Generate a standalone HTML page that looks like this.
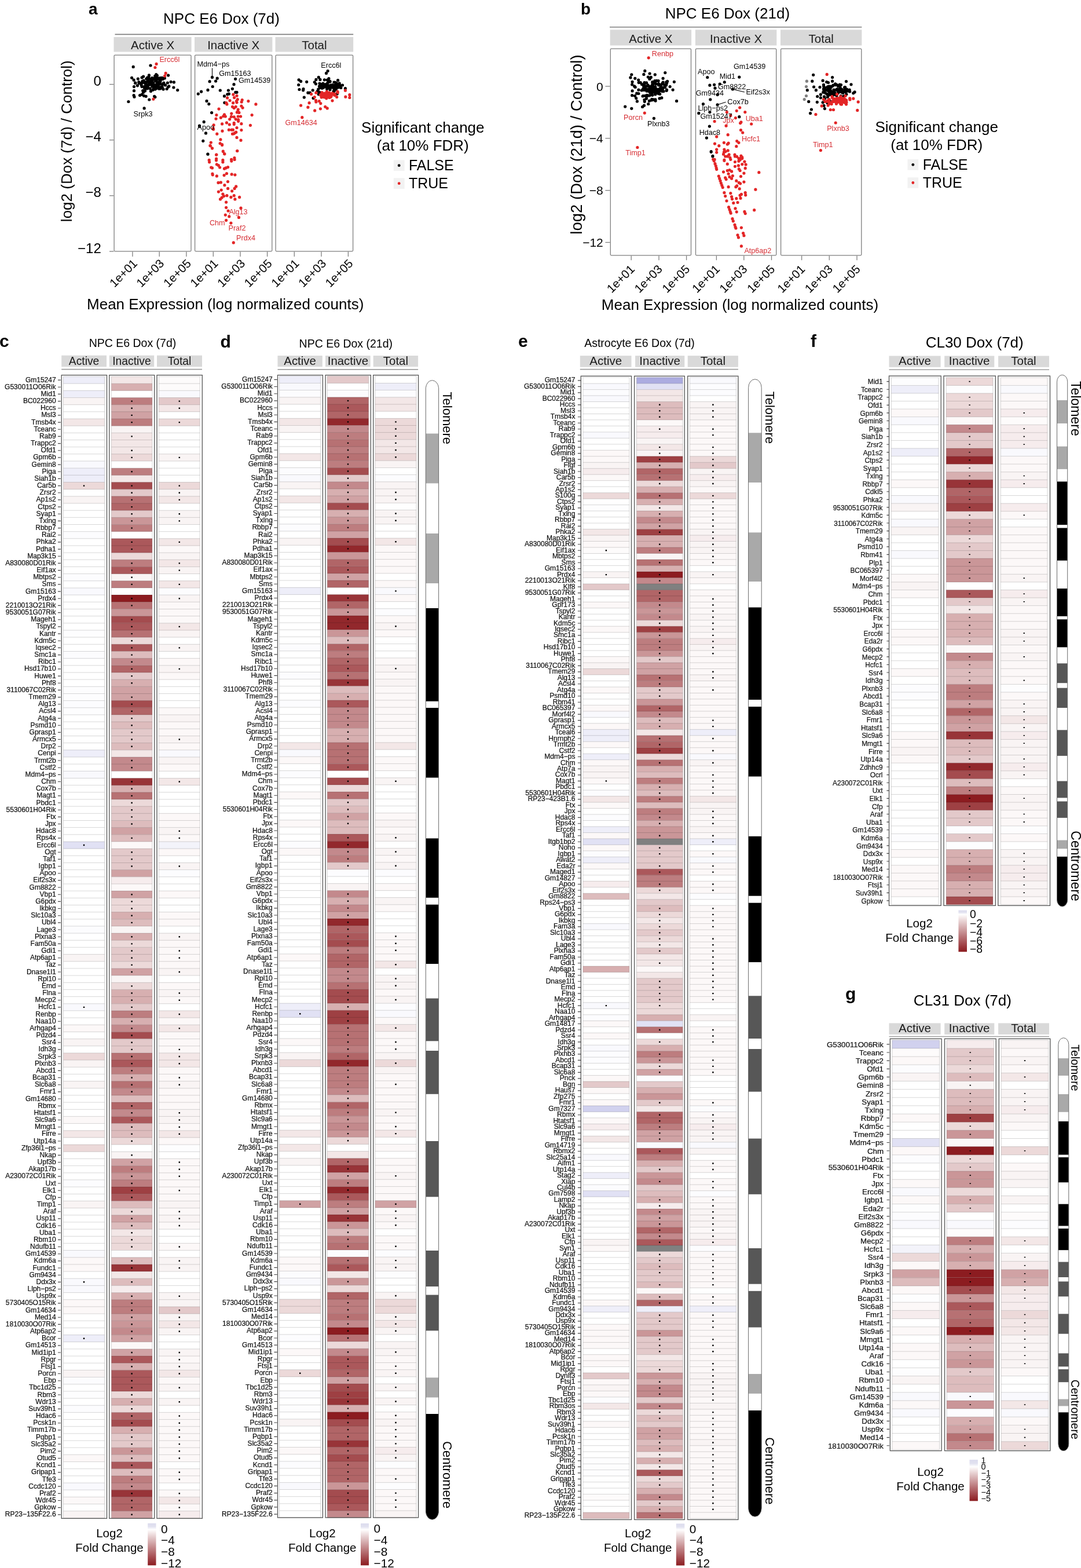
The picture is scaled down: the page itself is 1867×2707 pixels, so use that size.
<!DOCTYPE html>
<html><head><meta charset="utf-8"><title>Figure</title>
<style>html,body{margin:0;padding:0;background:#fff;}svg{display:block;}</style></head>
<body><svg width="1867" height="2707" viewBox="0 0 1867 2707" font-family="'Liberation Sans', Arial, Helvetica, sans-serif">
<rect x="0" y="0" width="1867" height="2707" fill="#FFFFFF"/>
<text x="153" y="24.5" font-size="28" font-weight="bold">a</text>
<text x="382.5" y="41.2" font-size="26" text-anchor="middle">NPC E6 Dox (7d)</text>
<line x1="198.5" y1="59.4" x2="610.2" y2="59.4" stroke="#7F7F7F" stroke-width="1.6"/>
<rect x="196.5" y="64" width="134.1" height="25.5" fill="#D9D9D9"/>
<text x="263.6" y="85.2" font-size="20.5" text-anchor="middle" fill="#1A1A1A">Active X</text>
<rect x="197.1" y="95.1" width="132.9" height="338.7" fill="none" stroke="#7F7F7F" stroke-width="1.3" rx="1.5"/>
<rect x="336" y="64" width="134.4" height="25.5" fill="#D9D9D9"/>
<text x="403.2" y="85.2" font-size="20.5" text-anchor="middle" fill="#1A1A1A">Inactive X</text>
<rect x="336.6" y="95.1" width="133.2" height="338.7" fill="none" stroke="#7F7F7F" stroke-width="1.3" rx="1.5"/>
<rect x="475.5" y="64" width="134.7" height="25.5" fill="#D9D9D9"/>
<text x="542.9" y="85.2" font-size="20.5" text-anchor="middle" fill="#1A1A1A">Total</text>
<rect x="476.1" y="95.1" width="133.5" height="338.7" fill="none" stroke="#7F7F7F" stroke-width="1.3" rx="1.5"/>
<line x1="189" y1="145.6" x2="196.5" y2="145.6" stroke="#7F7F7F" stroke-width="1.3"/>
<text x="174.8" y="148.2" font-size="24" text-anchor="end">0</text>
<line x1="189" y1="241.7" x2="196.5" y2="241.7" stroke="#7F7F7F" stroke-width="1.3"/>
<text x="174.8" y="244.3" font-size="24" text-anchor="end">−4</text>
<line x1="189" y1="337.8" x2="196.5" y2="337.8" stroke="#7F7F7F" stroke-width="1.3"/>
<text x="174.8" y="340.4" font-size="24" text-anchor="end">−8</text>
<line x1="189" y1="434" x2="196.5" y2="434" stroke="#7F7F7F" stroke-width="1.3"/>
<text x="174.8" y="436.6" font-size="24" text-anchor="end">−12</text>
<line x1="228.9" y1="434.4" x2="228.9" y2="443" stroke="#7F7F7F" stroke-width="1.3"/>
<text x="238.4" y="456.2" font-size="20.5" text-anchor="end" transform="rotate(-45 238.4 456.2)">1e+01</text>
<line x1="275.2" y1="434.4" x2="275.2" y2="443" stroke="#7F7F7F" stroke-width="1.3"/>
<text x="284.7" y="456.2" font-size="20.5" text-anchor="end" transform="rotate(-45 284.7 456.2)">1e+03</text>
<line x1="321.9" y1="434.4" x2="321.9" y2="443" stroke="#7F7F7F" stroke-width="1.3"/>
<text x="331.4" y="456.2" font-size="20.5" text-anchor="end" transform="rotate(-45 331.4 456.2)">1e+05</text>
<line x1="368.3" y1="434.4" x2="368.3" y2="443" stroke="#7F7F7F" stroke-width="1.3"/>
<text x="377.8" y="456.2" font-size="20.5" text-anchor="end" transform="rotate(-45 377.8 456.2)">1e+01</text>
<line x1="415" y1="434.4" x2="415" y2="443" stroke="#7F7F7F" stroke-width="1.3"/>
<text x="424.5" y="456.2" font-size="20.5" text-anchor="end" transform="rotate(-45 424.5 456.2)">1e+03</text>
<line x1="461.6" y1="434.4" x2="461.6" y2="443" stroke="#7F7F7F" stroke-width="1.3"/>
<text x="471.1" y="456.2" font-size="20.5" text-anchor="end" transform="rotate(-45 471.1 456.2)">1e+05</text>
<line x1="508.3" y1="434.4" x2="508.3" y2="443" stroke="#7F7F7F" stroke-width="1.3"/>
<text x="517.8" y="456.2" font-size="20.5" text-anchor="end" transform="rotate(-45 517.8 456.2)">1e+01</text>
<line x1="555" y1="434.4" x2="555" y2="443" stroke="#7F7F7F" stroke-width="1.3"/>
<text x="564.5" y="456.2" font-size="20.5" text-anchor="end" transform="rotate(-45 564.5 456.2)">1e+03</text>
<line x1="601.4" y1="434.4" x2="601.4" y2="443" stroke="#7F7F7F" stroke-width="1.3"/>
<text x="610.9" y="456.2" font-size="20.5" text-anchor="end" transform="rotate(-45 610.9 456.2)">1e+05</text>
<text x="124.3" y="243.7" font-size="26" text-anchor="middle" transform="rotate(-90 124.3 243.7)">log2 (Dox (7d) / Control)</text>
<text x="389.2" y="534.3" font-size="26" text-anchor="middle">Mean Expression (log normalized counts)</text>
<path stroke="#000" stroke-width="5.2" stroke-linecap="round" d="M282.1 154.1h0M262.6 138.6h0M244 144.2h0M245.1 133.9h0M264.7 144.9h0M270.2 137.6h0M261.6 143.5h0M237.4 147.8h0M264.7 143h0M281.2 145.4h0M276 141.4h0M265 151.2h0M272.6 144.9h0M244.2 147.1h0M262.7 149h0M265 151.6h0M260.7 145.4h0M272.2 136.4h0M255.1 140.5h0M271.9 148.3h0M257 133.1h0M276.9 141.1h0M273 134.9h0M254.5 152.8h0M284.4 134.9h0M240.2 143.7h0M273.2 145.1h0M266.4 137.1h0M270.9 151.8h0M254.5 134h0M249.4 149.3h0M233.8 143.4h0M245.6 143.1h0M257.6 144.1h0M285.5 146.9h0M282.8 143h0M253.8 146.7h0M264.1 135.4h0M268.9 140.1h0M245.8 140.4h0M259.1 152.8h0M263.2 143.8h0M267.7 131.3h0M281.3 136.5h0M268.5 136.1h0M245.9 141.2h0M291.8 148.9h0M251.8 142h0M243.1 143.8h0M252.3 149.1h0M239.8 141.7h0M248 139h0M272.9 144.9h0M270.9 152.3h0M279.9 134.4h0M270.1 131.7h0M260.5 157.4h0M258.4 141.4h0M264.2 144.1h0M261.9 138.7h0M278.8 150.2h0M258.1 146.2h0M272 151.2h0M267.8 148.9h0M257.3 136.5h0M253.6 151.1h0M277.1 145h0M252.4 146.2h0M288.1 153.5h0M250.6 143.7h0M238.3 136.1h0M264.5 144.2h0M276.9 152.9h0M274.9 153.2h0M252.7 136.1h0M267.2 135.9h0M265.4 154h0M245 149.6h0M251.7 152.9h0M274.1 146.1h0M250.5 157h0M247.5 159.4h0M260.9 136.7h0M261.5 144.9h0M264.7 142.7h0M252.6 142.2h0M290.6 130.1h0M256.1 136h0M250.9 148.5h0M268.1 154.1h0M251.9 145.9h0M280.3 150.3h0M256.1 151.9h0M246.7 156.6h0M264 143.2h0M265.8 149.9h0M289.4 143h0M255.6 148.1h0M247.6 132.1h0M274.9 141.3h0M279.5 136.8h0M264 155.2h0M269.9 146.2h0M270.9 141.4h0M262.7 134.5h0M269.8 138.4h0M254.4 148.9h0M276.1 136.9h0M274.9 150.7h0M265.1 145.2h0M290.3 150.2h0M268.6 131.2h0M249.5 152.1h0M264.6 137.3h0M251.2 141.9h0"/>
<path stroke="#000" stroke-width="5.2" stroke-linecap="round" d="M230.2 115.4h0M260 113h0M221.9 175.5h0M257.8 172h0M266.6 166.3h0M267.9 167.6h0M249.1 186.9h0M299.9 151h0M306.7 155.6h0M295.1 141.3h0M300.4 141.9h0M227.6 134.3h0M231.1 138.2h0M233.7 143.1h0M231.5 149.6h0M231.5 156.7h0M231.1 164.6h0M232 167.2h0M241.6 164.6h0M245.1 163.2h0M248.6 165.4h0M252.1 166.3h0M257.4 129.9h0M269.7 128.6h0M271.4 130.4h0M276.7 134.7h0"/>
<path stroke="#E32526" stroke-width="5.2" stroke-linecap="round" d="M270.1 110.4h0M267.9 116.5h0M286.2 126.4h0M284.6 131.1h0M264.9 171.1h0"/>
<path stroke="#000" stroke-width="5.2" stroke-linecap="round" d="M366.5 133.4h0M375.2 135.2h0M362.1 140.7h0M372.6 140h0M406.6 136.3h0M404 145.7h0M367.2 149.5h0M359 155.4h0M380.3 156h0M347.6 158.2h0M342.3 162.1h0M394.4 156h0M401.4 153.3h0M406.8 159.3h0M409 159.3h0M395.4 162.1h0M392.8 162.8h0M387.5 165.9h0M357 174.4h0M360.8 179.6h0M387.9 177.3h0M365.6 194.6h0M352.2 210.4h0M344.5 217.2h0M355.5 229.9h0M350.8 243.3h0M358.8 266.1h0M359 266.2h0"/>
<path stroke="#E32526" stroke-width="5.2" stroke-linecap="round" d="M402.9 163.2h0M409 165.3h0M404.6 168.5h0M392.6 168.9h0M397 173.5h0M410.3 171.6h0M418.2 172.5h0M408.4 174.6h0M409 176.8h0M417.2 176h0M428.9 174.6h0M441.9 179.9h0M402.6 177.7h0M391.9 179.9h0M390.8 177.7h0M401.5 184.3h0M407.2 184.3h0M404.2 186.5h0M416.9 183h0M419.1 186.1h0M411.2 189.1h0M410.8 192.2h0M412.9 194.4h0M409.4 193.9h0M378 188.1h0M399.8 196.1h0M387.5 197.9h0M373.9 198.6h0M385.8 200.5h0M381.4 203.2h0M389.3 201h0M399.4 201.4h0M404.2 201.8h0M411.2 201h0M415.6 201h0M435.1 198.6h0M396.7 205.8h0M407.2 205.8h0M411.6 206.7h0M373 205.1h0M411.6 209.3h0M391.5 211.9h0M383.6 213.9h0M396.3 215h0M404.2 212.4h0M404.2 214.6h0M416.9 213.7h0M432.4 216.3h0M369.1 215.9h0M368.2 221.6h0M368.6 223.3h0M409 220.5h0M384 226.2h0M395.4 224.2h0M400.2 224.2h0M402.4 224.2h0M416.9 224.6h0M407.7 228.2h0M405.5 229.5h0M401.5 231.2h0M403.7 230.8h0M374.8 231.2h0M409 237.4h0M416 242.2h0M380.9 240.9h0M364.3 246h0M380.1 247.5h0M383.6 249.6h0M362.9 251.4h0M366.5 255.8h0M385.3 261.1h0M387.5 265.4h0M409.6 260.6h0M373.6 267.2h0M404.9 272.5h0M399.6 275.3h0M373.6 274h0M384.9 276.4h0M361.2 276.4h0M363.4 251.8h0M366.5 256.1h0M383.6 250.4h0M385.3 261.4h0M387.9 265.8h0M409.9 260.5h0M373.9 267.1h0M373.5 276.8h0M361.6 279.8h0M384.9 279.8h0M399.8 278.1h0M405.1 275.4h0M374.4 283.8h0M377.4 285.5h0M379.6 289h0M364.7 289h0M366.5 289.9h0M387.5 291.2h0M390.1 289.9h0M393.6 288.6h0M366.9 300h0M367.3 301.8h0M374.4 303.9h0M387.1 302.6h0M391.5 299.6h0M400.2 300.9h0M405.9 301.8h0M377 315.4h0M381.4 314.9h0M393.5 313.6h0M387.9 319.7h0M393.6 325.4h0M400.7 329.8h0M405.1 325.4h0M407.7 321.9h0M377.4 331.1h0M382.2 328.1h0M384.9 335.1h0M386.6 338.6h0M383.1 341.2h0M380.5 343.9h0M391.9 337.7h0M398.9 340.4h0M404.2 337.7h0M405.9 343.9h0M413.6 340.4h0M390.6 349.1h0M390.6 358.3h0M416 359.2h0M394.1 364h0M395.8 373.7h0M389.3 371.1h0M412.5 375.4h0M390.6 380.3h0M398.9 385.1h0M403.3 418.9h0"/>
<path stroke="#000" stroke-width="5.2" stroke-linecap="round" d="M573.1 150.8h0M578.9 142.3h0M562.6 145.9h0M554 145.4h0M561.3 148.4h0M556.2 152.3h0M583.5 147.8h0M558.3 151.5h0M571 150.3h0M556.9 151.1h0M548 157.9h0M551.5 148.9h0M568.2 151.2h0M564.8 152.7h0M564.2 146.9h0M586.2 143.9h0M565.2 138.1h0M569.9 140.3h0M575.5 149.2h0M568.5 141.3h0M552.5 151.6h0M551.6 159h0M579.7 146.4h0M565.5 143.7h0M570 154.8h0M565.6 146.9h0M576.6 147.6h0M577.5 147.5h0M587.6 147.7h0M552.3 149.8h0M557.9 144h0M564.6 153.5h0M564.3 148.5h0M577 142h0M575.1 148h0M567.9 148.1h0M562.1 146.4h0M580.4 154.1h0M573.9 146.7h0M549.7 154.1h0M580.1 151h0M577.2 157.3h0M588.8 151.4h0M577.9 150.6h0M570.9 147h0M576.1 157.7h0M565.1 151.1h0M575.4 149.8h0M579.6 151.1h0M552 144h0M576.9 153.3h0M581.9 151.2h0M570.1 141h0M585.8 144.7h0M581.2 143.5h0M558.8 150.7h0M562 145.9h0M579.4 153.6h0M572.8 148h0M556.8 147.2h0M560.8 149.7h0M577.7 148.9h0M557.3 146.5h0M584.5 150.8h0M570.8 151.5h0"/>
<path stroke="#000" stroke-width="5.2" stroke-linecap="round" d="M566.1 122.5h0M563.5 126.4h0M550.3 133.4h0M552.9 137.4h0M560.4 137.8h0M567.9 135.6h0M567 139.1h0M583.6 138.7h0M516.1 137.8h0M519.6 140.4h0M529.7 141.3h0M515.7 146.6h0M545.9 137.4h0M543.3 141.8h0M545.5 144.8h0M517 154.5h0M524 153.6h0M523.6 155.8h0M531.9 160.2h0M535.4 160.2h0M540.2 155.8h0M550.3 162.8h0M525.3 168.1h0M541.1 169.4h0M582.3 161.9h0M591.5 147h0M596.4 152.7h0"/>
<path stroke="#E32526" stroke-width="5.2" stroke-linecap="round" d="M568.9 168.5h0M559.6 167.7h0M565.7 163.7h0M567.6 166.8h0M578.1 164.4h0M573.3 161.4h0M564.7 163.1h0M556 159.7h0M553.4 163.7h0M566.4 163.5h0M568.6 160.2h0M567.3 165.3h0M574.8 161.8h0M564.4 158.1h0M555.2 168h0M571 163.5h0M572.1 166.2h0M577.4 163.8h0M562.7 162.6h0M559.1 164.4h0M560.9 167.9h0M565.5 162.8h0M582.9 158.1h0M577.6 162.2h0M566.6 162.4h0M573.8 160.9h0M567.3 165.6h0M581.7 167.5h0M563.6 165.5h0M563.8 169.8h0M569.9 163.8h0M565.9 163.9h0M566.4 161.7h0M566.7 165.7h0M566.2 164h0M571 167.6h0M564 163.3h0M575 162.6h0M557.4 165.5h0M560.5 161.1h0M556.3 162.9h0M578 163.1h0M555 166.6h0M568.6 167.2h0M578.8 164h0"/>
<path stroke="#E32526" stroke-width="5.2" stroke-linecap="round" d="M596.4 156.2h0M603.8 163.7h0M603.8 168.5h0M596.8 167.2h0M574 173.8h0M537.6 162.4h0M545.9 160.2h0M543.3 167.6h0M545.5 173.3h0M545.9 176h0M551.2 174.6h0M553.8 178.6h0M534.1 177.7h0M519.6 182.1h0M531.9 185.2h0M543.7 190.9h0M553.4 187.8h0M561.7 184.3h0M565.2 186.9h0M583.2 159.7h0M521.8 202.7h0"/>
<text x="275.4" y="106.7" font-size="12.6" fill="#D62F35">Ercc6l</text>
<text x="230.6" y="200.6" font-size="12.6">Srpk3</text>
<text x="340.6" y="114.6" font-size="12.6">Mdm4−ps</text>
<line x1="366.5" y1="117.5" x2="366.5" y2="131" stroke="#000" stroke-width="1.1"/>
<text x="378.3" y="130.8" font-size="12.6">Gm15163</text>
<text x="411.9" y="142.6" font-size="12.6">Gm14539</text>
<text x="340.6" y="224.2" font-size="12.6">Apoo</text>
<text x="395.4" y="369.7" font-size="12.6" fill="#D62F35">Alg13</text>
<text x="361.9" y="388.6" font-size="12.6" fill="#D62F35">Chm</text>
<text x="394.5" y="398.2" font-size="12.6" fill="#D62F35">Praf2</text>
<text x="408.1" y="414.9" font-size="12.6" fill="#D62F35">Prdx4</text>
<text x="554.3" y="117.4" font-size="12.6">Ercc6l</text>
<text x="492.4" y="216.3" font-size="12.6" fill="#D62F35">Gm14634</text>
<text x="730.3" y="229.1" font-size="26" text-anchor="middle">Significant change</text>
<text x="730.3" y="260" font-size="26" text-anchor="middle">(at 10% FDR)</text>
<rect x="679.8" y="276.3" width="18.8" height="18.8" fill="#F2F2F2"/>
<rect x="679.8" y="307.3" width="18.8" height="18.7" fill="#F2F2F2"/>
<path stroke="#000" stroke-width="4.8" stroke-linecap="round" d="M689.2 285.7h0"/>
<path stroke="#E32526" stroke-width="4.8" stroke-linecap="round" d="M689.2 316.7h0"/>
<text x="705.9" y="293.8" font-size="25">FALSE</text>
<text x="705.9" y="325" font-size="25">TRUE</text>
<text x="1003" y="25.4" font-size="28" font-weight="bold">b</text>
<text x="1256.4" y="32.1" font-size="26" text-anchor="middle">NPC E6 Dox (21d)</text>
<line x1="1053" y1="46.7" x2="1488.4" y2="46.7" stroke="#7F7F7F" stroke-width="1.6"/>
<rect x="1053.7" y="51.4" width="140.4" height="27.1" fill="#D9D9D9"/>
<text x="1123.9" y="73.7" font-size="20.5" text-anchor="middle" fill="#1A1A1A">Active X</text>
<rect x="1054.3" y="84.2" width="139.2" height="356.6" fill="none" stroke="#7F7F7F" stroke-width="1.3" rx="1.5"/>
<rect x="1200.9" y="51.4" width="140.4" height="27.1" fill="#D9D9D9"/>
<text x="1271.1" y="73.7" font-size="20.5" text-anchor="middle" fill="#1A1A1A">Inactive X</text>
<rect x="1201.5" y="84.2" width="139.2" height="356.6" fill="none" stroke="#7F7F7F" stroke-width="1.3" rx="1.5"/>
<rect x="1348" y="51.4" width="140.4" height="27.1" fill="#D9D9D9"/>
<text x="1418.2" y="73.7" font-size="20.5" text-anchor="middle" fill="#1A1A1A">Total</text>
<rect x="1348.6" y="84.2" width="139.2" height="356.6" fill="none" stroke="#7F7F7F" stroke-width="1.3" rx="1.5"/>
<line x1="1045.4" y1="149" x2="1053.6" y2="149" stroke="#7F7F7F" stroke-width="1.3"/>
<text x="1041.8" y="156.6" font-size="21" text-anchor="end">0</text>
<line x1="1045.4" y1="238.8" x2="1053.6" y2="238.8" stroke="#7F7F7F" stroke-width="1.3"/>
<text x="1041.8" y="246.4" font-size="21" text-anchor="end">−4</text>
<line x1="1045.4" y1="328.7" x2="1053.6" y2="328.7" stroke="#7F7F7F" stroke-width="1.3"/>
<text x="1041.8" y="336.2" font-size="21" text-anchor="end">−8</text>
<line x1="1045.4" y1="418.5" x2="1053.6" y2="418.5" stroke="#7F7F7F" stroke-width="1.3"/>
<text x="1041.8" y="426.1" font-size="21" text-anchor="end">−12</text>
<line x1="1090.2" y1="441.4" x2="1090.2" y2="449.2" stroke="#7F7F7F" stroke-width="1.3"/>
<text x="1097.2" y="466" font-size="20.5" text-anchor="end" transform="rotate(-45 1097.2 466)">1e+01</text>
<line x1="1138" y1="441.4" x2="1138" y2="449.2" stroke="#7F7F7F" stroke-width="1.3"/>
<text x="1145" y="466" font-size="20.5" text-anchor="end" transform="rotate(-45 1145 466)">1e+03</text>
<line x1="1185.6" y1="441.4" x2="1185.6" y2="449.2" stroke="#7F7F7F" stroke-width="1.3"/>
<text x="1192.6" y="466" font-size="20.5" text-anchor="end" transform="rotate(-45 1192.6 466)">1e+05</text>
<line x1="1237.4" y1="441.4" x2="1237.4" y2="449.2" stroke="#7F7F7F" stroke-width="1.3"/>
<text x="1244.4" y="466" font-size="20.5" text-anchor="end" transform="rotate(-45 1244.4 466)">1e+01</text>
<line x1="1284.8" y1="441.4" x2="1284.8" y2="449.2" stroke="#7F7F7F" stroke-width="1.3"/>
<text x="1291.8" y="466" font-size="20.5" text-anchor="end" transform="rotate(-45 1291.8 466)">1e+03</text>
<line x1="1332.5" y1="441.4" x2="1332.5" y2="449.2" stroke="#7F7F7F" stroke-width="1.3"/>
<text x="1339.5" y="466" font-size="20.5" text-anchor="end" transform="rotate(-45 1339.5 466)">1e+05</text>
<line x1="1384.6" y1="441.4" x2="1384.6" y2="449.2" stroke="#7F7F7F" stroke-width="1.3"/>
<text x="1391.6" y="466" font-size="20.5" text-anchor="end" transform="rotate(-45 1391.6 466)">1e+01</text>
<line x1="1432.3" y1="441.4" x2="1432.3" y2="449.2" stroke="#7F7F7F" stroke-width="1.3"/>
<text x="1439.3" y="466" font-size="20.5" text-anchor="end" transform="rotate(-45 1439.3 466)">1e+03</text>
<line x1="1480" y1="441.4" x2="1480" y2="449.2" stroke="#7F7F7F" stroke-width="1.3"/>
<text x="1487" y="466" font-size="20.5" text-anchor="end" transform="rotate(-45 1487 466)">1e+05</text>
<text x="1004.5" y="249.5" font-size="27.5" text-anchor="middle" transform="rotate(-90 1004.5 249.5)">log2 (Dox (21d) / Control)</text>
<text x="1278" y="534.5" font-size="26" text-anchor="middle">Mean Expression (log normalized counts)</text>
<path stroke="#000" stroke-width="5.2" stroke-linecap="round" d="M1125.6 158.2h0M1118.5 157.2h0M1138 157.7h0M1146.9 146h0M1125.9 147.7h0M1114 152.3h0M1128.1 157.8h0M1132.1 174.1h0M1137.1 139.6h0M1127.9 148.4h0M1117.8 165.8h0M1121.9 136.4h0M1129.3 151.4h0M1108.6 145.7h0M1116.2 153.8h0M1119 154.6h0M1150.7 146.8h0M1113.7 151.8h0M1140.3 147.6h0M1145.1 142.2h0M1110.5 153.5h0M1112.9 148.4h0M1131.3 160.5h0M1126.6 151.5h0M1143.8 157.6h0M1121.7 164.9h0M1112.4 155.5h0M1134.2 153.9h0M1117 157.2h0M1117.4 148.6h0M1110.7 165.7h0M1117.3 164.4h0M1130.3 151.7h0M1134.3 156.4h0M1126.8 141.6h0M1126 162h0M1131.8 163h0M1145.9 157.7h0M1152.6 140.4h0M1136.5 154.8h0M1148.6 150.7h0M1096.6 165.5h0M1106.2 142.6h0M1122.5 159.6h0M1117.9 155.7h0M1098.7 169.6h0M1124.1 155.1h0M1133.2 155.5h0M1127.8 145.6h0M1123.4 157.9h0M1139.6 152.9h0M1126.3 157h0M1133 155.9h0M1121.5 149.4h0M1140.7 156.7h0M1137.4 161.7h0M1127.1 144.9h0M1140.9 153.2h0M1125.7 163.2h0M1139.2 156.2h0M1125.3 172.9h0M1133 144.8h0M1135.5 155.4h0M1125.5 160.1h0M1128.3 172h0M1127.9 156.3h0M1141.3 148.9h0M1139.2 153.5h0M1141.6 146.4h0M1130.9 139.6h0M1118.8 154.1h0M1131.9 171.8h0M1150.7 141.9h0M1114.4 165.3h0M1131.1 141.7h0M1131.8 143.9h0M1113 142.7h0M1121.4 174.2h0M1130.3 153h0M1122.9 151.6h0M1130.9 151.2h0M1145.4 151.4h0M1132.9 156h0M1113 145.2h0M1124.3 133.4h0M1125.2 154.7h0M1127 153.3h0M1130 150.9h0M1134 139.4h0M1137.7 146.1h0M1131.8 149.8h0M1119.1 146.9h0M1143.8 144.2h0M1108.2 156h0M1128.6 154.4h0M1111.6 148.2h0M1137.6 144.7h0M1133.5 160.5h0M1126.9 143.1h0M1151.6 155.1h0M1127.8 150.6h0M1111.8 151.6h0M1127.8 146.4h0M1126.7 164.3h0M1131.1 153.2h0M1139.7 162.3h0M1137.6 146.9h0M1099.7 161.2h0M1125.9 150.7h0M1131.8 150h0M1116.4 170.2h0M1102.9 161.5h0M1139.1 169.9h0M1128.6 158.6h0M1112.3 154.3h0M1095.7 148.9h0M1124.6 153.1h0M1118.3 164.5h0M1102.9 155.2h0M1119.5 154.4h0M1125.8 171.4h0M1110.1 166h0M1144.6 152.9h0M1116.5 142.9h0M1113 172.3h0"/>
<path stroke="#000" stroke-width="5.2" stroke-linecap="round" d="M1129.4 204.3h0M1079.7 184.1h0M1090.8 187.3h0M1168.6 174.4h0M1164.4 141.3h0M1148.8 125.6h0M1113.8 122.4h0M1111.9 128.4h0M1122.1 127h0M1090.8 128.8h0M1088.9 133.9h0M1096.8 135.3h0M1102.7 138h0M1103.2 142.6h0M1092.1 141.3h0M1091.7 145.9h0M1097.2 150.5h0M1092.1 156.9h0M1091.7 164.7h0M1100.4 174.9h0M1113.3 175.3h0M1119.8 179.5h0M1112.4 182.2h0M1109.6 184.5h0M1142.8 168.9h0M1145.1 135.3h0M1157.1 149.5h0M1162.1 155.1h0M1151.6 143.6h0M1131.3 128.8h0M1119.3 133h0M1122.5 135.3h0M1129 172.1h0M1151.1 156.4h0"/>
<path stroke="#E32526" stroke-width="5.2" stroke-linecap="round" d="M1120.2 99.8h0M1113.3 195.1h0M1100.9 254.5h0"/>
<path stroke="#000" stroke-width="5.2" stroke-linecap="round" d="M1221.8 133.6h0M1276.8 133.1h0M1251.3 141.8h0M1225.9 147.2h0M1233.6 146.3h0M1243.2 145h0M1235 152.2h0M1265.4 154h0M1239.1 163.6h0M1226.8 171.8h0M1214.5 179.5h0M1239.1 180.8h0M1206.8 195.4h0M1225.9 193.6h0M1276.8 201.7h0M1225.4 218.1h0M1220.4 238.1h0M1228.2 261.7h0M1230.9 269.4h0M1228.2 262.3h0M1230.9 270h0"/>
<path stroke="#E32526" stroke-width="5.2" stroke-linecap="round" d="M1277.7 185.8h0M1272.2 191.3h0M1286.8 193.6h0M1255.4 193.6h0M1261.8 199.5h0M1270.4 203.6h0M1234.1 209.5h0M1279.9 210.8h0M1278.6 212.6h0M1297.7 214h0M1254.1 217.2h0M1279.5 224.5h0M1282.7 229h0M1257.2 259.9h0M1237.7 263.1h0M1272.7 270.3h0M1275.9 273.5h0M1234.1 275.3h0M1241.8 251.7h0M1250.4 246.3h0M1258.1 247.2h0M1256.3 249h0M1234.5 248.1h0M1237.7 258.1h0M1250.9 258.1h0M1252.7 261.7h0M1249.5 266.2h0M1259.1 267.2h0M1256.3 269.9h0M1269 267.2h0M1279.9 269h0M1281.8 271.7h0M1250.9 276.2h0M1261.8 275.3h0M1231.8 275h0M1233.2 277.7h0M1235 282.7h0M1236.3 286.3h0M1237.2 290h0M1237.7 292.3h0M1241.3 304.1h0M1242.7 308.2h0M1244.1 312.2h0M1245.4 316.3h0M1246.8 320h0M1248.2 323.6h0M1258.6 357.7h0M1260 361.8h0M1261.3 365.4h0M1262.2 368.1h0M1265 377.7h0M1266.3 381.7h0M1269 388.1h0M1270 391.7h0M1270.9 394h0M1274 405.8h0M1275.4 409.9h0M1250.4 262.7h0M1259.1 266.8h0M1252.7 270h0M1260.9 272.3h0M1269.5 270h0M1279.9 271.8h0M1281.8 273.6h0M1278.1 275.9h0M1275.9 278.2h0M1285.9 279.1h0M1288.1 284.1h0M1281.8 283.6h0M1269.5 279.5h0M1256.3 283.2h0M1250.9 277.3h0M1269.5 287.3h0M1275.4 285.9h0M1287.2 290.4h0M1276.3 291.8h0M1278.1 294.5h0M1284.9 299.1h0M1279.5 304.5h0M1249.5 296.8h0M1256.3 294.5h0M1260 293.6h0M1263.6 295.9h0M1258.1 300h0M1260 305.4h0M1265.4 303.6h0M1263.6 308.2h0M1252.7 306.8h0M1254.1 309.5h0M1271.8 312.2h0M1276.3 315.4h0M1278.6 316.8h0M1284.9 314.1h0M1272.7 320.9h0M1270.9 322.7h0M1277.2 325.9h0M1258.1 322.7h0M1310.8 297.7h0M1304.9 327.2h0M1250.9 332.7h0M1261.8 333.6h0M1252.7 338.6h0M1263.6 339.5h0M1264.5 343.6h0M1271.8 342.7h0M1278.1 337.2h0M1280.4 335.4h0M1279 342.2h0M1287.2 332.7h0M1287.7 336.8h0M1255 346.8h0M1266.8 350.4h0M1274 349.5h0M1270 359.9h0M1272.2 365.8h0M1285.9 365.4h0M1287.2 368.6h0M1302.7 362.7h0M1280.4 393.1h0M1283.6 402.6h0M1284.9 406.7h0M1280.4 424.9h0M1237.7 235.9h0M1257.2 232.7h0M1272.7 243.6h0M1275.9 246.3h0M1271.8 252.7h0"/>
<path stroke="#000" stroke-width="5.2" stroke-linecap="round" d="M1429.7 150.7h0M1459.3 158.1h0M1462.6 154.2h0M1450.2 155.4h0M1435.4 157.8h0M1428.7 155h0M1454.1 157.3h0M1445.8 153.8h0M1447.1 154.1h0M1440 155.1h0M1447.3 160.7h0M1426 155h0M1453.6 154.1h0M1440 159.5h0M1447.9 158.6h0M1439.4 164.1h0M1464.6 157.2h0M1439.1 161h0M1451.2 151.3h0M1439 162.8h0M1443.7 155.2h0M1447.8 156.8h0M1445 146.4h0M1467.7 158.1h0M1433.6 162.4h0M1449 157.1h0M1452.2 165.7h0M1438.2 161.3h0M1422.8 155.5h0M1461.8 162.7h0M1452.5 146.6h0M1455 159.7h0M1422.7 149.1h0M1429.2 167.5h0M1434.2 155.7h0M1441.7 160.1h0M1451.5 158.5h0M1447.2 158.5h0M1461 156.4h0M1437.1 159.3h0M1424.8 151.3h0M1431.9 158.6h0M1459.8 158.3h0M1448.6 154.5h0M1429.4 149.9h0M1455.9 160.6h0M1459.8 165.6h0M1441 162.8h0M1459.1 156.1h0M1424 157.7h0M1434.3 157.6h0M1439 158.8h0M1462.7 155.1h0M1433.2 157h0M1453.8 159.3h0M1450.2 146.2h0M1430.3 164.4h0M1448.1 148.6h0M1433.7 149h0M1431.7 163.5h0M1442.1 163.2h0M1447.5 148.6h0M1434.9 151.1h0M1461.3 157.5h0M1444.9 165.2h0M1421.7 159.3h0M1431 149.1h0M1434.2 163.5h0M1443.1 146.7h0M1430.3 165.6h0M1458.6 150.9h0M1429.1 156.2h0M1457.4 166.1h0M1458.7 154.6h0M1437.5 148.8h0"/>
<path stroke="#000" stroke-width="5.2" stroke-linecap="round" d="M1404.7 129.3h0M1437.6 133.6h0M1402.8 140.2h0M1421.1 139.2h0M1427.7 141.6h0M1430.5 142.5h0M1437.6 140.2h0M1461.5 140.6h0M1470 145.8h0M1422.5 146.3h0M1442.7 144.8h0M1439 147.2h0M1405.6 150h0M1416 150.5h0M1422.5 153.3h0M1409.4 155.7h0M1394.3 155.7h0M1433.3 151.4h0M1431.5 154.2h0M1459.7 150.5h0M1467.2 155.2h0M1476.1 158.9h0M1473.8 160.8h0M1425.8 160.8h0M1428.6 162.7h0M1417.4 163.2h0M1411.7 166.5h0M1417.4 168.8h0M1423.5 166.9h0M1424.4 170.2h0M1433.3 174h0M1396.7 175.4h0M1411.3 176.3h0M1421.1 176.8h0M1429.1 177.7h0M1401.4 189h0M1399.5 195.6h0M1424.4 187.6h0M1423 182.4h0"/>
<path stroke="#808080" stroke-width="5.2" stroke-linecap="round" d="M1393.4 140.2h0M1392.5 149.5h0M1392.5 165.5h0M1389.2 171.6h0"/>
<path stroke="#E32526" stroke-width="5.2" stroke-linecap="round" d="M1452 166.7h0M1439.2 173.3h0M1461.7 173h0M1430.4 174.1h0M1435 177.3h0M1444.4 179.2h0M1445.7 169.4h0M1432.3 171.7h0M1451.5 177.2h0M1449.7 170.4h0M1452 168h0M1452 170.4h0M1462 176.5h0M1450.7 169.4h0M1452.5 174.3h0M1441.5 170.8h0M1459.7 171.6h0M1451.4 177.9h0M1432.1 179.3h0M1457.1 170.7h0M1437.5 168.7h0M1456.3 173.6h0M1440.2 171.2h0M1443.3 172.2h0M1455.9 170.1h0M1457.9 176.5h0M1444.5 175.1h0M1441.6 173.2h0M1452 179.8h0M1446.5 172.5h0M1447.3 172.4h0M1436.2 179.6h0M1440.8 170.9h0M1439.9 175.4h0M1456.9 174.2h0M1446.8 169.5h0M1454.4 172.7h0M1467.9 172h0M1436.9 166.6h0M1429.2 175.2h0M1450.4 169h0M1431.6 174h0M1443.4 173.8h0M1446.8 170.2h0M1429.5 173.5h0M1448 173.6h0M1456.5 176.3h0M1442.1 175.1h0M1425.1 175.4h0M1446.7 176.6h0M1457 169.7h0M1445.7 176.9h0M1441.5 173.3h0M1440.9 175.1h0M1450 170.1h0M1455.6 171.4h0M1440 171.1h0M1437.7 175.4h0M1446.7 173.4h0M1443.7 173.4h0"/>
<path stroke="#E32526" stroke-width="5.2" stroke-linecap="round" d="M1428.2 128.4h0M1422.5 171.6h0M1419.2 182.9h0M1430.1 182h0M1434.3 189.5h0M1439.5 189.5h0M1408.9 197.5h0M1467.7 169.8h0M1473.8 170.2h0M1482.2 175.9h0M1480.8 190.4h0M1461.5 180.1h0M1453.6 180.1h0M1459.2 177.3h0M1460.1 165.5h0M1445.6 162.7h0M1443.2 212h0M1417.4 259.5h0"/>
<text x="1125.8" y="96.6" font-size="12.6" fill="#D62F35">Renbp</text>
<text x="1077.1" y="207.1" font-size="12.6" fill="#D62F35">Porcn</text>
<text x="1118" y="218.2" font-size="12.6">Plxnb3</text>
<text x="1080.2" y="268.4" font-size="12.6" fill="#D62F35">Timp1</text>
<text x="1267" y="119.1" font-size="12.6">Gm14539</text>
<text x="1205" y="127.7" font-size="12.6">Apoo</text>
<text x="1242.7" y="135.9" font-size="12.6">Mid1</text>
<text x="1240" y="154" font-size="12.6">Gm8822</text>
<line x1="1265.4" y1="154" x2="1285.9" y2="159" stroke="#000" stroke-width="1.1"/>
<text x="1288.6" y="163.1" font-size="12.6">Eif2s3x</text>
<text x="1201.8" y="165.4" font-size="12.6">Gm9434</text>
<line x1="1239.1" y1="180.8" x2="1253.6" y2="176.3" stroke="#000" stroke-width="1.1"/>
<text x="1256.3" y="180.4" font-size="12.6">Cox7b</text>
<text x="1205.5" y="191.3" font-size="12.6">Llph−ps2</text>
<text x="1209.5" y="205.4" font-size="12.6">Gm15247</text>
<text x="1248.2" y="212.2" font-size="12.6" fill="#D62F35">Jpx</text>
<text x="1287.7" y="208.6" font-size="12.6" fill="#D62F35">Uba1</text>
<text x="1207.7" y="232.6" font-size="12.6">Hdac8</text>
<text x="1280.9" y="243.5" font-size="12.6" fill="#D62F35">Hcfc1</text>
<text x="1285.4" y="436.7" font-size="12.6" fill="#D62F35">Atp6ap2</text>
<text x="1428.2" y="226.1" font-size="12.6" fill="#D62F35">Plxnb3</text>
<text x="1404" y="253.9" font-size="12.6" fill="#D62F35">Timp1</text>
<text x="1617.7" y="228" font-size="26" text-anchor="middle">Significant change</text>
<text x="1617.7" y="258.6" font-size="26" text-anchor="middle">(at 10% FDR)</text>
<rect x="1567.4" y="275" width="18.8" height="18.7" fill="#F2F2F2"/>
<rect x="1567.4" y="306.3" width="18.8" height="18.4" fill="#F2F2F2"/>
<path stroke="#000" stroke-width="4.8" stroke-linecap="round" d="M1576.8 284.3h0"/>
<path stroke="#E32526" stroke-width="4.8" stroke-linecap="round" d="M1576.8 315.5h0"/>
<text x="1593.7" y="292.8" font-size="25">FALSE</text>
<text x="1593.7" y="323.8" font-size="25">TRUE</text>
<text x="-1" y="599.3" font-size="30" font-weight="bold">c</text>
<text x="229" y="599.3" font-size="19.5" text-anchor="middle">NPC E6 Dox (7d)</text>
<rect x="106.2" y="613.6" width="77.8" height="19.7" fill="#D9D9D9"/>
<text x="145.1" y="629.7" font-size="19.3" text-anchor="middle" fill="#1A1A1A">Active</text>
<rect x="188.8" y="613.6" width="77.4" height="19.7" fill="#D9D9D9"/>
<text x="227.5" y="629.7" font-size="19.3" text-anchor="middle" fill="#1A1A1A">Inactive</text>
<rect x="271" y="613.6" width="78" height="19.7" fill="#D9D9D9"/>
<text x="310" y="629.7" font-size="19.3" text-anchor="middle" fill="#1A1A1A">Total</text>
<line x1="106.2" y1="637.6" x2="349" y2="637.6" stroke="#A0A0A0" stroke-width="1.6"/>
<path fill="#EEEEF9" d="M109.5 650h71v12.2h-71zM109.5 674.3h71v12.2h-71zM109.5 808.2h71v12.2h-71zM109.5 820.3h71v12.2h-71zM109.5 1294.8h71v12.2h-71zM109.5 2304.6h71v12.2h-71z"/>
<path fill="#F9F4F4" d="M109.5 686.5h71v12.2h-71zM109.5 856.8h71v12.2h-71zM109.5 1647.6h71v12.2h-71zM109.5 1793.6h71v12.2h-71zM109.5 1830.1h71v12.2h-71zM109.5 1866.6h71v12.2h-71zM109.5 2073.4h71v12.2h-71zM109.5 2365.4h71v12.2h-71zM109.5 2608.7h71v12.2h-71zM192.4 735.2h70.5v12.2h-70.5zM192.4 990.6h70.5v12.2h-70.5zM192.4 1598.9h70.5v12.2h-70.5zM192.4 1684.1h70.5v12.2h-70.5zM192.4 1988.3h70.5v12.2h-70.5zM274.3 783.8h70.9v12.2h-70.9zM274.3 844.7h70.9v12.2h-70.9zM274.3 881.2h70.9v12.2h-70.9zM274.3 893.3h70.9v12.2h-70.9zM274.3 954.2h70.9v12.2h-70.9zM274.3 978.5h70.9v12.2h-70.9zM274.3 1027.1h70.9v12.2h-70.9zM274.3 1088h70.9v12.2h-70.9zM274.3 1112.3h70.9v12.2h-70.9zM274.3 1148.8h70.9v12.2h-70.9zM274.3 1234h70.9v12.2h-70.9zM274.3 1270.5h70.9v12.2h-70.9zM274.3 1307h70.9v12.2h-70.9zM274.3 1428.6h70.9v12.2h-70.9zM274.3 1489.5h70.9v12.2h-70.9zM274.3 1611.1h70.9v12.2h-70.9zM274.3 1671.9h70.9v12.2h-70.9zM274.3 1708.4h70.9v12.2h-70.9zM274.3 1866.6h70.9v12.2h-70.9zM274.3 1915.3h70.9v12.2h-70.9zM274.3 1927.4h70.9v12.2h-70.9zM274.3 2073.4h70.9v12.2h-70.9zM274.3 2097.8h70.9v12.2h-70.9zM274.3 2170.8h70.9v12.2h-70.9zM274.3 2182.9h70.9v12.2h-70.9zM274.3 2231.6h70.9v12.2h-70.9zM274.3 2243.7h70.9v12.2h-70.9zM274.3 2268.1h70.9v12.2h-70.9zM274.3 2292.4h70.9v12.2h-70.9zM274.3 2328.9h70.9v12.2h-70.9zM274.3 2353.2h70.9v12.2h-70.9zM274.3 2389.7h70.9v12.2h-70.9zM274.3 2414.1h70.9v12.2h-70.9z"/>
<path fill="#F3E7E7" d="M109.5 723h71v12.2h-71zM109.5 1951.8h71v12.2h-71zM192.4 650h70.5v12.2h-70.5zM192.4 747.3h70.5v12.2h-70.5zM192.4 759.5h70.5v12.2h-70.5zM192.4 771.7h70.5v12.2h-70.5zM192.4 820.3h70.5v12.2h-70.5zM192.4 1294.8h70.5v12.2h-70.5zM192.4 2122.1h70.5v12.2h-70.5zM192.4 2195.1h70.5v12.2h-70.5zM274.3 698.7h70.9v12.2h-70.9zM274.3 856.8h70.9v12.2h-70.9zM274.3 929.8h70.9v12.2h-70.9zM274.3 966.3h70.9v12.2h-70.9zM274.3 1002.8h70.9v12.2h-70.9zM274.3 1075.8h70.9v12.2h-70.9zM274.3 1343.5h70.9v12.2h-70.9zM274.3 1744.9h70.9v12.2h-70.9zM274.3 1769.3h70.9v12.2h-70.9zM274.3 1817.9h70.9v12.2h-70.9zM274.3 1830.1h70.9v12.2h-70.9zM274.3 1951.8h70.9v12.2h-70.9zM274.3 2280.2h70.9v12.2h-70.9zM274.3 2365.4h70.9v12.2h-70.9zM274.3 2584.4h70.9v12.2h-70.9z"/>
<path fill="#F9F9FD" d="M109.5 796h71v12.2h-71zM109.5 1015h71v12.2h-71zM109.5 1331.3h71v12.2h-71zM109.5 1732.8h71v12.2h-71zM109.5 2158.6h71v12.2h-71zM109.5 2207.2h71v12.2h-71zM109.5 2219.4h71v12.2h-71zM109.5 2560.1h71v12.2h-71zM274.3 674.3h70.9v12.2h-70.9zM274.3 1294.8h70.9v12.2h-70.9z"/>
<path fill="#ECD9D9" d="M109.5 832.5h71v12.2h-71zM109.5 1817.9h71v12.2h-71zM109.5 1976.1h71v12.2h-71zM192.4 783.8h70.5v12.2h-70.5zM192.4 954.2h70.5v12.2h-70.5zM192.4 1100.1h70.5v12.2h-70.5zM192.4 1380h70.5v12.2h-70.5zM192.4 1550.3h70.5v12.2h-70.5zM192.4 1562.5h70.5v12.2h-70.5zM192.4 1623.3h70.5v12.2h-70.5zM192.4 1659.8h70.5v12.2h-70.5zM192.4 1696.3h70.5v12.2h-70.5zM192.4 1963.9h70.5v12.2h-70.5zM192.4 2085.6h70.5v12.2h-70.5zM192.4 2134.3h70.5v12.2h-70.5zM192.4 2146.4h70.5v12.2h-70.5zM192.4 2401.9h70.5v12.2h-70.5zM192.4 2426.2h70.5v12.2h-70.5zM274.3 723h70.9v12.2h-70.9zM274.3 832.5h70.9v12.2h-70.9z"/>
<path fill="#FCFCFE" d="M109.5 917.7h71v12.2h-71zM109.5 990.6h71v12.2h-71zM109.5 1124.5h71v12.2h-71zM109.5 1209.6h71v12.2h-71zM109.5 1598.9h71v12.2h-71zM109.5 2036.9h71v12.2h-71zM109.5 2377.6h71v12.2h-71zM109.5 2426.2h71v12.2h-71zM192.4 2158.6h70.5v12.2h-70.5zM274.3 1015h70.9v12.2h-70.9zM274.3 1501.6h70.9v12.2h-70.9z"/>
<path fill="#FDFDFE" d="M109.5 1088h71v12.2h-71zM109.5 1185.3h71v12.2h-71zM109.5 1197.5h71v12.2h-71zM109.5 1221.8h71v12.2h-71zM109.5 2401.9h71v12.2h-71zM274.3 1976.1h70.9v12.2h-70.9z"/>
<path fill="#E1E1F4" d="M109.5 1453h71v12.2h-71z"/>
<path fill="#FCF8F8" d="M109.5 1769.3h71v12.2h-71zM109.5 1927.4h71v12.2h-71zM109.5 2170.8h71v12.2h-71zM109.5 2182.9h71v12.2h-71zM109.5 2243.7h71v12.2h-71zM109.5 2255.9h71v12.2h-71zM109.5 2511.4h71v12.2h-71zM109.5 2584.4h71v12.2h-71zM192.4 1453h70.5v12.2h-70.5zM192.4 1526h70.5v12.2h-70.5zM192.4 2316.7h70.5v12.2h-70.5zM274.3 942h70.9v12.2h-70.9zM274.3 1039.3h70.9v12.2h-70.9zM274.3 1051.5h70.9v12.2h-70.9zM274.3 1063.6h70.9v12.2h-70.9zM274.3 1136.6h70.9v12.2h-70.9zM274.3 1161h70.9v12.2h-70.9zM274.3 1221.8h70.9v12.2h-70.9zM274.3 1246.1h70.9v12.2h-70.9zM274.3 1258.3h70.9v12.2h-70.9zM274.3 1282.6h70.9v12.2h-70.9zM274.3 1319.1h70.9v12.2h-70.9zM274.3 1404.3h70.9v12.2h-70.9zM274.3 1416.5h70.9v12.2h-70.9zM274.3 1440.8h70.9v12.2h-70.9zM274.3 1465.1h70.9v12.2h-70.9zM274.3 1538.1h70.9v12.2h-70.9zM274.3 1574.6h70.9v12.2h-70.9zM274.3 1586.8h70.9v12.2h-70.9zM274.3 1623.3h70.9v12.2h-70.9zM274.3 1635.4h70.9v12.2h-70.9zM274.3 1647.6h70.9v12.2h-70.9zM274.3 1659.8h70.9v12.2h-70.9zM274.3 1696.3h70.9v12.2h-70.9zM274.3 1720.6h70.9v12.2h-70.9zM274.3 1757.1h70.9v12.2h-70.9zM274.3 1781.4h70.9v12.2h-70.9zM274.3 1793.6h70.9v12.2h-70.9zM274.3 1805.8h70.9v12.2h-70.9zM274.3 1842.3h70.9v12.2h-70.9zM274.3 1854.4h70.9v12.2h-70.9zM274.3 1878.8h70.9v12.2h-70.9zM274.3 1890.9h70.9v12.2h-70.9zM274.3 1903.1h70.9v12.2h-70.9zM274.3 1939.6h70.9v12.2h-70.9zM274.3 1963.9h70.9v12.2h-70.9zM274.3 2000.4h70.9v12.2h-70.9zM274.3 2012.6h70.9v12.2h-70.9zM274.3 2024.8h70.9v12.2h-70.9zM274.3 2036.9h70.9v12.2h-70.9zM274.3 2049.1h70.9v12.2h-70.9zM274.3 2061.3h70.9v12.2h-70.9zM274.3 2085.6h70.9v12.2h-70.9zM274.3 2109.9h70.9v12.2h-70.9zM274.3 2146.4h70.9v12.2h-70.9zM274.3 2341.1h70.9v12.2h-70.9zM274.3 2377.6h70.9v12.2h-70.9zM274.3 2438.4h70.9v12.2h-70.9zM274.3 2450.6h70.9v12.2h-70.9zM274.3 2462.7h70.9v12.2h-70.9zM274.3 2474.9h70.9v12.2h-70.9zM274.3 2487.1h70.9v12.2h-70.9zM274.3 2499.2h70.9v12.2h-70.9zM274.3 2511.4h70.9v12.2h-70.9zM274.3 2535.7h70.9v12.2h-70.9zM274.3 2547.9h70.9v12.2h-70.9zM274.3 2572.2h70.9v12.2h-70.9zM274.3 2596.6h70.9v12.2h-70.9z"/>
<path fill="#D7AFB0" d="M192.4 662.2h70.5v12.2h-70.5zM192.4 698.7h70.5v12.2h-70.5zM192.4 1173.1h70.5v12.2h-70.5zM192.4 1355.6h70.5v12.2h-70.5zM192.4 1574.6h70.5v12.2h-70.5zM192.4 1611.1h70.5v12.2h-70.5zM192.4 1708.4h70.5v12.2h-70.5zM192.4 1720.6h70.5v12.2h-70.5zM192.4 1757.1h70.5v12.2h-70.5zM192.4 1854.4h70.5v12.2h-70.5zM192.4 2231.6h70.5v12.2h-70.5zM192.4 2353.2h70.5v12.2h-70.5zM192.4 2414.1h70.5v12.2h-70.5zM192.4 2462.7h70.5v12.2h-70.5z"/>
<path fill="#BD7D7F" d="M192.4 686.5h70.5v12.2h-70.5zM192.4 723h70.5v12.2h-70.5zM192.4 808.2h70.5v12.2h-70.5zM192.4 905.5h70.5v12.2h-70.5zM192.4 966.3h70.5v12.2h-70.5zM192.4 1002.8h70.5v12.2h-70.5zM192.4 1744.9h70.5v12.2h-70.5zM192.4 1842.3h70.5v12.2h-70.5zM192.4 2012.6h70.5v12.2h-70.5zM192.4 2036.9h70.5v12.2h-70.5zM192.4 2243.7h70.5v12.2h-70.5zM192.4 2255.9h70.5v12.2h-70.5zM192.4 2547.9h70.5v12.2h-70.5z"/>
<path fill="#D0A2A4" d="M192.4 710.8h70.5v12.2h-70.5zM192.4 1185.3h70.5v12.2h-70.5zM192.4 1197.5h70.5v12.2h-70.5zM192.4 1428.6h70.5v12.2h-70.5zM192.4 1501.6h70.5v12.2h-70.5zM192.4 1538.1h70.5v12.2h-70.5zM192.4 1671.9h70.5v12.2h-70.5zM192.4 2000.4h70.5v12.2h-70.5zM192.4 2097.8h70.5v12.2h-70.5zM192.4 2268.1h70.5v12.2h-70.5zM192.4 2304.6h70.5v12.2h-70.5zM192.4 2328.9h70.5v12.2h-70.5zM192.4 2608.7h70.5v12.2h-70.5z"/>
<path fill="#A44C4F" d="M192.4 832.5h70.5v12.2h-70.5zM192.4 1063.6h70.5v12.2h-70.5zM192.4 1209.6h70.5v12.2h-70.5zM192.4 1781.4h70.5v12.2h-70.5zM192.4 2450.6h70.5v12.2h-70.5z"/>
<path fill="#E3C9CA" d="M192.4 844.7h70.5v12.2h-70.5zM192.4 881.2h70.5v12.2h-70.5zM192.4 1161h70.5v12.2h-70.5zM192.4 1234h70.5v12.2h-70.5zM192.4 1258.3h70.5v12.2h-70.5zM192.4 1270.5h70.5v12.2h-70.5zM192.4 1392.1h70.5v12.2h-70.5zM192.4 1404.3h70.5v12.2h-70.5zM192.4 1465.1h70.5v12.2h-70.5zM192.4 1477.3h70.5v12.2h-70.5zM192.4 1489.5h70.5v12.2h-70.5zM192.4 1635.4h70.5v12.2h-70.5zM192.4 1647.6h70.5v12.2h-70.5zM192.4 1732.8h70.5v12.2h-70.5zM192.4 1793.6h70.5v12.2h-70.5zM192.4 1805.8h70.5v12.2h-70.5zM192.4 2474.9h70.5v12.2h-70.5zM192.4 2487.1h70.5v12.2h-70.5zM274.3 686.5h70.9v12.2h-70.9zM274.3 2255.9h70.9v12.2h-70.9z"/>
<path fill="#B77173" d="M192.4 856.8h70.5v12.2h-70.5zM192.4 1039.3h70.5v12.2h-70.5zM192.4 1088h70.5v12.2h-70.5zM192.4 1367.8h70.5v12.2h-70.5zM192.4 1817.9h70.5v12.2h-70.5zM192.4 1866.6h70.5v12.2h-70.5z"/>
<path fill="#B16567" d="M192.4 869h70.5v12.2h-70.5zM192.4 1148.8h70.5v12.2h-70.5zM192.4 1221.8h70.5v12.2h-70.5zM192.4 1903.1h70.5v12.2h-70.5zM192.4 2438.4h70.5v12.2h-70.5zM192.4 2584.4h70.5v12.2h-70.5zM192.4 2596.6h70.5v12.2h-70.5z"/>
<path fill="#CA9698" d="M192.4 893.3h70.5v12.2h-70.5zM192.4 1051.5h70.5v12.2h-70.5zM192.4 2024.8h70.5v12.2h-70.5zM192.4 2280.2h70.5v12.2h-70.5zM192.4 2499.2h70.5v12.2h-70.5z"/>
<path fill="#AB585B" d="M192.4 929.8h70.5v12.2h-70.5zM192.4 942h70.5v12.2h-70.5zM192.4 978.5h70.5v12.2h-70.5zM192.4 1075.8h70.5v12.2h-70.5zM192.4 1112.3h70.5v12.2h-70.5zM192.4 1830.1h70.5v12.2h-70.5zM192.4 1927.4h70.5v12.2h-70.5zM192.4 2061.3h70.5v12.2h-70.5zM192.4 2341.1h70.5v12.2h-70.5zM192.4 2365.4h70.5v12.2h-70.5zM192.4 2377.6h70.5v12.2h-70.5zM192.4 2389.7h70.5v12.2h-70.5zM192.4 2523.6h70.5v12.2h-70.5z"/>
<path fill="#8C1C20" d="M192.4 1027.1h70.5v12.2h-70.5z"/>
<path fill="#DDBCBD" d="M192.4 1124.5h70.5v12.2h-70.5zM192.4 1246.1h70.5v12.2h-70.5zM192.4 1282.6h70.5v12.2h-70.5zM192.4 1416.5h70.5v12.2h-70.5zM192.4 1440.8h70.5v12.2h-70.5zM192.4 1586.8h70.5v12.2h-70.5zM192.4 1890.9h70.5v12.2h-70.5zM192.4 1939.6h70.5v12.2h-70.5zM192.4 1951.8h70.5v12.2h-70.5zM192.4 2073.4h70.5v12.2h-70.5zM192.4 2109.9h70.5v12.2h-70.5zM192.4 2170.8h70.5v12.2h-70.5zM192.4 2207.2h70.5v12.2h-70.5zM192.4 2511.4h70.5v12.2h-70.5zM192.4 2535.7h70.5v12.2h-70.5z"/>
<path fill="#C3898C" d="M192.4 1136.6h70.5v12.2h-70.5zM192.4 1307h70.5v12.2h-70.5zM192.4 1319.1h70.5v12.2h-70.5zM192.4 1769.3h70.5v12.2h-70.5zM192.4 1878.8h70.5v12.2h-70.5zM192.4 1915.3h70.5v12.2h-70.5zM192.4 2292.4h70.5v12.2h-70.5zM192.4 2560.1h70.5v12.2h-70.5z"/>
<path fill="#983438" d="M192.4 1343.5h70.5v12.2h-70.5zM192.4 2182.9h70.5v12.2h-70.5zM192.4 2572.2h70.5v12.2h-70.5z"/>
<path fill="#F6ECED" d="M192.4 1513.8h70.5v12.2h-70.5zM192.4 2219.4h70.5v12.2h-70.5zM274.3 2608.7h70.9v12.2h-70.9z"/>
<path fill="#9E4043" d="M192.4 2049.1h70.5v12.2h-70.5z"/>
<path fill="#FDFBFB" d="M274.3 650h70.9v12.2h-70.9zM274.3 662.2h70.9v12.2h-70.9z"/>
<path fill="#F3F3FA" d="M274.3 1453h70.9v12.2h-70.9z"/>
<path fill="none" stroke="#000" stroke-opacity="0.2" stroke-width="0.8" d="M109.5 650H180.5M109.5 662.2H180.5M109.5 674.3H180.5M109.5 686.5H180.5M109.5 698.7H180.5M109.5 710.8H180.5M109.5 723H180.5M109.5 735.2H180.5M109.5 747.3H180.5M109.5 759.5H180.5M109.5 771.7H180.5M109.5 783.8H180.5M109.5 796H180.5M109.5 808.2H180.5M109.5 820.3H180.5M109.5 832.5H180.5M109.5 844.7H180.5M109.5 856.8H180.5M109.5 869H180.5M109.5 881.2H180.5M109.5 893.3H180.5M109.5 905.5H180.5M109.5 917.7H180.5M109.5 929.8H180.5M109.5 942H180.5M109.5 954.2H180.5M109.5 966.3H180.5M109.5 978.5H180.5M109.5 990.6H180.5M109.5 1002.8H180.5M109.5 1015H180.5M109.5 1027.1H180.5M109.5 1039.3H180.5M109.5 1051.5H180.5M109.5 1063.6H180.5M109.5 1075.8H180.5M109.5 1088H180.5M109.5 1100.1H180.5M109.5 1112.3H180.5M109.5 1124.5H180.5M109.5 1136.6H180.5M109.5 1148.8H180.5M109.5 1161H180.5M109.5 1173.1H180.5M109.5 1185.3H180.5M109.5 1197.5H180.5M109.5 1209.6H180.5M109.5 1221.8H180.5M109.5 1234H180.5M109.5 1246.1H180.5M109.5 1258.3H180.5M109.5 1270.5H180.5M109.5 1282.6H180.5M109.5 1294.8H180.5M109.5 1307H180.5M109.5 1319.1H180.5M109.5 1331.3H180.5M109.5 1343.5H180.5M109.5 1355.6H180.5M109.5 1367.8H180.5M109.5 1380H180.5M109.5 1392.1H180.5M109.5 1404.3H180.5M109.5 1416.5H180.5M109.5 1428.6H180.5M109.5 1440.8H180.5M109.5 1453H180.5M109.5 1465.1H180.5M109.5 1477.3H180.5M109.5 1489.5H180.5M109.5 1501.6H180.5M109.5 1513.8H180.5M109.5 1526H180.5M109.5 1538.1H180.5M109.5 1550.3H180.5M109.5 1562.5H180.5M109.5 1574.6H180.5M109.5 1586.8H180.5M109.5 1598.9H180.5M109.5 1611.1H180.5M109.5 1623.3H180.5M109.5 1635.4H180.5M109.5 1647.6H180.5M109.5 1659.8H180.5M109.5 1671.9H180.5M109.5 1684.1H180.5M109.5 1696.3H180.5M109.5 1708.4H180.5M109.5 1720.6H180.5M109.5 1732.8H180.5M109.5 1744.9H180.5M109.5 1757.1H180.5M109.5 1769.3H180.5M109.5 1781.4H180.5M109.5 1793.6H180.5M109.5 1805.8H180.5M109.5 1817.9H180.5M109.5 1830.1H180.5M109.5 1842.3H180.5M109.5 1854.4H180.5M109.5 1866.6H180.5M109.5 1878.8H180.5M109.5 1890.9H180.5M109.5 1903.1H180.5M109.5 1915.3H180.5M109.5 1927.4H180.5M109.5 1939.6H180.5M109.5 1951.8H180.5M109.5 1963.9H180.5M109.5 1976.1H180.5M109.5 1988.3H180.5M109.5 2000.4H180.5M109.5 2012.6H180.5M109.5 2024.8H180.5M109.5 2036.9H180.5M109.5 2049.1H180.5M109.5 2061.3H180.5M109.5 2073.4H180.5M109.5 2085.6H180.5M109.5 2097.8H180.5M109.5 2109.9H180.5M109.5 2122.1H180.5M109.5 2134.3H180.5M109.5 2146.4H180.5M109.5 2158.6H180.5M109.5 2170.8H180.5M109.5 2182.9H180.5M109.5 2195.1H180.5M109.5 2207.2H180.5M109.5 2219.4H180.5M109.5 2231.6H180.5M109.5 2243.7H180.5M109.5 2255.9H180.5M109.5 2268.1H180.5M109.5 2280.2H180.5M109.5 2292.4H180.5M109.5 2304.6H180.5M109.5 2316.7H180.5M109.5 2328.9H180.5M109.5 2341.1H180.5M109.5 2353.2H180.5M109.5 2365.4H180.5M109.5 2377.6H180.5M109.5 2389.7H180.5M109.5 2401.9H180.5M109.5 2414.1H180.5M109.5 2426.2H180.5M109.5 2438.4H180.5M109.5 2450.6H180.5M109.5 2462.7H180.5M109.5 2474.9H180.5M109.5 2487.1H180.5M109.5 2499.2H180.5M109.5 2511.4H180.5M109.5 2523.6H180.5M109.5 2535.7H180.5M109.5 2547.9H180.5M109.5 2560.1H180.5M109.5 2572.2H180.5M109.5 2584.4H180.5M109.5 2596.6H180.5M109.5 2608.7H180.5M109.5 2620.9H180.5M109.5 650V2620.9M180.5 650V2620.9M192.4 650H262.9M192.4 662.2H262.9M192.4 674.3H262.9M192.4 686.5H262.9M192.4 698.7H262.9M192.4 710.8H262.9M192.4 723H262.9M192.4 735.2H262.9M192.4 747.3H262.9M192.4 759.5H262.9M192.4 771.7H262.9M192.4 783.8H262.9M192.4 796H262.9M192.4 808.2H262.9M192.4 820.3H262.9M192.4 832.5H262.9M192.4 844.7H262.9M192.4 856.8H262.9M192.4 869H262.9M192.4 881.2H262.9M192.4 893.3H262.9M192.4 905.5H262.9M192.4 917.7H262.9M192.4 929.8H262.9M192.4 942H262.9M192.4 954.2H262.9M192.4 966.3H262.9M192.4 978.5H262.9M192.4 990.6H262.9M192.4 1002.8H262.9M192.4 1015H262.9M192.4 1027.1H262.9M192.4 1039.3H262.9M192.4 1051.5H262.9M192.4 1063.6H262.9M192.4 1075.8H262.9M192.4 1088H262.9M192.4 1100.1H262.9M192.4 1112.3H262.9M192.4 1124.5H262.9M192.4 1136.6H262.9M192.4 1148.8H262.9M192.4 1161H262.9M192.4 1173.1H262.9M192.4 1185.3H262.9M192.4 1197.5H262.9M192.4 1209.6H262.9M192.4 1221.8H262.9M192.4 1234H262.9M192.4 1246.1H262.9M192.4 1258.3H262.9M192.4 1270.5H262.9M192.4 1282.6H262.9M192.4 1294.8H262.9M192.4 1307H262.9M192.4 1319.1H262.9M192.4 1331.3H262.9M192.4 1343.5H262.9M192.4 1355.6H262.9M192.4 1367.8H262.9M192.4 1380H262.9M192.4 1392.1H262.9M192.4 1404.3H262.9M192.4 1416.5H262.9M192.4 1428.6H262.9M192.4 1440.8H262.9M192.4 1453H262.9M192.4 1465.1H262.9M192.4 1477.3H262.9M192.4 1489.5H262.9M192.4 1501.6H262.9M192.4 1513.8H262.9M192.4 1526H262.9M192.4 1538.1H262.9M192.4 1550.3H262.9M192.4 1562.5H262.9M192.4 1574.6H262.9M192.4 1586.8H262.9M192.4 1598.9H262.9M192.4 1611.1H262.9M192.4 1623.3H262.9M192.4 1635.4H262.9M192.4 1647.6H262.9M192.4 1659.8H262.9M192.4 1671.9H262.9M192.4 1684.1H262.9M192.4 1696.3H262.9M192.4 1708.4H262.9M192.4 1720.6H262.9M192.4 1732.8H262.9M192.4 1744.9H262.9M192.4 1757.1H262.9M192.4 1769.3H262.9M192.4 1781.4H262.9M192.4 1793.6H262.9M192.4 1805.8H262.9M192.4 1817.9H262.9M192.4 1830.1H262.9M192.4 1842.3H262.9M192.4 1854.4H262.9M192.4 1866.6H262.9M192.4 1878.8H262.9M192.4 1890.9H262.9M192.4 1903.1H262.9M192.4 1915.3H262.9M192.4 1927.4H262.9M192.4 1939.6H262.9M192.4 1951.8H262.9M192.4 1963.9H262.9M192.4 1976.1H262.9M192.4 1988.3H262.9M192.4 2000.4H262.9M192.4 2012.6H262.9M192.4 2024.8H262.9M192.4 2036.9H262.9M192.4 2049.1H262.9M192.4 2061.3H262.9M192.4 2073.4H262.9M192.4 2085.6H262.9M192.4 2097.8H262.9M192.4 2109.9H262.9M192.4 2122.1H262.9M192.4 2134.3H262.9M192.4 2146.4H262.9M192.4 2158.6H262.9M192.4 2170.8H262.9M192.4 2182.9H262.9M192.4 2195.1H262.9M192.4 2207.2H262.9M192.4 2219.4H262.9M192.4 2231.6H262.9M192.4 2243.7H262.9M192.4 2255.9H262.9M192.4 2268.1H262.9M192.4 2280.2H262.9M192.4 2292.4H262.9M192.4 2304.6H262.9M192.4 2316.7H262.9M192.4 2328.9H262.9M192.4 2341.1H262.9M192.4 2353.2H262.9M192.4 2365.4H262.9M192.4 2377.6H262.9M192.4 2389.7H262.9M192.4 2401.9H262.9M192.4 2414.1H262.9M192.4 2426.2H262.9M192.4 2438.4H262.9M192.4 2450.6H262.9M192.4 2462.7H262.9M192.4 2474.9H262.9M192.4 2487.1H262.9M192.4 2499.2H262.9M192.4 2511.4H262.9M192.4 2523.6H262.9M192.4 2535.7H262.9M192.4 2547.9H262.9M192.4 2560.1H262.9M192.4 2572.2H262.9M192.4 2584.4H262.9M192.4 2596.6H262.9M192.4 2608.7H262.9M192.4 2620.9H262.9M192.4 650V2620.9M262.9 650V2620.9M274.3 650H345.2M274.3 662.2H345.2M274.3 674.3H345.2M274.3 686.5H345.2M274.3 698.7H345.2M274.3 710.8H345.2M274.3 723H345.2M274.3 735.2H345.2M274.3 747.3H345.2M274.3 759.5H345.2M274.3 771.7H345.2M274.3 783.8H345.2M274.3 796H345.2M274.3 808.2H345.2M274.3 820.3H345.2M274.3 832.5H345.2M274.3 844.7H345.2M274.3 856.8H345.2M274.3 869H345.2M274.3 881.2H345.2M274.3 893.3H345.2M274.3 905.5H345.2M274.3 917.7H345.2M274.3 929.8H345.2M274.3 942H345.2M274.3 954.2H345.2M274.3 966.3H345.2M274.3 978.5H345.2M274.3 990.6H345.2M274.3 1002.8H345.2M274.3 1015H345.2M274.3 1027.1H345.2M274.3 1039.3H345.2M274.3 1051.5H345.2M274.3 1063.6H345.2M274.3 1075.8H345.2M274.3 1088H345.2M274.3 1100.1H345.2M274.3 1112.3H345.2M274.3 1124.5H345.2M274.3 1136.6H345.2M274.3 1148.8H345.2M274.3 1161H345.2M274.3 1173.1H345.2M274.3 1185.3H345.2M274.3 1197.5H345.2M274.3 1209.6H345.2M274.3 1221.8H345.2M274.3 1234H345.2M274.3 1246.1H345.2M274.3 1258.3H345.2M274.3 1270.5H345.2M274.3 1282.6H345.2M274.3 1294.8H345.2M274.3 1307H345.2M274.3 1319.1H345.2M274.3 1331.3H345.2M274.3 1343.5H345.2M274.3 1355.6H345.2M274.3 1367.8H345.2M274.3 1380H345.2M274.3 1392.1H345.2M274.3 1404.3H345.2M274.3 1416.5H345.2M274.3 1428.6H345.2M274.3 1440.8H345.2M274.3 1453H345.2M274.3 1465.1H345.2M274.3 1477.3H345.2M274.3 1489.5H345.2M274.3 1501.6H345.2M274.3 1513.8H345.2M274.3 1526H345.2M274.3 1538.1H345.2M274.3 1550.3H345.2M274.3 1562.5H345.2M274.3 1574.6H345.2M274.3 1586.8H345.2M274.3 1598.9H345.2M274.3 1611.1H345.2M274.3 1623.3H345.2M274.3 1635.4H345.2M274.3 1647.6H345.2M274.3 1659.8H345.2M274.3 1671.9H345.2M274.3 1684.1H345.2M274.3 1696.3H345.2M274.3 1708.4H345.2M274.3 1720.6H345.2M274.3 1732.8H345.2M274.3 1744.9H345.2M274.3 1757.1H345.2M274.3 1769.3H345.2M274.3 1781.4H345.2M274.3 1793.6H345.2M274.3 1805.8H345.2M274.3 1817.9H345.2M274.3 1830.1H345.2M274.3 1842.3H345.2M274.3 1854.4H345.2M274.3 1866.6H345.2M274.3 1878.8H345.2M274.3 1890.9H345.2M274.3 1903.1H345.2M274.3 1915.3H345.2M274.3 1927.4H345.2M274.3 1939.6H345.2M274.3 1951.8H345.2M274.3 1963.9H345.2M274.3 1976.1H345.2M274.3 1988.3H345.2M274.3 2000.4H345.2M274.3 2012.6H345.2M274.3 2024.8H345.2M274.3 2036.9H345.2M274.3 2049.1H345.2M274.3 2061.3H345.2M274.3 2073.4H345.2M274.3 2085.6H345.2M274.3 2097.8H345.2M274.3 2109.9H345.2M274.3 2122.1H345.2M274.3 2134.3H345.2M274.3 2146.4H345.2M274.3 2158.6H345.2M274.3 2170.8H345.2M274.3 2182.9H345.2M274.3 2195.1H345.2M274.3 2207.2H345.2M274.3 2219.4H345.2M274.3 2231.6H345.2M274.3 2243.7H345.2M274.3 2255.9H345.2M274.3 2268.1H345.2M274.3 2280.2H345.2M274.3 2292.4H345.2M274.3 2304.6H345.2M274.3 2316.7H345.2M274.3 2328.9H345.2M274.3 2341.1H345.2M274.3 2353.2H345.2M274.3 2365.4H345.2M274.3 2377.6H345.2M274.3 2389.7H345.2M274.3 2401.9H345.2M274.3 2414.1H345.2M274.3 2426.2H345.2M274.3 2438.4H345.2M274.3 2450.6H345.2M274.3 2462.7H345.2M274.3 2474.9H345.2M274.3 2487.1H345.2M274.3 2499.2H345.2M274.3 2511.4H345.2M274.3 2523.6H345.2M274.3 2535.7H345.2M274.3 2547.9H345.2M274.3 2560.1H345.2M274.3 2572.2H345.2M274.3 2584.4H345.2M274.3 2596.6H345.2M274.3 2608.7H345.2M274.3 2620.9H345.2M274.3 650V2620.9M345.2 650V2620.9"/>
<path stroke="#000" stroke-width="2.4" stroke-linecap="square" d="M145 838.6h0M145 1459h0M145 1738.9h0M145 2213.3h0M145 2310.7h0M227.6 692.6h0M227.6 704.7h0M227.6 716.9h0M227.6 729.1h0M227.6 753.4h0M227.6 777.7h0M227.6 789.9h0M227.6 814.2h0M227.6 838.6h0M227.6 850.7h0M227.6 862.9h0M227.6 875.1h0M227.6 887.2h0M227.6 899.4h0M227.6 911.6h0M227.6 935.9h0M227.6 948.1h0M227.6 972.4h0M227.6 984.6h0M227.6 996.7h0M227.6 1008.9h0M227.6 1033.2h0M227.6 1045.4h0M227.6 1069.7h0M227.6 1081.9h0M227.6 1094.1h0M227.6 1106.2h0M227.6 1118.4h0M227.6 1130.6h0M227.6 1142.7h0M227.6 1154.9h0M227.6 1167.1h0M227.6 1179.2h0M227.6 1203.6h0M227.6 1215.7h0M227.6 1227.9h0M227.6 1240.1h0M227.6 1252.2h0M227.6 1264.4h0M227.6 1276.5h0M227.6 1288.7h0M227.6 1313h0M227.6 1325.2h0M227.6 1349.5h0M227.6 1361.7h0M227.6 1373.9h0M227.6 1386h0M227.6 1398.2h0M227.6 1410.4h0M227.6 1422.5h0M227.6 1446.9h0M227.6 1471.2h0M227.6 1483.4h0M227.6 1495.5h0M227.6 1544.2h0M227.6 1556.4h0M227.6 1568.5h0M227.6 1580.7h0M227.6 1592.9h0M227.6 1617.2h0M227.6 1629.4h0M227.6 1641.5h0M227.6 1653.7h0M227.6 1665.9h0M227.6 1678h0M227.6 1702.4h0M227.6 1714.5h0M227.6 1726.7h0M227.6 1738.9h0M227.6 1751h0M227.6 1763.2h0M227.6 1775.4h0M227.6 1787.5h0M227.6 1799.7h0M227.6 1811.9h0M227.6 1824h0M227.6 1836.2h0M227.6 1848.4h0M227.6 1860.5h0M227.6 1872.7h0M227.6 1884.8h0M227.6 1909.2h0M227.6 1921.3h0M227.6 1933.5h0M227.6 1945.7h0M227.6 1957.8h0M227.6 1970h0M227.6 1994.3h0M227.6 2006.5h0M227.6 2018.7h0M227.6 2030.8h0M227.6 2043h0M227.6 2055.2h0M227.6 2067.3h0M227.6 2091.7h0M227.6 2103.8h0M227.6 2116h0M227.6 2128.2h0M227.6 2140.3h0M227.6 2152.5h0M227.6 2176.8h0M227.6 2189h0M227.6 2213.3h0M227.6 2237.7h0M227.6 2249.8h0M227.6 2262h0M227.6 2274.2h0M227.6 2286.3h0M227.6 2298.5h0M227.6 2310.7h0M227.6 2335h0M227.6 2347.2h0M227.6 2359.3h0M227.6 2371.5h0M227.6 2383.7h0M227.6 2395.8h0M227.6 2408h0M227.6 2420.2h0M227.6 2432.3h0M227.6 2444.5h0M227.6 2456.7h0M227.6 2468.8h0M227.6 2481h0M227.6 2493.1h0M227.6 2505.3h0M227.6 2517.5h0M227.6 2529.6h0M227.6 2541.8h0M227.6 2554h0M227.6 2566.1h0M227.6 2578.3h0M227.6 2590.5h0M227.6 2602.6h0M227.6 2614.8h0M309.8 692.6h0M309.8 704.7h0M309.8 729.1h0M309.8 789.9h0M309.8 838.6h0M309.8 850.7h0M309.8 862.9h0M309.8 887.2h0M309.8 899.4h0M309.8 935.9h0M309.8 972.4h0M309.8 984.6h0M309.8 1008.9h0M309.8 1033.2h0M309.8 1081.9h0M309.8 1118.4h0M309.8 1154.9h0M309.8 1276.5h0M309.8 1349.5h0M309.8 1434.7h0M309.8 1446.9h0M309.8 1495.5h0M309.8 1617.2h0M309.8 1641.5h0M309.8 1653.7h0M309.8 1678h0M309.8 1714.5h0M309.8 1726.7h0M309.8 1751h0M309.8 1775.4h0M309.8 1811.9h0M309.8 1824h0M309.8 1836.2h0M309.8 1860.5h0M309.8 1872.7h0M309.8 1921.3h0M309.8 1933.5h0M309.8 1945.7h0M309.8 1957.8h0M309.8 2006.5h0M309.8 2018.7h0M309.8 2030.8h0M309.8 2055.2h0M309.8 2091.7h0M309.8 2103.8h0M309.8 2116h0M309.8 2152.5h0M309.8 2176.8h0M309.8 2189h0M309.8 2237.7h0M309.8 2262h0M309.8 2274.2h0M309.8 2286.3h0M309.8 2298.5h0M309.8 2335h0M309.8 2347.2h0M309.8 2359.3h0M309.8 2371.5h0M309.8 2395.8h0M309.8 2420.2h0M309.8 2444.5h0M309.8 2456.7h0M309.8 2468.8h0M309.8 2481h0M309.8 2493.1h0M309.8 2505.3h0M309.8 2517.5h0M309.8 2541.8h0M309.8 2554h0M309.8 2578.3h0M309.8 2590.5h0M309.8 2602.6h0M309.8 2614.8h0"/>
<rect x="106.2" y="647.6" width="78.3" height="1973.8" fill="none" stroke="#555" stroke-width="1.3"/>
<rect x="188.8" y="647.6" width="77.9" height="1973.8" fill="none" stroke="#555" stroke-width="1.3"/>
<rect x="271" y="647.6" width="78.3" height="1973.8" fill="none" stroke="#555" stroke-width="1.3"/>
<g font-size="12" fill="#111" stroke="#111" stroke-width="0.22" text-anchor="end" transform="translate(96.6,0) scale(1.0,1)">
<text x="0" y="659.6">Gm15247</text>
<text x="0" y="671.8">G530011O06Rik</text>
<text x="0" y="683.9">Mid1</text>
<text x="0" y="696.1">BC022960</text>
<text x="0" y="708.3">Hccs</text>
<text x="0" y="720.4">Msl3</text>
<text x="0" y="732.6">Tmsb4x</text>
<text x="0" y="744.8">Tceanc</text>
<text x="0" y="756.9">Rab9</text>
<text x="0" y="769.1">Trappc2</text>
<text x="0" y="781.3">Ofd1</text>
<text x="0" y="793.4">Gpm6b</text>
<text x="0" y="805.6">Gemin8</text>
<text x="0" y="817.8">Piga</text>
<text x="0" y="829.9">Siah1b</text>
<text x="0" y="842.1">Car5b</text>
<text x="0" y="854.3">Zrsr2</text>
<text x="0" y="866.4">Ap1s2</text>
<text x="0" y="878.6">Ctps2</text>
<text x="0" y="890.8">Syap1</text>
<text x="0" y="902.9">Txlng</text>
<text x="0" y="915.1">Rbbp7</text>
<text x="0" y="927.3">Rai2</text>
<text x="0" y="939.4">Phka2</text>
<text x="0" y="951.6">Pdha1</text>
<text x="0" y="963.8">Map3k15</text>
<text x="0" y="975.9">A830080D01Rik</text>
<text x="0" y="988.1">Eif1ax</text>
<text x="0" y="1000.3">Mbtps2</text>
<text x="0" y="1012.4">Sms</text>
<text x="0" y="1024.6">Gm15163</text>
<text x="0" y="1036.7">Prdx4</text>
<text x="0" y="1048.9">2210013O21Rik</text>
<text x="0" y="1061.1">9530051G07Rik</text>
<text x="0" y="1073.2">Mageh1</text>
<text x="0" y="1085.4">Tspyl2</text>
<text x="0" y="1097.6">Kantr</text>
<text x="0" y="1109.7">Kdm5c</text>
<text x="0" y="1121.9">Iqsec2</text>
<text x="0" y="1134.1">Smc1a</text>
<text x="0" y="1146.2">Ribc1</text>
<text x="0" y="1158.4">Hsd17b10</text>
<text x="0" y="1170.6">Huwe1</text>
<text x="0" y="1182.7">Phf8</text>
<text x="0" y="1194.9">3110067C02Rik</text>
<text x="0" y="1207.1">Tmem29</text>
<text x="0" y="1219.2">Alg13</text>
<text x="0" y="1231.4">Acsl4</text>
<text x="0" y="1243.6">Atg4a</text>
<text x="0" y="1255.7">Psmd10</text>
<text x="0" y="1267.9">Gprasp1</text>
<text x="0" y="1280.1">Armcx5</text>
<text x="0" y="1292.2">Drp2</text>
<text x="0" y="1304.4">Cenpi</text>
<text x="0" y="1316.6">Trmt2b</text>
<text x="0" y="1328.7">Cstf2</text>
<text x="0" y="1340.9">Mdm4−ps</text>
<text x="0" y="1353.1">Chm</text>
<text x="0" y="1365.2">Cox7b</text>
<text x="0" y="1377.4">Magt1</text>
<text x="0" y="1389.6">Pbdc1</text>
<text x="0" y="1401.7">5530601H04Rik</text>
<text x="0" y="1413.9">Ftx</text>
<text x="0" y="1426.1">Jpx</text>
<text x="0" y="1438.2">Hdac8</text>
<text x="0" y="1450.4">Rps4x</text>
<text x="0" y="1462.6">Ercc6l</text>
<text x="0" y="1474.7">Ogt</text>
<text x="0" y="1486.9">Taf1</text>
<text x="0" y="1499.1">Igbp1</text>
<text x="0" y="1511.2">Apoo</text>
<text x="0" y="1523.4">Eif2s3x</text>
<text x="0" y="1535.6">Gm8822</text>
<text x="0" y="1547.7">Vbp1</text>
<text x="0" y="1559.9">G6pdx</text>
<text x="0" y="1572.1">Ikbkg</text>
<text x="0" y="1584.2">Slc10a3</text>
<text x="0" y="1596.4">Ubl4</text>
<text x="0" y="1608.6">Lage3</text>
<text x="0" y="1620.7">Plxna3</text>
<text x="0" y="1632.9">Fam50a</text>
<text x="0" y="1645">Gdi1</text>
<text x="0" y="1657.2">Atp6ap1</text>
<text x="0" y="1669.4">Taz</text>
<text x="0" y="1681.5">Dnase1l1</text>
<text x="0" y="1693.7">Rpl10</text>
<text x="0" y="1705.9">Emd</text>
<text x="0" y="1718">Flna</text>
<text x="0" y="1730.2">Mecp2</text>
<text x="0" y="1742.4">Hcfc1</text>
<text x="0" y="1754.5">Renbp</text>
<text x="0" y="1766.7">Naa10</text>
<text x="0" y="1778.9">Arhgap4</text>
<text x="0" y="1791">Pdzd4</text>
<text x="0" y="1803.2">Ssr4</text>
<text x="0" y="1815.4">Idh3g</text>
<text x="0" y="1827.5">Srpk3</text>
<text x="0" y="1839.7">Plxnb3</text>
<text x="0" y="1851.9">Abcd1</text>
<text x="0" y="1864">Bcap31</text>
<text x="0" y="1876.2">Slc6a8</text>
<text x="0" y="1888.4">Fmr1</text>
<text x="0" y="1900.5">Gm14680</text>
<text x="0" y="1912.7">Rbmx</text>
<text x="0" y="1924.9">Htatsf1</text>
<text x="0" y="1937">Slc9a6</text>
<text x="0" y="1949.2">Mmgt1</text>
<text x="0" y="1961.4">Firre</text>
<text x="0" y="1973.5">Utp14a</text>
<text x="0" y="1985.7">Zfp36l1−ps</text>
<text x="0" y="1997.9">Nkap</text>
<text x="0" y="2010">Upf3b</text>
<text x="0" y="2022.2">Akap17b</text>
<text x="0" y="2034.4">A230072C01Rik</text>
<text x="0" y="2046.5">Uxt</text>
<text x="0" y="2058.7">Elk1</text>
<text x="0" y="2070.9">Cfp</text>
<text x="0" y="2083">Timp1</text>
<text x="0" y="2095.2">Araf</text>
<text x="0" y="2107.4">Usp11</text>
<text x="0" y="2119.5">Cdk16</text>
<text x="0" y="2131.7">Uba1</text>
<text x="0" y="2143.9">Rbm10</text>
<text x="0" y="2156">Ndufb11</text>
<text x="0" y="2168.2">Gm14539</text>
<text x="0" y="2180.4">Kdm6a</text>
<text x="0" y="2192.5">Fundc1</text>
<text x="0" y="2204.7">Gm9434</text>
<text x="0" y="2216.9">Ddx3x</text>
<text x="0" y="2229">Llph−ps2</text>
<text x="0" y="2241.2">Usp9x</text>
<text x="0" y="2253.3">5730405O15Rik</text>
<text x="0" y="2265.5">Gm14634</text>
<text x="0" y="2277.7">Med14</text>
<text x="0" y="2289.8">1810030O07Rik</text>
<text x="0" y="2302">Atp6ap2</text>
<text x="0" y="2314.2">Bcor</text>
<text x="0" y="2326.3">Gm14513</text>
<text x="0" y="2338.5">Mid1ip1</text>
<text x="0" y="2350.7">Rpgr</text>
<text x="0" y="2362.8">Ftsj1</text>
<text x="0" y="2375">Porcn</text>
<text x="0" y="2387.2">Ebp</text>
<text x="0" y="2399.3">Tbc1d25</text>
<text x="0" y="2411.5">Rbm3</text>
<text x="0" y="2423.7">Wdr13</text>
<text x="0" y="2435.8">Suv39h1</text>
<text x="0" y="2448">Hdac6</text>
<text x="0" y="2460.2">Pcsk1n</text>
<text x="0" y="2472.3">Timm17b</text>
<text x="0" y="2484.5">Pqbp1</text>
<text x="0" y="2496.7">Slc35a2</text>
<text x="0" y="2508.8">Pim2</text>
<text x="0" y="2521">Otud5</text>
<text x="0" y="2533.2">Kcnd1</text>
<text x="0" y="2545.3">Gripap1</text>
<text x="0" y="2557.5">Tfe3</text>
<text x="0" y="2569.7">Ccdc120</text>
<text x="0" y="2581.8">Praf2</text>
<text x="0" y="2594">Wdr45</text>
<text x="0" y="2606.2">Gpkow</text>
<text x="0" y="2618.3">RP23−135F22.6</text>
</g>
<path stroke="#444" stroke-width="1.15" d="M100 656.1H104.8M100 668.2H104.8M100 680.4H104.8M100 692.6H104.8M100 704.7H104.8M100 716.9H104.8M100 729.1H104.8M100 741.2H104.8M100 753.4H104.8M100 765.6H104.8M100 777.7H104.8M100 789.9H104.8M100 802.1H104.8M100 814.2H104.8M100 826.4H104.8M100 838.6H104.8M100 850.7H104.8M100 862.9H104.8M100 875.1H104.8M100 887.2H104.8M100 899.4H104.8M100 911.6H104.8M100 923.7H104.8M100 935.9H104.8M100 948.1H104.8M100 960.2H104.8M100 972.4H104.8M100 984.6H104.8M100 996.7H104.8M100 1008.9H104.8M100 1021.1H104.8M100 1033.2H104.8M100 1045.4H104.8M100 1057.6H104.8M100 1069.7H104.8M100 1081.9H104.8M100 1094.1H104.8M100 1106.2H104.8M100 1118.4H104.8M100 1130.6H104.8M100 1142.7H104.8M100 1154.9H104.8M100 1167.1H104.8M100 1179.2H104.8M100 1191.4H104.8M100 1203.6H104.8M100 1215.7H104.8M100 1227.9H104.8M100 1240.1H104.8M100 1252.2H104.8M100 1264.4H104.8M100 1276.5H104.8M100 1288.7H104.8M100 1300.9H104.8M100 1313H104.8M100 1325.2H104.8M100 1337.4H104.8M100 1349.5H104.8M100 1361.7H104.8M100 1373.9H104.8M100 1386H104.8M100 1398.2H104.8M100 1410.4H104.8M100 1422.5H104.8M100 1434.7H104.8M100 1446.9H104.8M100 1459H104.8M100 1471.2H104.8M100 1483.4H104.8M100 1495.5H104.8M100 1507.7H104.8M100 1519.9H104.8M100 1532H104.8M100 1544.2H104.8M100 1556.4H104.8M100 1568.5H104.8M100 1580.7H104.8M100 1592.9H104.8M100 1605H104.8M100 1617.2H104.8M100 1629.4H104.8M100 1641.5H104.8M100 1653.7H104.8M100 1665.9H104.8M100 1678H104.8M100 1690.2H104.8M100 1702.4H104.8M100 1714.5H104.8M100 1726.7H104.8M100 1738.9H104.8M100 1751H104.8M100 1763.2H104.8M100 1775.4H104.8M100 1787.5H104.8M100 1799.7H104.8M100 1811.9H104.8M100 1824H104.8M100 1836.2H104.8M100 1848.4H104.8M100 1860.5H104.8M100 1872.7H104.8M100 1884.8H104.8M100 1897H104.8M100 1909.2H104.8M100 1921.3H104.8M100 1933.5H104.8M100 1945.7H104.8M100 1957.8H104.8M100 1970H104.8M100 1982.2H104.8M100 1994.3H104.8M100 2006.5H104.8M100 2018.7H104.8M100 2030.8H104.8M100 2043H104.8M100 2055.2H104.8M100 2067.3H104.8M100 2079.5H104.8M100 2091.7H104.8M100 2103.8H104.8M100 2116H104.8M100 2128.2H104.8M100 2140.3H104.8M100 2152.5H104.8M100 2164.7H104.8M100 2176.8H104.8M100 2189H104.8M100 2201.2H104.8M100 2213.3H104.8M100 2225.5H104.8M100 2237.7H104.8M100 2249.8H104.8M100 2262H104.8M100 2274.2H104.8M100 2286.3H104.8M100 2298.5H104.8M100 2310.7H104.8M100 2322.8H104.8M100 2335H104.8M100 2347.2H104.8M100 2359.3H104.8M100 2371.5H104.8M100 2383.7H104.8M100 2395.8H104.8M100 2408H104.8M100 2420.2H104.8M100 2432.3H104.8M100 2444.5H104.8M100 2456.7H104.8M100 2468.8H104.8M100 2481H104.8M100 2493.1H104.8M100 2505.3H104.8M100 2517.5H104.8M100 2529.6H104.8M100 2541.8H104.8M100 2554H104.8M100 2566.1H104.8M100 2578.3H104.8M100 2590.5H104.8M100 2602.6H104.8M100 2614.8H104.8"/>
<text x="189" y="2653.6" font-size="20.5" text-anchor="middle">Log2</text>
<text x="189" y="2678.6" font-size="20.5" text-anchor="middle">Fold Change</text>
<defs><linearGradient id="g358" x1="0" y1="0" x2="0" y2="1"><stop offset="0.000" stop-color="#DCDCEE"/><stop offset="0.081" stop-color="#E2E2F0"/><stop offset="0.148" stop-color="#FFFFFF"/><stop offset="0.318" stop-color="#E6CECF"/><stop offset="0.489" stop-color="#CFA0A2"/><stop offset="0.659" stop-color="#B87376"/><stop offset="0.830" stop-color="#A2474B"/><stop offset="1.000" stop-color="#8C1C20"/></linearGradient></defs>
<rect x="255.2" y="2629.8" width="14.3" height="72.6" fill="url(#g358)"/>
<text x="278" y="2646.5" font-size="20.8">0</text>
<text x="278" y="2666.3" font-size="20.8">−4</text>
<text x="278" y="2686.1" font-size="20.8">−8</text>
<text x="278" y="2705.9" font-size="20.8">−12</text>
<text x="380.5" y="599.5" font-size="30" font-weight="bold">d</text>
<text x="597.3" y="599.5" font-size="19.5" text-anchor="middle">NPC E6 Dox (21d)</text>
<rect x="479.5" y="614" width="77.3" height="19.2" fill="#D9D9D9"/>
<text x="518.1" y="629.6" font-size="20.4" text-anchor="middle" fill="#1A1A1A">Active</text>
<rect x="562" y="614" width="77.7" height="19.2" fill="#D9D9D9"/>
<text x="600.9" y="629.6" font-size="20.4" text-anchor="middle" fill="#1A1A1A">Inactive</text>
<rect x="644.7" y="614" width="77.4" height="19.2" fill="#D9D9D9"/>
<text x="683.4" y="629.6" font-size="20.4" text-anchor="middle" fill="#1A1A1A">Total</text>
<line x1="479.5" y1="637.9" x2="722.1" y2="637.9" stroke="#A0A0A0" stroke-width="1.6"/>
<path fill="#EEEEF9" d="M482.6 649.3h71.1v12.2h-71.1zM482.6 1014.3h71.1v12.2h-71.1zM482.6 1732.1h71.1v12.2h-71.1zM647.9 661.5h71.1v12.2h-71.1z"/>
<path fill="#F9F9FD" d="M482.6 661.5h71.1v12.2h-71.1zM482.6 819.6h71.1v12.2h-71.1zM482.6 1294.1h71.1v12.2h-71.1zM482.6 2206.5h71.1v12.2h-71.1zM482.6 2559.4h71.1v12.2h-71.1zM647.9 1014.3h71.1v12.2h-71.1zM647.9 1744.2h71.1v12.2h-71.1z"/>
<path fill="#FCFCFE" d="M482.6 673.6h71.1v12.2h-71.1zM482.6 807.5h71.1v12.2h-71.1zM482.6 904.8h71.1v12.2h-71.1zM482.6 1111.6h71.1v12.2h-71.1zM482.6 1160.3h71.1v12.2h-71.1zM482.6 1208.9h71.1v12.2h-71.1zM482.6 1330.6h71.1v12.2h-71.1zM482.6 1452.3h71.1v12.2h-71.1zM482.6 2194.4h71.1v12.2h-71.1zM482.6 2303.9h71.1v12.2h-71.1zM482.6 2401.2h71.1v12.2h-71.1zM482.6 2522.9h71.1v12.2h-71.1zM565.3 673.6h71.3v12.2h-71.3zM565.3 1500.9h71.3v12.2h-71.3zM565.3 2157.9h71.3v12.2h-71.3zM647.9 673.6h71.1v12.2h-71.1zM647.9 819.6h71.1v12.2h-71.1zM647.9 1050.8h71.1v12.2h-71.1zM647.9 1500.9h71.1v12.2h-71.1zM647.9 1732.1h71.1v12.2h-71.1zM647.9 2157.9h71.1v12.2h-71.1z"/>
<path fill="#F9F4F4" d="M482.6 685.8h71.1v12.2h-71.1zM482.6 734.5h71.1v12.2h-71.1zM482.6 831.8h71.1v12.2h-71.1zM482.6 929.1h71.1v12.2h-71.1zM482.6 1817.2h71.1v12.2h-71.1zM482.6 1999.7h71.1v12.2h-71.1zM482.6 2449.9h71.1v12.2h-71.1zM565.3 1525.3h71.3v12.2h-71.3zM647.9 795.3h71.1v12.2h-71.1zM647.9 831.8h71.1v12.2h-71.1zM647.9 844h71.1v12.2h-71.1zM647.9 856.1h71.1v12.2h-71.1zM647.9 880.5h71.1v12.2h-71.1zM647.9 892.6h71.1v12.2h-71.1zM647.9 1075.1h71.1v12.2h-71.1zM647.9 1148.1h71.1v12.2h-71.1zM647.9 1172.4h71.1v12.2h-71.1zM647.9 1342.8h71.1v12.2h-71.1zM647.9 1415.8h71.1v12.2h-71.1zM647.9 1440.1h71.1v12.2h-71.1zM647.9 1464.4h71.1v12.2h-71.1zM647.9 1488.8h71.1v12.2h-71.1zM647.9 1549.6h71.1v12.2h-71.1zM647.9 1683.4h71.1v12.2h-71.1zM647.9 1695.6h71.1v12.2h-71.1zM647.9 1719.9h71.1v12.2h-71.1zM647.9 1817.2h71.1v12.2h-71.1zM647.9 1841.6h71.1v12.2h-71.1zM647.9 1914.6h71.1v12.2h-71.1zM647.9 2024.1h71.1v12.2h-71.1zM647.9 2097.1h71.1v12.2h-71.1zM647.9 2170.1h71.1v12.2h-71.1zM647.9 2182.2h71.1v12.2h-71.1zM647.9 2230.9h71.1v12.2h-71.1zM647.9 2267.4h71.1v12.2h-71.1zM647.9 2291.7h71.1v12.2h-71.1zM647.9 2316h71.1v12.2h-71.1zM647.9 2328.2h71.1v12.2h-71.1zM647.9 2364.7h71.1v12.2h-71.1zM647.9 2389h71.1v12.2h-71.1zM647.9 2413.4h71.1v12.2h-71.1zM647.9 2449.9h71.1v12.2h-71.1zM647.9 2510.7h71.1v12.2h-71.1zM647.9 2608h71.1v12.2h-71.1z"/>
<path fill="#F3E7E7" d="M482.6 722.3h71.1v12.2h-71.1zM482.6 783.1h71.1v12.2h-71.1zM482.6 856.1h71.1v12.2h-71.1zM482.6 1281.9h71.1v12.2h-71.1zM482.6 1951.1h71.1v12.2h-71.1zM482.6 1975.4h71.1v12.2h-71.1zM565.3 1987.6h71.3v12.2h-71.3zM565.3 2194.4h71.3v12.2h-71.3zM647.9 685.8h71.1v12.2h-71.1zM647.9 698h71.1v12.2h-71.1zM647.9 758.8h71.1v12.2h-71.1zM647.9 771h71.1v12.2h-71.1zM647.9 929.1h71.1v12.2h-71.1zM647.9 1281.9h71.1v12.2h-71.1zM647.9 1659.1h71.1v12.2h-71.1zM647.9 1768.6h71.1v12.2h-71.1zM647.9 1951.1h71.1v12.2h-71.1zM647.9 2279.5h71.1v12.2h-71.1z"/>
<path fill="#FCF8F8" d="M482.6 1306.3h71.1v12.2h-71.1zM482.6 1367.1h71.1v12.2h-71.1zM482.6 1415.8h71.1v12.2h-71.1zM482.6 1464.4h71.1v12.2h-71.1zM482.6 1646.9h71.1v12.2h-71.1zM482.6 1792.9h71.1v12.2h-71.1zM482.6 1926.7h71.1v12.2h-71.1zM482.6 2170.1h71.1v12.2h-71.1zM482.6 2182.2h71.1v12.2h-71.1zM482.6 2328.2h71.1v12.2h-71.1zM482.6 2498.5h71.1v12.2h-71.1zM647.9 941.3h71.1v12.2h-71.1zM647.9 953.5h71.1v12.2h-71.1zM647.9 965.6h71.1v12.2h-71.1zM647.9 977.8h71.1v12.2h-71.1zM647.9 1002.1h71.1v12.2h-71.1zM647.9 1026.4h71.1v12.2h-71.1zM647.9 1062.9h71.1v12.2h-71.1zM647.9 1087.3h71.1v12.2h-71.1zM647.9 1135.9h71.1v12.2h-71.1zM647.9 1160.3h71.1v12.2h-71.1zM647.9 1184.6h71.1v12.2h-71.1zM647.9 1196.8h71.1v12.2h-71.1zM647.9 1208.9h71.1v12.2h-71.1zM647.9 1221.1h71.1v12.2h-71.1zM647.9 1233.3h71.1v12.2h-71.1zM647.9 1245.4h71.1v12.2h-71.1zM647.9 1257.6h71.1v12.2h-71.1zM647.9 1269.8h71.1v12.2h-71.1zM647.9 1306.3h71.1v12.2h-71.1zM647.9 1318.4h71.1v12.2h-71.1zM647.9 1403.6h71.1v12.2h-71.1zM647.9 1427.9h71.1v12.2h-71.1zM647.9 1476.6h71.1v12.2h-71.1zM647.9 1525.3h71.1v12.2h-71.1zM647.9 1561.8h71.1v12.2h-71.1zM647.9 1610.4h71.1v12.2h-71.1zM647.9 1622.6h71.1v12.2h-71.1zM647.9 1634.7h71.1v12.2h-71.1zM647.9 1646.9h71.1v12.2h-71.1zM647.9 1707.7h71.1v12.2h-71.1zM647.9 1756.4h71.1v12.2h-71.1zM647.9 1780.7h71.1v12.2h-71.1zM647.9 1792.9h71.1v12.2h-71.1zM647.9 1805.1h71.1v12.2h-71.1zM647.9 1853.7h71.1v12.2h-71.1zM647.9 1865.9h71.1v12.2h-71.1zM647.9 1878.1h71.1v12.2h-71.1zM647.9 1890.2h71.1v12.2h-71.1zM647.9 1902.4h71.1v12.2h-71.1zM647.9 1926.7h71.1v12.2h-71.1zM647.9 1938.9h71.1v12.2h-71.1zM647.9 1975.4h71.1v12.2h-71.1zM647.9 1999.7h71.1v12.2h-71.1zM647.9 2011.9h71.1v12.2h-71.1zM647.9 2036.2h71.1v12.2h-71.1zM647.9 2048.4h71.1v12.2h-71.1zM647.9 2060.6h71.1v12.2h-71.1zM647.9 2084.9h71.1v12.2h-71.1zM647.9 2109.2h71.1v12.2h-71.1zM647.9 2133.6h71.1v12.2h-71.1zM647.9 2145.7h71.1v12.2h-71.1zM647.9 2340.4h71.1v12.2h-71.1zM647.9 2352.5h71.1v12.2h-71.1zM647.9 2437.7h71.1v12.2h-71.1zM647.9 2462h71.1v12.2h-71.1zM647.9 2474.2h71.1v12.2h-71.1zM647.9 2486.4h71.1v12.2h-71.1zM647.9 2535h71.1v12.2h-71.1zM647.9 2547.2h71.1v12.2h-71.1zM647.9 2571.5h71.1v12.2h-71.1zM647.9 2583.7h71.1v12.2h-71.1zM647.9 2595.9h71.1v12.2h-71.1z"/>
<path fill="#E1E1F4" d="M482.6 1744.2h71.1v12.2h-71.1z"/>
<path fill="#ECD9D9" d="M482.6 1829.4h71.1v12.2h-71.1zM482.6 2243h71.1v12.2h-71.1zM482.6 2255.2h71.1v12.2h-71.1zM482.6 2364.7h71.1v12.2h-71.1zM565.3 1354.9h71.3v12.2h-71.3zM565.3 1963.2h71.3v12.2h-71.3zM565.3 2218.7h71.3v12.2h-71.3zM565.3 2316h71.3v12.2h-71.3zM647.9 722.3h71.1v12.2h-71.1zM647.9 734.5h71.1v12.2h-71.1zM647.9 746.6h71.1v12.2h-71.1zM647.9 783.1h71.1v12.2h-71.1zM647.9 1829.4h71.1v12.2h-71.1zM647.9 2243h71.1v12.2h-71.1zM647.9 2255.2h71.1v12.2h-71.1z"/>
<path fill="#D0A2A4" d="M482.6 2072.7h71.1v12.2h-71.1zM565.3 856.1h71.3v12.2h-71.3zM565.3 917h71.3v12.2h-71.3zM565.3 989.9h71.3v12.2h-71.3zM565.3 1403.6h71.3v12.2h-71.3zM565.3 1573.9h71.3v12.2h-71.3zM565.3 2024.1h71.3v12.2h-71.3zM565.3 2084.9h71.3v12.2h-71.3zM565.3 2376.9h71.3v12.2h-71.3zM647.9 2072.7h71.1v12.2h-71.1z"/>
<path fill="#FDFDFE" d="M482.6 2425.5h71.1v12.2h-71.1zM647.9 2194.4h71.1v12.2h-71.1zM647.9 2522.9h71.1v12.2h-71.1zM647.9 2559.4h71.1v12.2h-71.1z"/>
<path fill="#E3C9CA" d="M565.3 649.3h71.3v12.2h-71.3zM565.3 819.6h71.3v12.2h-71.3zM565.3 1379.3h71.3v12.2h-71.3zM565.3 1488.8h71.3v12.2h-71.3z"/>
<path fill="#B16567" d="M565.3 685.8h71.3v12.2h-71.3zM565.3 710.1h71.3v12.2h-71.3zM565.3 965.6h71.3v12.2h-71.3zM565.3 1002.1h71.3v12.2h-71.3zM565.3 1038.6h71.3v12.2h-71.3zM565.3 1111.6h71.3v12.2h-71.3zM565.3 1135.9h71.3v12.2h-71.3zM565.3 1598.2h71.3v12.2h-71.3zM565.3 1646.9h71.3v12.2h-71.3zM565.3 1659.1h71.3v12.2h-71.3zM565.3 1817.2h71.3v12.2h-71.3zM565.3 1902.4h71.3v12.2h-71.3zM565.3 1999.7h71.3v12.2h-71.3zM565.3 2230.9h71.3v12.2h-71.3zM565.3 2364.7h71.3v12.2h-71.3zM565.3 2462h71.3v12.2h-71.3zM565.3 2474.2h71.3v12.2h-71.3zM565.3 2498.5h71.3v12.2h-71.3zM565.3 2522.9h71.3v12.2h-71.3zM565.3 2535h71.3v12.2h-71.3zM565.3 2547.2h71.3v12.2h-71.3z"/>
<path fill="#AB585B" d="M565.3 698h71.3v12.2h-71.3zM565.3 977.8h71.3v12.2h-71.3zM565.3 1148.1h71.3v12.2h-71.3zM565.3 1208.9h71.3v12.2h-71.3zM565.3 1318.4h71.3v12.2h-71.3zM565.3 1440.1h71.3v12.2h-71.3zM565.3 1610.4h71.3v12.2h-71.3zM565.3 2060.6h71.3v12.2h-71.3zM565.3 2182.2h71.3v12.2h-71.3zM565.3 2340.4h71.3v12.2h-71.3zM565.3 2352.5h71.3v12.2h-71.3zM565.3 2595.9h71.3v12.2h-71.3z"/>
<path fill="#92282C" d="M565.3 722.3h71.3v12.2h-71.3zM565.3 941.3h71.3v12.2h-71.3zM565.3 1062.9h71.3v12.2h-71.3zM565.3 1075.1h71.3v12.2h-71.3zM565.3 1452.3h71.3v12.2h-71.3zM565.3 1586.1h71.3v12.2h-71.3zM565.3 1829.4h71.3v12.2h-71.3zM565.3 2048.4h71.3v12.2h-71.3z"/>
<path fill="#C3898C" d="M565.3 734.5h71.3v12.2h-71.3zM565.3 831.8h71.3v12.2h-71.3zM565.3 1221.1h71.3v12.2h-71.3zM565.3 1233.3h71.3v12.2h-71.3zM565.3 1245.4h71.3v12.2h-71.3zM565.3 1464.4h71.3v12.2h-71.3zM565.3 1537.4h71.3v12.2h-71.3zM565.3 1561.8h71.3v12.2h-71.3zM565.3 1671.2h71.3v12.2h-71.3zM565.3 1683.4h71.3v12.2h-71.3zM565.3 1878.1h71.3v12.2h-71.3zM565.3 1938.9h71.3v12.2h-71.3zM565.3 2279.5h71.3v12.2h-71.3zM565.3 2328.2h71.3v12.2h-71.3zM565.3 2608h71.3v12.2h-71.3z"/>
<path fill="#BD7D7F" d="M565.3 746.6h71.3v12.2h-71.3zM565.3 771h71.3v12.2h-71.3zM565.3 795.3h71.3v12.2h-71.3zM565.3 904.8h71.3v12.2h-71.3zM565.3 1123.8h71.3v12.2h-71.3zM565.3 1476.6h71.3v12.2h-71.3zM565.3 1634.7h71.3v12.2h-71.3zM565.3 1805.1h71.3v12.2h-71.3zM565.3 1841.6h71.3v12.2h-71.3zM565.3 1853.7h71.3v12.2h-71.3zM565.3 1865.9h71.3v12.2h-71.3zM565.3 1914.6h71.3v12.2h-71.3zM565.3 2036.2h71.3v12.2h-71.3zM565.3 2072.7h71.3v12.2h-71.3zM565.3 2133.6h71.3v12.2h-71.3zM565.3 2243h71.3v12.2h-71.3zM565.3 2255.2h71.3v12.2h-71.3z"/>
<path fill="#B77173" d="M565.3 758.8h71.3v12.2h-71.3zM565.3 783.1h71.3v12.2h-71.3zM565.3 1160.3h71.3v12.2h-71.3zM565.3 1281.9h71.3v12.2h-71.3zM565.3 1294.1h71.3v12.2h-71.3zM565.3 1306.3h71.3v12.2h-71.3zM565.3 1367.1h71.3v12.2h-71.3zM565.3 1695.6h71.3v12.2h-71.3zM565.3 1768.6h71.3v12.2h-71.3zM565.3 1780.7h71.3v12.2h-71.3zM565.3 1792.9h71.3v12.2h-71.3zM565.3 2145.7h71.3v12.2h-71.3zM565.3 2170.1h71.3v12.2h-71.3zM565.3 2267.4h71.3v12.2h-71.3zM565.3 2303.9h71.3v12.2h-71.3z"/>
<path fill="#A44C4F" d="M565.3 807.5h71.3v12.2h-71.3zM565.3 868.3h71.3v12.2h-71.3zM565.3 929.1h71.3v12.2h-71.3zM565.3 1342.8h71.3v12.2h-71.3zM565.3 1622.6h71.3v12.2h-71.3zM565.3 1707.7h71.3v12.2h-71.3zM565.3 1719.9h71.3v12.2h-71.3zM565.3 2389h71.3v12.2h-71.3zM565.3 2449.9h71.3v12.2h-71.3zM565.3 2510.7h71.3v12.2h-71.3zM565.3 2571.5h71.3v12.2h-71.3zM565.3 2583.7h71.3v12.2h-71.3z"/>
<path fill="#D7AFB0" d="M565.3 844h71.3v12.2h-71.3zM565.3 880.5h71.3v12.2h-71.3zM565.3 1196.8h71.3v12.2h-71.3zM565.3 1257.6h71.3v12.2h-71.3zM565.3 1269.8h71.3v12.2h-71.3zM565.3 1549.6h71.3v12.2h-71.3zM565.3 1732.1h71.3v12.2h-71.3zM565.3 2425.5h71.3v12.2h-71.3z"/>
<path fill="#CA9698" d="M565.3 892.6h71.3v12.2h-71.3zM565.3 953.5h71.3v12.2h-71.3zM565.3 1050.8h71.3v12.2h-71.3zM565.3 1087.3h71.3v12.2h-71.3zM565.3 1926.7h71.3v12.2h-71.3zM565.3 1951.1h71.3v12.2h-71.3zM565.3 2109.2h71.3v12.2h-71.3zM565.3 2206.5h71.3v12.2h-71.3zM565.3 2559.4h71.3v12.2h-71.3z"/>
<path fill="#983438" d="M565.3 1026.4h71.3v12.2h-71.3zM565.3 1172.4h71.3v12.2h-71.3zM565.3 2011.9h71.3v12.2h-71.3zM565.3 2097.1h71.3v12.2h-71.3zM565.3 2413.4h71.3v12.2h-71.3zM565.3 2486.4h71.3v12.2h-71.3z"/>
<path fill="#DDBCBD" d="M565.3 1099.4h71.3v12.2h-71.3zM565.3 1184.6h71.3v12.2h-71.3zM565.3 1391.4h71.3v12.2h-71.3zM565.3 1415.8h71.3v12.2h-71.3zM565.3 1427.9h71.3v12.2h-71.3zM565.3 1890.2h71.3v12.2h-71.3zM565.3 2121.4h71.3v12.2h-71.3z"/>
<path fill="#9E4043" d="M565.3 1744.2h71.3v12.2h-71.3zM565.3 1756.4h71.3v12.2h-71.3zM565.3 2401.2h71.3v12.2h-71.3z"/>
<path fill="#8C1C20" d="M565.3 2291.7h71.3v12.2h-71.3zM565.3 2437.7h71.3v12.2h-71.3z"/>
<path fill="#F6ECED" d="M647.9 2498.5h71.1v12.2h-71.1z"/>
<path fill="none" stroke="#000" stroke-opacity="0.2" stroke-width="0.8" d="M482.6 649.3H553.7M482.6 661.5H553.7M482.6 673.6H553.7M482.6 685.8H553.7M482.6 698H553.7M482.6 710.1H553.7M482.6 722.3H553.7M482.6 734.5H553.7M482.6 746.6H553.7M482.6 758.8H553.7M482.6 771H553.7M482.6 783.1H553.7M482.6 795.3H553.7M482.6 807.5H553.7M482.6 819.6H553.7M482.6 831.8H553.7M482.6 844H553.7M482.6 856.1H553.7M482.6 868.3H553.7M482.6 880.5H553.7M482.6 892.6H553.7M482.6 904.8H553.7M482.6 917H553.7M482.6 929.1H553.7M482.6 941.3H553.7M482.6 953.5H553.7M482.6 965.6H553.7M482.6 977.8H553.7M482.6 989.9H553.7M482.6 1002.1H553.7M482.6 1014.3H553.7M482.6 1026.4H553.7M482.6 1038.6H553.7M482.6 1050.8H553.7M482.6 1062.9H553.7M482.6 1075.1H553.7M482.6 1087.3H553.7M482.6 1099.4H553.7M482.6 1111.6H553.7M482.6 1123.8H553.7M482.6 1135.9H553.7M482.6 1148.1H553.7M482.6 1160.3H553.7M482.6 1172.4H553.7M482.6 1184.6H553.7M482.6 1196.8H553.7M482.6 1208.9H553.7M482.6 1221.1H553.7M482.6 1233.3H553.7M482.6 1245.4H553.7M482.6 1257.6H553.7M482.6 1269.8H553.7M482.6 1281.9H553.7M482.6 1294.1H553.7M482.6 1306.3H553.7M482.6 1318.4H553.7M482.6 1330.6H553.7M482.6 1342.8H553.7M482.6 1354.9H553.7M482.6 1367.1H553.7M482.6 1379.3H553.7M482.6 1391.4H553.7M482.6 1403.6H553.7M482.6 1415.8H553.7M482.6 1427.9H553.7M482.6 1440.1H553.7M482.6 1452.3H553.7M482.6 1464.4H553.7M482.6 1476.6H553.7M482.6 1488.8H553.7M482.6 1500.9H553.7M482.6 1513.1H553.7M482.6 1525.3H553.7M482.6 1537.4H553.7M482.6 1549.6H553.7M482.6 1561.8H553.7M482.6 1573.9H553.7M482.6 1586.1H553.7M482.6 1598.2H553.7M482.6 1610.4H553.7M482.6 1622.6H553.7M482.6 1634.7H553.7M482.6 1646.9H553.7M482.6 1659.1H553.7M482.6 1671.2H553.7M482.6 1683.4H553.7M482.6 1695.6H553.7M482.6 1707.7H553.7M482.6 1719.9H553.7M482.6 1732.1H553.7M482.6 1744.2H553.7M482.6 1756.4H553.7M482.6 1768.6H553.7M482.6 1780.7H553.7M482.6 1792.9H553.7M482.6 1805.1H553.7M482.6 1817.2H553.7M482.6 1829.4H553.7M482.6 1841.6H553.7M482.6 1853.7H553.7M482.6 1865.9H553.7M482.6 1878.1H553.7M482.6 1890.2H553.7M482.6 1902.4H553.7M482.6 1914.6H553.7M482.6 1926.7H553.7M482.6 1938.9H553.7M482.6 1951.1H553.7M482.6 1963.2H553.7M482.6 1975.4H553.7M482.6 1987.6H553.7M482.6 1999.7H553.7M482.6 2011.9H553.7M482.6 2024.1H553.7M482.6 2036.2H553.7M482.6 2048.4H553.7M482.6 2060.6H553.7M482.6 2072.7H553.7M482.6 2084.9H553.7M482.6 2097.1H553.7M482.6 2109.2H553.7M482.6 2121.4H553.7M482.6 2133.6H553.7M482.6 2145.7H553.7M482.6 2157.9H553.7M482.6 2170.1H553.7M482.6 2182.2H553.7M482.6 2194.4H553.7M482.6 2206.5H553.7M482.6 2218.7H553.7M482.6 2230.9H553.7M482.6 2243H553.7M482.6 2255.2H553.7M482.6 2267.4H553.7M482.6 2279.5H553.7M482.6 2291.7H553.7M482.6 2303.9H553.7M482.6 2316H553.7M482.6 2328.2H553.7M482.6 2340.4H553.7M482.6 2352.5H553.7M482.6 2364.7H553.7M482.6 2376.9H553.7M482.6 2389H553.7M482.6 2401.2H553.7M482.6 2413.4H553.7M482.6 2425.5H553.7M482.6 2437.7H553.7M482.6 2449.9H553.7M482.6 2462H553.7M482.6 2474.2H553.7M482.6 2486.4H553.7M482.6 2498.5H553.7M482.6 2510.7H553.7M482.6 2522.9H553.7M482.6 2535H553.7M482.6 2547.2H553.7M482.6 2559.4H553.7M482.6 2571.5H553.7M482.6 2583.7H553.7M482.6 2595.9H553.7M482.6 2608H553.7M482.6 2620.2H553.7M482.6 649.3V2620.2M553.7 649.3V2620.2M565.3 649.3H636.6M565.3 661.5H636.6M565.3 673.6H636.6M565.3 685.8H636.6M565.3 698H636.6M565.3 710.1H636.6M565.3 722.3H636.6M565.3 734.5H636.6M565.3 746.6H636.6M565.3 758.8H636.6M565.3 771H636.6M565.3 783.1H636.6M565.3 795.3H636.6M565.3 807.5H636.6M565.3 819.6H636.6M565.3 831.8H636.6M565.3 844H636.6M565.3 856.1H636.6M565.3 868.3H636.6M565.3 880.5H636.6M565.3 892.6H636.6M565.3 904.8H636.6M565.3 917H636.6M565.3 929.1H636.6M565.3 941.3H636.6M565.3 953.5H636.6M565.3 965.6H636.6M565.3 977.8H636.6M565.3 989.9H636.6M565.3 1002.1H636.6M565.3 1014.3H636.6M565.3 1026.4H636.6M565.3 1038.6H636.6M565.3 1050.8H636.6M565.3 1062.9H636.6M565.3 1075.1H636.6M565.3 1087.3H636.6M565.3 1099.4H636.6M565.3 1111.6H636.6M565.3 1123.8H636.6M565.3 1135.9H636.6M565.3 1148.1H636.6M565.3 1160.3H636.6M565.3 1172.4H636.6M565.3 1184.6H636.6M565.3 1196.8H636.6M565.3 1208.9H636.6M565.3 1221.1H636.6M565.3 1233.3H636.6M565.3 1245.4H636.6M565.3 1257.6H636.6M565.3 1269.8H636.6M565.3 1281.9H636.6M565.3 1294.1H636.6M565.3 1306.3H636.6M565.3 1318.4H636.6M565.3 1330.6H636.6M565.3 1342.8H636.6M565.3 1354.9H636.6M565.3 1367.1H636.6M565.3 1379.3H636.6M565.3 1391.4H636.6M565.3 1403.6H636.6M565.3 1415.8H636.6M565.3 1427.9H636.6M565.3 1440.1H636.6M565.3 1452.3H636.6M565.3 1464.4H636.6M565.3 1476.6H636.6M565.3 1488.8H636.6M565.3 1500.9H636.6M565.3 1513.1H636.6M565.3 1525.3H636.6M565.3 1537.4H636.6M565.3 1549.6H636.6M565.3 1561.8H636.6M565.3 1573.9H636.6M565.3 1586.1H636.6M565.3 1598.2H636.6M565.3 1610.4H636.6M565.3 1622.6H636.6M565.3 1634.7H636.6M565.3 1646.9H636.6M565.3 1659.1H636.6M565.3 1671.2H636.6M565.3 1683.4H636.6M565.3 1695.6H636.6M565.3 1707.7H636.6M565.3 1719.9H636.6M565.3 1732.1H636.6M565.3 1744.2H636.6M565.3 1756.4H636.6M565.3 1768.6H636.6M565.3 1780.7H636.6M565.3 1792.9H636.6M565.3 1805.1H636.6M565.3 1817.2H636.6M565.3 1829.4H636.6M565.3 1841.6H636.6M565.3 1853.7H636.6M565.3 1865.9H636.6M565.3 1878.1H636.6M565.3 1890.2H636.6M565.3 1902.4H636.6M565.3 1914.6H636.6M565.3 1926.7H636.6M565.3 1938.9H636.6M565.3 1951.1H636.6M565.3 1963.2H636.6M565.3 1975.4H636.6M565.3 1987.6H636.6M565.3 1999.7H636.6M565.3 2011.9H636.6M565.3 2024.1H636.6M565.3 2036.2H636.6M565.3 2048.4H636.6M565.3 2060.6H636.6M565.3 2072.7H636.6M565.3 2084.9H636.6M565.3 2097.1H636.6M565.3 2109.2H636.6M565.3 2121.4H636.6M565.3 2133.6H636.6M565.3 2145.7H636.6M565.3 2157.9H636.6M565.3 2170.1H636.6M565.3 2182.2H636.6M565.3 2194.4H636.6M565.3 2206.5H636.6M565.3 2218.7H636.6M565.3 2230.9H636.6M565.3 2243H636.6M565.3 2255.2H636.6M565.3 2267.4H636.6M565.3 2279.5H636.6M565.3 2291.7H636.6M565.3 2303.9H636.6M565.3 2316H636.6M565.3 2328.2H636.6M565.3 2340.4H636.6M565.3 2352.5H636.6M565.3 2364.7H636.6M565.3 2376.9H636.6M565.3 2389H636.6M565.3 2401.2H636.6M565.3 2413.4H636.6M565.3 2425.5H636.6M565.3 2437.7H636.6M565.3 2449.9H636.6M565.3 2462H636.6M565.3 2474.2H636.6M565.3 2486.4H636.6M565.3 2498.5H636.6M565.3 2510.7H636.6M565.3 2522.9H636.6M565.3 2535H636.6M565.3 2547.2H636.6M565.3 2559.4H636.6M565.3 2571.5H636.6M565.3 2583.7H636.6M565.3 2595.9H636.6M565.3 2608H636.6M565.3 2620.2H636.6M565.3 649.3V2620.2M636.6 649.3V2620.2M647.9 649.3H719M647.9 661.5H719M647.9 673.6H719M647.9 685.8H719M647.9 698H719M647.9 710.1H719M647.9 722.3H719M647.9 734.5H719M647.9 746.6H719M647.9 758.8H719M647.9 771H719M647.9 783.1H719M647.9 795.3H719M647.9 807.5H719M647.9 819.6H719M647.9 831.8H719M647.9 844H719M647.9 856.1H719M647.9 868.3H719M647.9 880.5H719M647.9 892.6H719M647.9 904.8H719M647.9 917H719M647.9 929.1H719M647.9 941.3H719M647.9 953.5H719M647.9 965.6H719M647.9 977.8H719M647.9 989.9H719M647.9 1002.1H719M647.9 1014.3H719M647.9 1026.4H719M647.9 1038.6H719M647.9 1050.8H719M647.9 1062.9H719M647.9 1075.1H719M647.9 1087.3H719M647.9 1099.4H719M647.9 1111.6H719M647.9 1123.8H719M647.9 1135.9H719M647.9 1148.1H719M647.9 1160.3H719M647.9 1172.4H719M647.9 1184.6H719M647.9 1196.8H719M647.9 1208.9H719M647.9 1221.1H719M647.9 1233.3H719M647.9 1245.4H719M647.9 1257.6H719M647.9 1269.8H719M647.9 1281.9H719M647.9 1294.1H719M647.9 1306.3H719M647.9 1318.4H719M647.9 1330.6H719M647.9 1342.8H719M647.9 1354.9H719M647.9 1367.1H719M647.9 1379.3H719M647.9 1391.4H719M647.9 1403.6H719M647.9 1415.8H719M647.9 1427.9H719M647.9 1440.1H719M647.9 1452.3H719M647.9 1464.4H719M647.9 1476.6H719M647.9 1488.8H719M647.9 1500.9H719M647.9 1513.1H719M647.9 1525.3H719M647.9 1537.4H719M647.9 1549.6H719M647.9 1561.8H719M647.9 1573.9H719M647.9 1586.1H719M647.9 1598.2H719M647.9 1610.4H719M647.9 1622.6H719M647.9 1634.7H719M647.9 1646.9H719M647.9 1659.1H719M647.9 1671.2H719M647.9 1683.4H719M647.9 1695.6H719M647.9 1707.7H719M647.9 1719.9H719M647.9 1732.1H719M647.9 1744.2H719M647.9 1756.4H719M647.9 1768.6H719M647.9 1780.7H719M647.9 1792.9H719M647.9 1805.1H719M647.9 1817.2H719M647.9 1829.4H719M647.9 1841.6H719M647.9 1853.7H719M647.9 1865.9H719M647.9 1878.1H719M647.9 1890.2H719M647.9 1902.4H719M647.9 1914.6H719M647.9 1926.7H719M647.9 1938.9H719M647.9 1951.1H719M647.9 1963.2H719M647.9 1975.4H719M647.9 1987.6H719M647.9 1999.7H719M647.9 2011.9H719M647.9 2024.1H719M647.9 2036.2H719M647.9 2048.4H719M647.9 2060.6H719M647.9 2072.7H719M647.9 2084.9H719M647.9 2097.1H719M647.9 2109.2H719M647.9 2121.4H719M647.9 2133.6H719M647.9 2145.7H719M647.9 2157.9H719M647.9 2170.1H719M647.9 2182.2H719M647.9 2194.4H719M647.9 2206.5H719M647.9 2218.7H719M647.9 2230.9H719M647.9 2243H719M647.9 2255.2H719M647.9 2267.4H719M647.9 2279.5H719M647.9 2291.7H719M647.9 2303.9H719M647.9 2316H719M647.9 2328.2H719M647.9 2340.4H719M647.9 2352.5H719M647.9 2364.7H719M647.9 2376.9H719M647.9 2389H719M647.9 2401.2H719M647.9 2413.4H719M647.9 2425.5H719M647.9 2437.7H719M647.9 2449.9H719M647.9 2462H719M647.9 2474.2H719M647.9 2486.4H719M647.9 2498.5H719M647.9 2510.7H719M647.9 2522.9H719M647.9 2535H719M647.9 2547.2H719M647.9 2559.4H719M647.9 2571.5H719M647.9 2583.7H719M647.9 2595.9H719M647.9 2608H719M647.9 2620.2H719M647.9 649.3V2620.2M719 649.3V2620.2"/>
<path stroke="#000" stroke-width="2.4" stroke-linecap="square" d="M518.2 1750.3h0M518.2 2078.8h0M518.2 2370.8h0M601 691.9h0M601 704h0M601 716.2h0M601 728.4h0M601 740.5h0M601 752.7h0M601 764.9h0M601 777h0M601 789.2h0M601 801.4h0M601 813.5h0M601 825.7h0M601 837.9h0M601 850h0M601 862.2h0M601 874.4h0M601 886.5h0M601 898.7h0M601 910.9h0M601 935.2h0M601 947.4h0M601 971.7h0M601 983.9h0M601 996h0M601 1008.2h0M601 1032.5h0M601 1044.7h0M601 1056.9h0M601 1069h0M601 1081.2h0M601 1093.4h0M601 1105.5h0M601 1117.7h0M601 1129.9h0M601 1142h0M601 1154.2h0M601 1166.4h0M601 1178.5h0M601 1202.9h0M601 1215h0M601 1227.2h0M601 1239.4h0M601 1251.5h0M601 1263.7h0M601 1275.8h0M601 1288h0M601 1300.2h0M601 1312.3h0M601 1324.5h0M601 1348.8h0M601 1373.2h0M601 1385.3h0M601 1397.5h0M601 1409.7h0M601 1421.8h0M601 1446.2h0M601 1458.3h0M601 1470.5h0M601 1482.7h0M601 1494.8h0M601 1543.5h0M601 1555.7h0M601 1567.8h0M601 1580h0M601 1592.2h0M601 1604.3h0M601 1616.5h0M601 1628.7h0M601 1640.8h0M601 1653h0M601 1665.2h0M601 1677.3h0M601 1689.5h0M601 1701.7h0M601 1713.8h0M601 1726h0M601 1738.2h0M601 1750.3h0M601 1762.5h0M601 1774.7h0M601 1786.8h0M601 1799h0M601 1811.2h0M601 1823.3h0M601 1835.5h0M601 1847.7h0M601 1859.8h0M601 1872h0M601 1884.1h0M601 1896.3h0M601 1908.5h0M601 1920.6h0M601 1932.8h0M601 1945h0M601 1957.1h0M601 1969.3h0M601 2005.8h0M601 2018h0M601 2030.1h0M601 2042.3h0M601 2054.5h0M601 2066.6h0M601 2078.8h0M601 2091h0M601 2103.1h0M601 2115.3h0M601 2127.5h0M601 2139.6h0M601 2151.8h0M601 2176.1h0M601 2188.3h0M601 2212.6h0M601 2237h0M601 2249.1h0M601 2261.3h0M601 2273.5h0M601 2285.6h0M601 2297.8h0M601 2310h0M601 2334.3h0M601 2346.5h0M601 2358.6h0M601 2370.8h0M601 2383h0M601 2395.1h0M601 2407.3h0M601 2419.5h0M601 2431.6h0M601 2443.8h0M601 2456h0M601 2468.1h0M601 2480.3h0M601 2492.4h0M601 2504.6h0M601 2516.8h0M601 2528.9h0M601 2541.1h0M601 2553.3h0M601 2565.4h0M601 2577.6h0M601 2589.8h0M601 2601.9h0M601 2614.1h0M683.5 728.4h0M683.5 740.5h0M683.5 752.7h0M683.5 764.9h0M683.5 777h0M683.5 789.2h0M683.5 850h0M683.5 862.2h0M683.5 886.5h0M683.5 898.7h0M683.5 935.2h0M683.5 1020.4h0M683.5 1081.2h0M683.5 1154.2h0M683.5 1348.8h0M683.5 1446.2h0M683.5 1470.5h0M683.5 1494.8h0M683.5 1616.5h0M683.5 1628.7h0M683.5 1640.8h0M683.5 1665.2h0M683.5 1689.5h0M683.5 1701.7h0M683.5 1726h0M683.5 1774.7h0M683.5 1799h0M683.5 1811.2h0M683.5 1835.5h0M683.5 1872h0M683.5 1920.6h0M683.5 1945h0M683.5 1957.1h0M683.5 2030.1h0M683.5 2078.8h0M683.5 2091h0M683.5 2103.1h0M683.5 2115.3h0M683.5 2151.8h0M683.5 2176.1h0M683.5 2188.3h0M683.5 2237h0M683.5 2273.5h0M683.5 2285.6h0M683.5 2297.8h0M683.5 2334.3h0M683.5 2358.6h0M683.5 2370.8h0M683.5 2395.1h0M683.5 2419.5h0M683.5 2443.8h0M683.5 2456h0M683.5 2468.1h0M683.5 2480.3h0M683.5 2492.4h0M683.5 2504.6h0M683.5 2516.8h0M683.5 2553.3h0M683.5 2577.6h0M683.5 2589.8h0M683.5 2601.9h0"/>
<rect x="479.5" y="647.6" width="77.9" height="1972.4" fill="none" stroke="#555" stroke-width="1.3"/>
<rect x="562.1" y="647.6" width="78.2" height="1972.4" fill="none" stroke="#555" stroke-width="1.3"/>
<rect x="644.7" y="647.6" width="77.9" height="1972.4" fill="none" stroke="#555" stroke-width="1.3"/>
<g font-size="12" fill="#111" stroke="#111" stroke-width="0.22" text-anchor="end" transform="translate(470.8,0) scale(1.0,1)">
<text x="0" y="658.9">Gm15247</text>
<text x="0" y="671.1">G530011O06Rik</text>
<text x="0" y="683.2">Mid1</text>
<text x="0" y="695.4">BC022960</text>
<text x="0" y="707.6">Hccs</text>
<text x="0" y="719.7">Msl3</text>
<text x="0" y="731.9">Tmsb4x</text>
<text x="0" y="744.1">Tceanc</text>
<text x="0" y="756.2">Rab9</text>
<text x="0" y="768.4">Trappc2</text>
<text x="0" y="780.6">Ofd1</text>
<text x="0" y="792.7">Gpm6b</text>
<text x="0" y="804.9">Gemin8</text>
<text x="0" y="817.1">Piga</text>
<text x="0" y="829.2">Siah1b</text>
<text x="0" y="841.4">Car5b</text>
<text x="0" y="853.6">Zrsr2</text>
<text x="0" y="865.7">Ap1s2</text>
<text x="0" y="877.9">Ctps2</text>
<text x="0" y="890.1">Syap1</text>
<text x="0" y="902.2">Txlng</text>
<text x="0" y="914.4">Rbbp7</text>
<text x="0" y="926.6">Rai2</text>
<text x="0" y="938.7">Phka2</text>
<text x="0" y="950.9">Pdha1</text>
<text x="0" y="963.1">Map3k15</text>
<text x="0" y="975.2">A830080D01Rik</text>
<text x="0" y="987.4">Eif1ax</text>
<text x="0" y="999.6">Mbtps2</text>
<text x="0" y="1011.7">Sms</text>
<text x="0" y="1023.9">Gm15163</text>
<text x="0" y="1036">Prdx4</text>
<text x="0" y="1048.2">2210013O21Rik</text>
<text x="0" y="1060.4">9530051G07Rik</text>
<text x="0" y="1072.5">Mageh1</text>
<text x="0" y="1084.7">Tspyl2</text>
<text x="0" y="1096.9">Kantr</text>
<text x="0" y="1109">Kdm5c</text>
<text x="0" y="1121.2">Iqsec2</text>
<text x="0" y="1133.4">Smc1a</text>
<text x="0" y="1145.5">Ribc1</text>
<text x="0" y="1157.7">Hsd17b10</text>
<text x="0" y="1169.9">Huwe1</text>
<text x="0" y="1182">Phf8</text>
<text x="0" y="1194.2">3110067C02Rik</text>
<text x="0" y="1206.4">Tmem29</text>
<text x="0" y="1218.5">Alg13</text>
<text x="0" y="1230.7">Acsl4</text>
<text x="0" y="1242.9">Atg4a</text>
<text x="0" y="1255">Psmd10</text>
<text x="0" y="1267.2">Gprasp1</text>
<text x="0" y="1279.4">Armcx5</text>
<text x="0" y="1291.5">Drp2</text>
<text x="0" y="1303.7">Cenpi</text>
<text x="0" y="1315.9">Trmt2b</text>
<text x="0" y="1328">Cstf2</text>
<text x="0" y="1340.2">Mdm4−ps</text>
<text x="0" y="1352.4">Chm</text>
<text x="0" y="1364.5">Cox7b</text>
<text x="0" y="1376.7">Magt1</text>
<text x="0" y="1388.9">Pbdc1</text>
<text x="0" y="1401">5530601H04Rik</text>
<text x="0" y="1413.2">Ftx</text>
<text x="0" y="1425.4">Jpx</text>
<text x="0" y="1437.5">Hdac8</text>
<text x="0" y="1449.7">Rps4x</text>
<text x="0" y="1461.9">Ercc6l</text>
<text x="0" y="1474">Ogt</text>
<text x="0" y="1486.2">Taf1</text>
<text x="0" y="1498.4">Igbp1</text>
<text x="0" y="1510.5">Apoo</text>
<text x="0" y="1522.7">Eif2s3x</text>
<text x="0" y="1534.9">Gm8822</text>
<text x="0" y="1547">Vbp1</text>
<text x="0" y="1559.2">G6pdx</text>
<text x="0" y="1571.4">Ikbkg</text>
<text x="0" y="1583.5">Slc10a3</text>
<text x="0" y="1595.7">Ubl4</text>
<text x="0" y="1607.9">Lage3</text>
<text x="0" y="1620">Plxna3</text>
<text x="0" y="1632.2">Fam50a</text>
<text x="0" y="1644.3">Gdi1</text>
<text x="0" y="1656.5">Atp6ap1</text>
<text x="0" y="1668.7">Taz</text>
<text x="0" y="1680.8">Dnase1l1</text>
<text x="0" y="1693">Rpl10</text>
<text x="0" y="1705.2">Emd</text>
<text x="0" y="1717.3">Flna</text>
<text x="0" y="1729.5">Mecp2</text>
<text x="0" y="1741.7">Hcfc1</text>
<text x="0" y="1753.8">Renbp</text>
<text x="0" y="1766">Naa10</text>
<text x="0" y="1778.2">Arhgap4</text>
<text x="0" y="1790.3">Pdzd4</text>
<text x="0" y="1802.5">Ssr4</text>
<text x="0" y="1814.7">Idh3g</text>
<text x="0" y="1826.8">Srpk3</text>
<text x="0" y="1839">Plxnb3</text>
<text x="0" y="1851.2">Abcd1</text>
<text x="0" y="1863.3">Bcap31</text>
<text x="0" y="1875.5">Slc6a8</text>
<text x="0" y="1887.7">Fmr1</text>
<text x="0" y="1899.8">Gm14680</text>
<text x="0" y="1912">Rbmx</text>
<text x="0" y="1924.2">Htatsf1</text>
<text x="0" y="1936.3">Slc9a6</text>
<text x="0" y="1948.5">Mmgt1</text>
<text x="0" y="1960.7">Firre</text>
<text x="0" y="1972.8">Utp14a</text>
<text x="0" y="1985">Zfp36l1−ps</text>
<text x="0" y="1997.2">Nkap</text>
<text x="0" y="2009.3">Upf3b</text>
<text x="0" y="2021.5">Akap17b</text>
<text x="0" y="2033.7">A230072C01Rik</text>
<text x="0" y="2045.8">Uxt</text>
<text x="0" y="2058">Elk1</text>
<text x="0" y="2070.2">Cfp</text>
<text x="0" y="2082.3">Timp1</text>
<text x="0" y="2094.5">Araf</text>
<text x="0" y="2106.7">Usp11</text>
<text x="0" y="2118.8">Cdk16</text>
<text x="0" y="2131">Uba1</text>
<text x="0" y="2143.2">Rbm10</text>
<text x="0" y="2155.3">Ndufb11</text>
<text x="0" y="2167.5">Gm14539</text>
<text x="0" y="2179.7">Kdm6a</text>
<text x="0" y="2191.8">Fundc1</text>
<text x="0" y="2204">Gm9434</text>
<text x="0" y="2216.2">Ddx3x</text>
<text x="0" y="2228.3">Llph−ps2</text>
<text x="0" y="2240.5">Usp9x</text>
<text x="0" y="2252.6">5730405O15Rik</text>
<text x="0" y="2264.8">Gm14634</text>
<text x="0" y="2277">Med14</text>
<text x="0" y="2289.1">1810030O07Rik</text>
<text x="0" y="2301.3">Atp6ap2</text>
<text x="0" y="2313.5">Bcor</text>
<text x="0" y="2325.6">Gm14513</text>
<text x="0" y="2337.8">Mid1ip1</text>
<text x="0" y="2350">Rpgr</text>
<text x="0" y="2362.1">Ftsj1</text>
<text x="0" y="2374.3">Porcn</text>
<text x="0" y="2386.5">Ebp</text>
<text x="0" y="2398.6">Tbc1d25</text>
<text x="0" y="2410.8">Rbm3</text>
<text x="0" y="2423">Wdr13</text>
<text x="0" y="2435.1">Suv39h1</text>
<text x="0" y="2447.3">Hdac6</text>
<text x="0" y="2459.5">Pcsk1n</text>
<text x="0" y="2471.6">Timm17b</text>
<text x="0" y="2483.8">Pqbp1</text>
<text x="0" y="2496">Slc35a2</text>
<text x="0" y="2508.1">Pim2</text>
<text x="0" y="2520.3">Otud5</text>
<text x="0" y="2532.5">Kcnd1</text>
<text x="0" y="2544.6">Gripap1</text>
<text x="0" y="2556.8">Tfe3</text>
<text x="0" y="2569">Ccdc120</text>
<text x="0" y="2581.1">Praf2</text>
<text x="0" y="2593.3">Wdr45</text>
<text x="0" y="2605.5">Gpkow</text>
<text x="0" y="2617.6">RP23−135F22.6</text>
</g>
<path stroke="#444" stroke-width="1.15" d="M473.4 655.4H478.7M473.4 667.5H478.7M473.4 679.7H478.7M473.4 691.9H478.7M473.4 704H478.7M473.4 716.2H478.7M473.4 728.4H478.7M473.4 740.5H478.7M473.4 752.7H478.7M473.4 764.9H478.7M473.4 777H478.7M473.4 789.2H478.7M473.4 801.4H478.7M473.4 813.5H478.7M473.4 825.7H478.7M473.4 837.9H478.7M473.4 850H478.7M473.4 862.2H478.7M473.4 874.4H478.7M473.4 886.5H478.7M473.4 898.7H478.7M473.4 910.9H478.7M473.4 923H478.7M473.4 935.2H478.7M473.4 947.4H478.7M473.4 959.5H478.7M473.4 971.7H478.7M473.4 983.9H478.7M473.4 996H478.7M473.4 1008.2H478.7M473.4 1020.4H478.7M473.4 1032.5H478.7M473.4 1044.7H478.7M473.4 1056.9H478.7M473.4 1069H478.7M473.4 1081.2H478.7M473.4 1093.4H478.7M473.4 1105.5H478.7M473.4 1117.7H478.7M473.4 1129.9H478.7M473.4 1142H478.7M473.4 1154.2H478.7M473.4 1166.4H478.7M473.4 1178.5H478.7M473.4 1190.7H478.7M473.4 1202.9H478.7M473.4 1215H478.7M473.4 1227.2H478.7M473.4 1239.4H478.7M473.4 1251.5H478.7M473.4 1263.7H478.7M473.4 1275.8H478.7M473.4 1288H478.7M473.4 1300.2H478.7M473.4 1312.3H478.7M473.4 1324.5H478.7M473.4 1336.7H478.7M473.4 1348.8H478.7M473.4 1361H478.7M473.4 1373.2H478.7M473.4 1385.3H478.7M473.4 1397.5H478.7M473.4 1409.7H478.7M473.4 1421.8H478.7M473.4 1434H478.7M473.4 1446.2H478.7M473.4 1458.3H478.7M473.4 1470.5H478.7M473.4 1482.7H478.7M473.4 1494.8H478.7M473.4 1507H478.7M473.4 1519.2H478.7M473.4 1531.3H478.7M473.4 1543.5H478.7M473.4 1555.7H478.7M473.4 1567.8H478.7M473.4 1580H478.7M473.4 1592.2H478.7M473.4 1604.3H478.7M473.4 1616.5H478.7M473.4 1628.7H478.7M473.4 1640.8H478.7M473.4 1653H478.7M473.4 1665.2H478.7M473.4 1677.3H478.7M473.4 1689.5H478.7M473.4 1701.7H478.7M473.4 1713.8H478.7M473.4 1726H478.7M473.4 1738.2H478.7M473.4 1750.3H478.7M473.4 1762.5H478.7M473.4 1774.7H478.7M473.4 1786.8H478.7M473.4 1799H478.7M473.4 1811.2H478.7M473.4 1823.3H478.7M473.4 1835.5H478.7M473.4 1847.7H478.7M473.4 1859.8H478.7M473.4 1872H478.7M473.4 1884.1H478.7M473.4 1896.3H478.7M473.4 1908.5H478.7M473.4 1920.6H478.7M473.4 1932.8H478.7M473.4 1945H478.7M473.4 1957.1H478.7M473.4 1969.3H478.7M473.4 1981.5H478.7M473.4 1993.6H478.7M473.4 2005.8H478.7M473.4 2018H478.7M473.4 2030.1H478.7M473.4 2042.3H478.7M473.4 2054.5H478.7M473.4 2066.6H478.7M473.4 2078.8H478.7M473.4 2091H478.7M473.4 2103.1H478.7M473.4 2115.3H478.7M473.4 2127.5H478.7M473.4 2139.6H478.7M473.4 2151.8H478.7M473.4 2164H478.7M473.4 2176.1H478.7M473.4 2188.3H478.7M473.4 2200.5H478.7M473.4 2212.6H478.7M473.4 2224.8H478.7M473.4 2237H478.7M473.4 2249.1H478.7M473.4 2261.3H478.7M473.4 2273.5H478.7M473.4 2285.6H478.7M473.4 2297.8H478.7M473.4 2310H478.7M473.4 2322.1H478.7M473.4 2334.3H478.7M473.4 2346.5H478.7M473.4 2358.6H478.7M473.4 2370.8H478.7M473.4 2383H478.7M473.4 2395.1H478.7M473.4 2407.3H478.7M473.4 2419.5H478.7M473.4 2431.6H478.7M473.4 2443.8H478.7M473.4 2456H478.7M473.4 2468.1H478.7M473.4 2480.3H478.7M473.4 2492.4H478.7M473.4 2504.6H478.7M473.4 2516.8H478.7M473.4 2528.9H478.7M473.4 2541.1H478.7M473.4 2553.3H478.7M473.4 2565.4H478.7M473.4 2577.6H478.7M473.4 2589.8H478.7M473.4 2601.9H478.7M473.4 2614.1H478.7"/>
<text x="556.8" y="2653.7" font-size="20.5" text-anchor="middle">Log2</text>
<text x="556.8" y="2678.7" font-size="20.5" text-anchor="middle">Fold Change</text>
<defs><linearGradient id="g570" x1="0" y1="0" x2="0" y2="1"><stop offset="0.000" stop-color="#DCDCEE"/><stop offset="0.081" stop-color="#E2E2F0"/><stop offset="0.148" stop-color="#FFFFFF"/><stop offset="0.318" stop-color="#E6CECF"/><stop offset="0.489" stop-color="#CFA0A2"/><stop offset="0.659" stop-color="#B87376"/><stop offset="0.830" stop-color="#A2474B"/><stop offset="1.000" stop-color="#8C1C20"/></linearGradient></defs>
<rect x="623" y="2630" width="14" height="72.4" fill="url(#g570)"/>
<text x="645.5" y="2646.4" font-size="20.8">0</text>
<text x="645.5" y="2666.2" font-size="20.8">−4</text>
<text x="645.5" y="2686" font-size="20.8">−8</text>
<text x="645.5" y="2705.8" font-size="20.8">−12</text>
<defs><clipPath id="c576"><path d="M735.3,669.8 A11.2,14.5 0 0 1 757.6,669.8 L757.6,2610.2 A11.2,14.5 0 0 1 735.3,2610.2 Z"/></clipPath></defs>
<g clip-path="url(#c576)">
<rect x="734.3" y="655.3" width="24.3" height="93.5" fill="#FFFFFF"/>
<rect x="734.3" y="748.5" width="24.3" height="86.3" fill="#A9A9A9"/>
<rect x="734.3" y="834.5" width="24.3" height="86.8" fill="#FFFFFF"/>
<rect x="734.3" y="921" width="24.3" height="86.3" fill="#A9A9A9"/>
<rect x="734.3" y="1007" width="24.3" height="43.3" fill="#FFFFFF"/>
<rect x="734.3" y="1050" width="24.3" height="161" fill="#000000"/>
<rect x="734.3" y="1210.7" width="24.3" height="11.6" fill="#FFFFFF"/>
<rect x="734.3" y="1222" width="24.3" height="120.9" fill="#000000"/>
<rect x="734.3" y="1342.6" width="24.3" height="105.1" fill="#FFFFFF"/>
<rect x="734.3" y="1447.4" width="24.3" height="102.7" fill="#000000"/>
<rect x="734.3" y="1549.8" width="24.3" height="12.2" fill="#FFFFFF"/>
<rect x="734.3" y="1561.7" width="24.3" height="102.6" fill="#000000"/>
<rect x="734.3" y="1664" width="24.3" height="59.9" fill="#FFFFFF"/>
<rect x="734.3" y="1723.6" width="24.3" height="74.1" fill="#575757"/>
<rect x="734.3" y="1797.4" width="24.3" height="16.9" fill="#FFFFFF"/>
<rect x="734.3" y="1814" width="24.3" height="75.1" fill="#575757"/>
<rect x="734.3" y="1888.8" width="24.3" height="81.5" fill="#FFFFFF"/>
<rect x="734.3" y="1970" width="24.3" height="96.7" fill="#575757"/>
<rect x="734.3" y="2066.4" width="24.3" height="92.9" fill="#FFFFFF"/>
<rect x="734.3" y="2159" width="24.3" height="62.3" fill="#575757"/>
<rect x="734.3" y="2221" width="24.3" height="14.8" fill="#FFFFFF"/>
<rect x="734.3" y="2235.5" width="24.3" height="62.2" fill="#575757"/>
<rect x="734.3" y="2297.4" width="24.3" height="81.2" fill="#FFFFFF"/>
<rect x="734.3" y="2378.3" width="24.3" height="34.6" fill="#A9A9A9"/>
<rect x="734.3" y="2412.6" width="24.3" height="28.7" fill="#FFFFFF"/>
<rect x="734.3" y="2441" width="24.3" height="184" fill="#000000"/>
</g>
<path d="M735.3,669.8 A11.2,14.5 0 0 1 757.6,669.8 L757.6,2610.2 A11.2,14.5 0 0 1 735.3,2610.2 Z" fill="none" stroke="#6A6A6A" stroke-width="1"/>
<text x="764.7" y="721.8" font-size="22" text-anchor="middle" transform="rotate(90 764.7 721.8)">Telomere</text>
<text x="764.7" y="2546.2" font-size="22" text-anchor="middle" transform="rotate(90 764.7 2546.2)">Centromere</text>
<text x="895" y="599" font-size="30" font-weight="bold">e</text>
<text x="1104.5" y="599" font-size="19.5" text-anchor="middle">Astrocyte E6 Dox (7d)</text>
<rect x="1001.8" y="614.1" width="88.7" height="19.6" fill="#D9D9D9"/>
<text x="1046.2" y="630.1" font-size="20.5" text-anchor="middle" fill="#1A1A1A">Active</text>
<rect x="1097.1" y="614.1" width="85.2" height="19.6" fill="#D9D9D9"/>
<text x="1139.7" y="630.1" font-size="20.5" text-anchor="middle" fill="#1A1A1A">Inactive</text>
<rect x="1187.7" y="614.1" width="87.2" height="19.6" fill="#D9D9D9"/>
<text x="1231.3" y="630.1" font-size="20.5" text-anchor="middle" fill="#1A1A1A">Total</text>
<line x1="1001.8" y1="637.6" x2="1274.9" y2="637.6" stroke="#A0A0A0" stroke-width="1.6"/>
<path fill="#F9F9FD" d="M1006.9 662.1h80v10.5h-80zM1006.9 683h80v10.5h-80zM1006.9 745.9h80v10.5h-80zM1006.9 1227.9h80v10.5h-80zM1006.9 1594.6h80v10.5h-80zM1006.9 1730.8h80v10.5h-80zM1006.9 1804.2h80v10.5h-80zM1006.9 1992.8h80v10.5h-80zM1099.5 1971.8h79.7v10.5h-79.7zM1191.3 651.6h80.3v10.5h-80.3zM1191.3 1301.2h80.3v10.5h-80.3zM1191.3 1479.4h80.3v10.5h-80.3zM1191.3 1971.8h80.3v10.5h-80.3z"/>
<path fill="#FCFCFE" d="M1006.9 672.6h80v10.5h-80zM1006.9 1364.1h80v10.5h-80zM1006.9 1406h80v10.5h-80zM1006.9 1468.9h80v10.5h-80zM1006.9 1751.8h80v10.5h-80zM1006.9 1814.7h80v10.5h-80zM1006.9 1825.1h80v10.5h-80zM1006.9 2045.2h80v10.5h-80zM1006.9 2411.9h80v10.5h-80zM1099.5 1856.6h79.7v10.5h-79.7zM1191.3 662.1h80.3v10.5h-80.3zM1191.3 672.6h80.3v10.5h-80.3zM1191.3 1542.2h80.3v10.5h-80.3zM1191.3 1909h80.3v10.5h-80.3zM1191.3 2055.7h80.3v10.5h-80.3zM1191.3 2150h80.3v10.5h-80.3z"/>
<path fill="#FCF8F8" d="M1006.9 777.3h80v10.5h-80zM1006.9 787.8h80v10.5h-80zM1006.9 819.2h80v10.5h-80zM1006.9 934.5h80v10.5h-80zM1006.9 1039.3h80v10.5h-80zM1006.9 1081.2h80v10.5h-80zM1006.9 1133.6h80v10.5h-80zM1006.9 1186h80v10.5h-80zM1006.9 1217.4h80v10.5h-80zM1006.9 1248.8h80v10.5h-80zM1006.9 1280.3h80v10.5h-80zM1006.9 1311.7h80v10.5h-80zM1006.9 1343.1h80v10.5h-80zM1006.9 1385.1h80v10.5h-80zM1006.9 1437.5h80v10.5h-80zM1006.9 1458.4h80v10.5h-80zM1006.9 1489.8h80v10.5h-80zM1006.9 1762.3h80v10.5h-80zM1006.9 1783.2h80v10.5h-80zM1006.9 1856.6h80v10.5h-80zM1006.9 1877.5h80v10.5h-80zM1006.9 1898.5h80v10.5h-80zM1006.9 1929.9h80v10.5h-80zM1006.9 2150h80v10.5h-80zM1006.9 2244.3h80v10.5h-80zM1006.9 2286.2h80v10.5h-80zM1006.9 2296.6h80v10.5h-80zM1006.9 2307.1h80v10.5h-80zM1006.9 2317.6h80v10.5h-80zM1006.9 2338.6h80v10.5h-80zM1006.9 2349h80v10.5h-80zM1006.9 2380.5h80v10.5h-80zM1006.9 2401.4h80v10.5h-80zM1006.9 2453.8h80v10.5h-80zM1099.5 724.9h79.7v10.5h-79.7zM1099.5 1668h79.7v10.5h-79.7zM1099.5 2223.3h79.7v10.5h-79.7zM1191.3 724.9h80.3v10.5h-80.3zM1191.3 735.4h80.3v10.5h-80.3zM1191.3 745.9h80.3v10.5h-80.3zM1191.3 756.4h80.3v10.5h-80.3zM1191.3 766.9h80.3v10.5h-80.3zM1191.3 777.3h80.3v10.5h-80.3zM1191.3 840.2h80.3v10.5h-80.3zM1191.3 861.2h80.3v10.5h-80.3zM1191.3 871.6h80.3v10.5h-80.3zM1191.3 882.1h80.3v10.5h-80.3zM1191.3 892.6h80.3v10.5h-80.3zM1191.3 903.1h80.3v10.5h-80.3zM1191.3 955.5h80.3v10.5h-80.3zM1191.3 965.9h80.3v10.5h-80.3zM1191.3 997.4h80.3v10.5h-80.3zM1191.3 1018.3h80.3v10.5h-80.3zM1191.3 1028.8h80.3v10.5h-80.3zM1191.3 1039.3h80.3v10.5h-80.3zM1191.3 1049.8h80.3v10.5h-80.3zM1191.3 1070.7h80.3v10.5h-80.3zM1191.3 1091.7h80.3v10.5h-80.3zM1191.3 1123.1h80.3v10.5h-80.3zM1191.3 1133.6h80.3v10.5h-80.3zM1191.3 1144.1h80.3v10.5h-80.3zM1191.3 1154.5h80.3v10.5h-80.3zM1191.3 1175.5h80.3v10.5h-80.3zM1191.3 1186h80.3v10.5h-80.3zM1191.3 1196.5h80.3v10.5h-80.3zM1191.3 1206.9h80.3v10.5h-80.3zM1191.3 1217.4h80.3v10.5h-80.3zM1191.3 1227.9h80.3v10.5h-80.3zM1191.3 1238.4h80.3v10.5h-80.3zM1191.3 1248.8h80.3v10.5h-80.3zM1191.3 1269.8h80.3v10.5h-80.3zM1191.3 1280.3h80.3v10.5h-80.3zM1191.3 1290.8h80.3v10.5h-80.3zM1191.3 1322.2h80.3v10.5h-80.3zM1191.3 1332.7h80.3v10.5h-80.3zM1191.3 1343.1h80.3v10.5h-80.3zM1191.3 1353.6h80.3v10.5h-80.3zM1191.3 1364.1h80.3v10.5h-80.3zM1191.3 1406h80.3v10.5h-80.3zM1191.3 1416.5h80.3v10.5h-80.3zM1191.3 1437.5h80.3v10.5h-80.3zM1191.3 1468.9h80.3v10.5h-80.3zM1191.3 1489.8h80.3v10.5h-80.3zM1191.3 1500.3h80.3v10.5h-80.3zM1191.3 1521.3h80.3v10.5h-80.3zM1191.3 1531.8h80.3v10.5h-80.3zM1191.3 1563.2h80.3v10.5h-80.3zM1191.3 1573.7h80.3v10.5h-80.3zM1191.3 1584.1h80.3v10.5h-80.3zM1191.3 1594.6h80.3v10.5h-80.3zM1191.3 1605.1h80.3v10.5h-80.3zM1191.3 1615.6h80.3v10.5h-80.3zM1191.3 1626.1h80.3v10.5h-80.3zM1191.3 1636.5h80.3v10.5h-80.3zM1191.3 1647h80.3v10.5h-80.3zM1191.3 1657.5h80.3v10.5h-80.3zM1191.3 1668h80.3v10.5h-80.3zM1191.3 1678.4h80.3v10.5h-80.3zM1191.3 1688.9h80.3v10.5h-80.3zM1191.3 1699.4h80.3v10.5h-80.3zM1191.3 1709.9h80.3v10.5h-80.3zM1191.3 1720.4h80.3v10.5h-80.3zM1191.3 1772.7h80.3v10.5h-80.3zM1191.3 1783.2h80.3v10.5h-80.3zM1191.3 1793.7h80.3v10.5h-80.3zM1191.3 1804.2h80.3v10.5h-80.3zM1191.3 1814.7h80.3v10.5h-80.3zM1191.3 1825.1h80.3v10.5h-80.3zM1191.3 1835.6h80.3v10.5h-80.3zM1191.3 1846.1h80.3v10.5h-80.3zM1191.3 1898.5h80.3v10.5h-80.3zM1191.3 1919.4h80.3v10.5h-80.3zM1191.3 2003.3h80.3v10.5h-80.3zM1191.3 2013.7h80.3v10.5h-80.3zM1191.3 2034.7h80.3v10.5h-80.3zM1191.3 2045.2h80.3v10.5h-80.3zM1191.3 2066.1h80.3v10.5h-80.3zM1191.3 2076.6h80.3v10.5h-80.3zM1191.3 2118.5h80.3v10.5h-80.3zM1191.3 2160.4h80.3v10.5h-80.3zM1191.3 2170.9h80.3v10.5h-80.3zM1191.3 2181.4h80.3v10.5h-80.3zM1191.3 2191.9h80.3v10.5h-80.3zM1191.3 2202.3h80.3v10.5h-80.3zM1191.3 2212.8h80.3v10.5h-80.3zM1191.3 2233.8h80.3v10.5h-80.3zM1191.3 2244.3h80.3v10.5h-80.3zM1191.3 2265.2h80.3v10.5h-80.3zM1191.3 2275.7h80.3v10.5h-80.3zM1191.3 2286.2h80.3v10.5h-80.3zM1191.3 2296.6h80.3v10.5h-80.3zM1191.3 2307.1h80.3v10.5h-80.3zM1191.3 2317.6h80.3v10.5h-80.3zM1191.3 2328.1h80.3v10.5h-80.3zM1191.3 2338.6h80.3v10.5h-80.3zM1191.3 2349h80.3v10.5h-80.3zM1191.3 2359.5h80.3v10.5h-80.3zM1191.3 2411.9h80.3v10.5h-80.3zM1191.3 2432.9h80.3v10.5h-80.3zM1191.3 2443.3h80.3v10.5h-80.3zM1191.3 2453.8h80.3v10.5h-80.3zM1191.3 2464.3h80.3v10.5h-80.3zM1191.3 2474.8h80.3v10.5h-80.3zM1191.3 2495.7h80.3v10.5h-80.3zM1191.3 2506.2h80.3v10.5h-80.3zM1191.3 2516.7h80.3v10.5h-80.3zM1191.3 2527.2h80.3v10.5h-80.3zM1191.3 2537.6h80.3v10.5h-80.3zM1191.3 2548.1h80.3v10.5h-80.3zM1191.3 2558.6h80.3v10.5h-80.3zM1191.3 2569.1h80.3v10.5h-80.3zM1191.3 2579.6h80.3v10.5h-80.3zM1191.3 2590h80.3v10.5h-80.3zM1191.3 2600.5h80.3v10.5h-80.3zM1191.3 2611h80.3v10.5h-80.3z"/>
<path fill="#F9F4F4" d="M1006.9 798.3h80v10.5h-80zM1006.9 924h80v10.5h-80zM1006.9 986.9h80v10.5h-80zM1006.9 1144.1h80v10.5h-80zM1006.9 1322.2h80v10.5h-80zM1006.9 1332.7h80v10.5h-80zM1006.9 2139.5h80v10.5h-80zM1006.9 2390.9h80v10.5h-80zM1099.5 756.4h79.7v10.5h-79.7zM1099.5 777.3h79.7v10.5h-79.7zM1099.5 955.5h79.7v10.5h-79.7zM1191.3 693.5h80.3v10.5h-80.3zM1191.3 704h80.3v10.5h-80.3zM1191.3 714.5h80.3v10.5h-80.3zM1191.3 808.8h80.3v10.5h-80.3zM1191.3 829.7h80.3v10.5h-80.3zM1191.3 913.5h80.3v10.5h-80.3zM1191.3 934.5h80.3v10.5h-80.3zM1191.3 945h80.3v10.5h-80.3zM1191.3 986.9h80.3v10.5h-80.3zM1191.3 1060.2h80.3v10.5h-80.3zM1191.3 1081.2h80.3v10.5h-80.3zM1191.3 1112.6h80.3v10.5h-80.3zM1191.3 1165h80.3v10.5h-80.3zM1191.3 1311.7h80.3v10.5h-80.3zM1191.3 1385.1h80.3v10.5h-80.3zM1191.3 1395.5h80.3v10.5h-80.3zM1191.3 1427h80.3v10.5h-80.3zM1191.3 1751.8h80.3v10.5h-80.3zM1191.3 1929.9h80.3v10.5h-80.3zM1191.3 1950.9h80.3v10.5h-80.3zM1191.3 1961.3h80.3v10.5h-80.3zM1191.3 1982.3h80.3v10.5h-80.3zM1191.3 2087.1h80.3v10.5h-80.3zM1191.3 2097.6h80.3v10.5h-80.3zM1191.3 2108h80.3v10.5h-80.3zM1191.3 2129h80.3v10.5h-80.3zM1191.3 2370h80.3v10.5h-80.3zM1191.3 2380.5h80.3v10.5h-80.3zM1191.3 2390.9h80.3v10.5h-80.3zM1191.3 2401.4h80.3v10.5h-80.3zM1191.3 2422.4h80.3v10.5h-80.3zM1191.3 2485.2h80.3v10.5h-80.3z"/>
<path fill="#F6ECED" d="M1006.9 808.8h80v10.5h-80zM1006.9 1521.3h80v10.5h-80zM1006.9 1940.4h80v10.5h-80zM1099.5 735.4h79.7v10.5h-79.7zM1099.5 745.9h79.7v10.5h-79.7zM1099.5 2076.6h79.7v10.5h-79.7zM1191.3 819.2h80.3v10.5h-80.3zM1191.3 924h80.3v10.5h-80.3zM1191.3 1102.2h80.3v10.5h-80.3zM1191.3 1940.4h80.3v10.5h-80.3zM1191.3 2139.5h80.3v10.5h-80.3z"/>
<path fill="#ECD9D9" d="M1006.9 850.7h80v10.5h-80zM1006.9 1154.5h80v10.5h-80zM1099.5 829.7h79.7v10.5h-79.7zM1099.5 1070.7h79.7v10.5h-79.7zM1099.5 1301.2h79.7v10.5h-79.7zM1099.5 1531.8h79.7v10.5h-79.7zM1099.5 1573.7h79.7v10.5h-79.7zM1099.5 1594.6h79.7v10.5h-79.7zM1099.5 1615.6h79.7v10.5h-79.7zM1099.5 1730.8h79.7v10.5h-79.7zM1099.5 1741.3h79.7v10.5h-79.7zM1099.5 1793.7h79.7v10.5h-79.7zM1099.5 1835.6h79.7v10.5h-79.7zM1099.5 2160.4h79.7v10.5h-79.7zM1099.5 2349h79.7v10.5h-79.7zM1099.5 2359.5h79.7v10.5h-79.7zM1099.5 2432.9h79.7v10.5h-79.7zM1099.5 2548.1h79.7v10.5h-79.7zM1191.3 787.8h80.3v10.5h-80.3zM1191.3 850.7h80.3v10.5h-80.3z"/>
<path fill="#FDFDFE" d="M1006.9 871.6h80v10.5h-80zM1006.9 2516.7h80v10.5h-80zM1006.9 2527.2h80v10.5h-80zM1006.9 2537.6h80v10.5h-80z"/>
<path fill="#F3E7E7" d="M1006.9 913.5h80v10.5h-80zM1006.9 1374.6h80v10.5h-80zM1006.9 1961.3h80v10.5h-80zM1006.9 2422.4h80v10.5h-80zM1099.5 672.6h79.7v10.5h-79.7zM1099.5 683h79.7v10.5h-79.7zM1099.5 766.9h79.7v10.5h-79.7zM1099.5 871.6h79.7v10.5h-79.7zM1099.5 1259.3h79.7v10.5h-79.7zM1099.5 1542.2h79.7v10.5h-79.7zM1099.5 1584.1h79.7v10.5h-79.7zM1099.5 1626.1h79.7v10.5h-79.7zM1099.5 1647h79.7v10.5h-79.7zM1099.5 1657.5h79.7v10.5h-79.7zM1099.5 1678.4h79.7v10.5h-79.7zM1099.5 1909h79.7v10.5h-79.7zM1099.5 2338.6h79.7v10.5h-79.7zM1099.5 2506.2h79.7v10.5h-79.7zM1099.5 2527.2h79.7v10.5h-79.7zM1191.3 1374.6h80.3v10.5h-80.3z"/>
<path fill="#FDFBFB" d="M1006.9 945h80v10.5h-80zM1006.9 2579.6h80v10.5h-80z"/>
<path fill="#E3C9CA" d="M1006.9 1007.9h80v10.5h-80zM1006.9 1867h80v10.5h-80zM1006.9 2370h80v10.5h-80zM1099.5 1133.6h79.7v10.5h-79.7zM1099.5 1186h79.7v10.5h-79.7zM1099.5 1196.5h79.7v10.5h-79.7zM1099.5 1458.4h79.7v10.5h-79.7zM1099.5 1468.9h79.7v10.5h-79.7zM1099.5 1479.4h79.7v10.5h-79.7zM1099.5 1489.8h79.7v10.5h-79.7zM1099.5 1552.7h79.7v10.5h-79.7zM1099.5 1605.1h79.7v10.5h-79.7zM1099.5 1636.5h79.7v10.5h-79.7zM1099.5 1688.9h79.7v10.5h-79.7zM1099.5 1699.4h79.7v10.5h-79.7zM1099.5 1709.9h79.7v10.5h-79.7zM1099.5 1720.4h79.7v10.5h-79.7zM1099.5 1867h79.7v10.5h-79.7zM1099.5 1898.5h79.7v10.5h-79.7zM1099.5 2013.7h79.7v10.5h-79.7zM1099.5 2045.2h79.7v10.5h-79.7zM1099.5 2170.9h79.7v10.5h-79.7zM1099.5 2191.9h79.7v10.5h-79.7zM1099.5 2202.3h79.7v10.5h-79.7zM1099.5 2265.2h79.7v10.5h-79.7zM1099.5 2275.7h79.7v10.5h-79.7zM1099.5 2286.2h79.7v10.5h-79.7zM1099.5 2307.1h79.7v10.5h-79.7zM1099.5 2317.6h79.7v10.5h-79.7zM1099.5 2328.1h79.7v10.5h-79.7zM1099.5 2411.9h79.7v10.5h-79.7zM1099.5 2453.8h79.7v10.5h-79.7zM1099.5 2558.6h79.7v10.5h-79.7zM1099.5 2590h79.7v10.5h-79.7zM1191.3 798.3h80.3v10.5h-80.3z"/>
<path fill="#EEEEF9" d="M1006.9 1259.3h80v10.5h-80zM1006.9 1269.8h80v10.5h-80zM1006.9 1301.2h80v10.5h-80zM1006.9 1427h80v10.5h-80zM1006.9 1479.4h80v10.5h-80zM1006.9 2024.2h80v10.5h-80zM1006.9 2254.7h80v10.5h-80zM1099.5 2254.7h79.7v10.5h-79.7zM1191.3 1259.3h80.3v10.5h-80.3zM1191.3 1447.9h80.3v10.5h-80.3zM1191.3 2254.7h80.3v10.5h-80.3z"/>
<path fill="#E1E1F4" d="M1006.9 1447.9h80v10.5h-80zM1006.9 2055.7h80v10.5h-80zM1099.5 662.1h79.7v10.5h-79.7zM1099.5 1762.3h79.7v10.5h-79.7z"/>
<path fill="#DDBCBD" d="M1006.9 1542.2h80v10.5h-80zM1006.9 2611h80v10.5h-80zM1099.5 693.5h79.7v10.5h-79.7zM1099.5 704h79.7v10.5h-79.7zM1099.5 714.5h79.7v10.5h-79.7zM1099.5 1238.4h79.7v10.5h-79.7zM1099.5 1332.7h79.7v10.5h-79.7zM1099.5 1364.1h79.7v10.5h-79.7zM1099.5 1385.1h79.7v10.5h-79.7zM1099.5 1563.2h79.7v10.5h-79.7zM1099.5 2055.7h79.7v10.5h-79.7zM1099.5 2181.4h79.7v10.5h-79.7zM1099.5 2212.8h79.7v10.5h-79.7zM1099.5 2233.8h79.7v10.5h-79.7zM1099.5 2443.3h79.7v10.5h-79.7zM1099.5 2485.2h79.7v10.5h-79.7z"/>
<path fill="#D7AFB0" d="M1006.9 1668h80v10.5h-80zM1099.5 798.3h79.7v10.5h-79.7zM1099.5 840.2h79.7v10.5h-79.7zM1099.5 861.2h79.7v10.5h-79.7zM1099.5 882.1h79.7v10.5h-79.7zM1099.5 924h79.7v10.5h-79.7zM1099.5 934.5h79.7v10.5h-79.7zM1099.5 976.4h79.7v10.5h-79.7zM1099.5 1248.8h79.7v10.5h-79.7zM1099.5 1322.2h79.7v10.5h-79.7zM1099.5 1353.6h79.7v10.5h-79.7zM1099.5 1416.5h79.7v10.5h-79.7zM1099.5 1751.8h79.7v10.5h-79.7zM1099.5 1804.2h79.7v10.5h-79.7zM1099.5 1877.5h79.7v10.5h-79.7zM1099.5 2003.3h79.7v10.5h-79.7zM1099.5 2066.1h79.7v10.5h-79.7zM1099.5 2380.5h79.7v10.5h-79.7zM1099.5 2495.7h79.7v10.5h-79.7zM1099.5 2516.7h79.7v10.5h-79.7zM1099.5 2569.1h79.7v10.5h-79.7zM1099.5 2600.5h79.7v10.5h-79.7z"/>
<path fill="#D1D1EE" d="M1006.9 1909h80v10.5h-80z"/>
<path fill="#ACACE0" d="M1099.5 651.6h79.7v10.5h-79.7z"/>
<path fill="#9E4043" d="M1099.5 787.8h79.7v10.5h-79.7zM1099.5 913.5h79.7v10.5h-79.7zM1099.5 1081.2h79.7v10.5h-79.7zM1099.5 1290.8h79.7v10.5h-79.7z"/>
<path fill="#B16567" d="M1099.5 808.8h79.7v10.5h-79.7zM1099.5 1018.3h79.7v10.5h-79.7zM1099.5 1028.8h79.7v10.5h-79.7zM1099.5 1217.4h79.7v10.5h-79.7zM1099.5 1280.3h79.7v10.5h-79.7zM1099.5 1919.4h79.7v10.5h-79.7zM1099.5 1929.9h79.7v10.5h-79.7zM1099.5 2118.5h79.7v10.5h-79.7zM1099.5 2244.3h79.7v10.5h-79.7z"/>
<path fill="#B77173" d="M1099.5 819.2h79.7v10.5h-79.7zM1099.5 850.7h79.7v10.5h-79.7zM1099.5 965.9h79.7v10.5h-79.7zM1099.5 1165h79.7v10.5h-79.7zM1099.5 1269.8h79.7v10.5h-79.7zM1099.5 1311.7h79.7v10.5h-79.7zM1099.5 1772.7h79.7v10.5h-79.7zM1099.5 2611h79.7v10.5h-79.7z"/>
<path fill="#C3898C" d="M1099.5 892.6h79.7v10.5h-79.7zM1099.5 997.4h79.7v10.5h-79.7zM1099.5 1039.3h79.7v10.5h-79.7zM1099.5 1060.2h79.7v10.5h-79.7zM1099.5 1227.9h79.7v10.5h-79.7zM1099.5 1406h79.7v10.5h-79.7zM1099.5 2034.7h79.7v10.5h-79.7zM1099.5 2087.1h79.7v10.5h-79.7zM1099.5 2129h79.7v10.5h-79.7zM1099.5 2390.9h79.7v10.5h-79.7zM1099.5 2401.4h79.7v10.5h-79.7zM1099.5 2422.4h79.7v10.5h-79.7zM1099.5 2579.6h79.7v10.5h-79.7z"/>
<path fill="#D0A2A4" d="M1099.5 903.1h79.7v10.5h-79.7zM1099.5 1144.1h79.7v10.5h-79.7zM1099.5 1154.5h79.7v10.5h-79.7zM1099.5 1846.1h79.7v10.5h-79.7zM1099.5 1950.9h79.7v10.5h-79.7zM1099.5 1961.3h79.7v10.5h-79.7zM1099.5 2097.6h79.7v10.5h-79.7zM1099.5 2464.3h79.7v10.5h-79.7zM1099.5 2474.8h79.7v10.5h-79.7z"/>
<path fill="#BD7D7F" d="M1099.5 945h79.7v10.5h-79.7zM1099.5 1102.2h79.7v10.5h-79.7zM1099.5 1112.6h79.7v10.5h-79.7zM1099.5 1175.5h79.7v10.5h-79.7zM1099.5 1343.1h79.7v10.5h-79.7zM1099.5 1374.6h79.7v10.5h-79.7zM1099.5 1395.5h79.7v10.5h-79.7zM1099.5 1510.8h79.7v10.5h-79.7zM1099.5 1521.3h79.7v10.5h-79.7zM1099.5 1814.7h79.7v10.5h-79.7zM1099.5 1940.4h79.7v10.5h-79.7zM1099.5 1992.8h79.7v10.5h-79.7z"/>
<path fill="#8C1C20" d="M1099.5 986.9h79.7v10.5h-79.7z"/>
<path fill="#808080" d="M1099.5 1007.9h79.7v10.5h-79.7zM1099.5 1447.9h79.7v10.5h-79.7zM1099.5 2150h79.7v10.5h-79.7z"/>
<path fill="#CA9698" d="M1099.5 1049.8h79.7v10.5h-79.7zM1099.5 1091.7h79.7v10.5h-79.7zM1099.5 1123.1h79.7v10.5h-79.7zM1099.5 1206.9h79.7v10.5h-79.7zM1099.5 1427h79.7v10.5h-79.7zM1099.5 1437.5h79.7v10.5h-79.7zM1099.5 1825.1h79.7v10.5h-79.7zM1099.5 1888h79.7v10.5h-79.7zM1099.5 2024.2h79.7v10.5h-79.7zM1099.5 2108h79.7v10.5h-79.7zM1099.5 2296.6h79.7v10.5h-79.7zM1099.5 2370h79.7v10.5h-79.7z"/>
<path fill="#AB585B" d="M1099.5 1500.3h79.7v10.5h-79.7zM1099.5 1982.3h79.7v10.5h-79.7zM1099.5 2139.5h79.7v10.5h-79.7zM1099.5 2537.6h79.7v10.5h-79.7z"/>
<path fill="none" stroke="#000" stroke-opacity="0.2" stroke-width="0.8" d="M1006.9 651.6H1086.9M1006.9 662.1H1086.9M1006.9 672.6H1086.9M1006.9 683H1086.9M1006.9 693.5H1086.9M1006.9 704H1086.9M1006.9 714.5H1086.9M1006.9 724.9H1086.9M1006.9 735.4H1086.9M1006.9 745.9H1086.9M1006.9 756.4H1086.9M1006.9 766.9H1086.9M1006.9 777.3H1086.9M1006.9 787.8H1086.9M1006.9 798.3H1086.9M1006.9 808.8H1086.9M1006.9 819.2H1086.9M1006.9 829.7H1086.9M1006.9 840.2H1086.9M1006.9 850.7H1086.9M1006.9 861.2H1086.9M1006.9 871.6H1086.9M1006.9 882.1H1086.9M1006.9 892.6H1086.9M1006.9 903.1H1086.9M1006.9 913.5H1086.9M1006.9 924H1086.9M1006.9 934.5H1086.9M1006.9 945H1086.9M1006.9 955.5H1086.9M1006.9 965.9H1086.9M1006.9 976.4H1086.9M1006.9 986.9H1086.9M1006.9 997.4H1086.9M1006.9 1007.9H1086.9M1006.9 1018.3H1086.9M1006.9 1028.8H1086.9M1006.9 1039.3H1086.9M1006.9 1049.8H1086.9M1006.9 1060.2H1086.9M1006.9 1070.7H1086.9M1006.9 1081.2H1086.9M1006.9 1091.7H1086.9M1006.9 1102.2H1086.9M1006.9 1112.6H1086.9M1006.9 1123.1H1086.9M1006.9 1133.6H1086.9M1006.9 1144.1H1086.9M1006.9 1154.5H1086.9M1006.9 1165H1086.9M1006.9 1175.5H1086.9M1006.9 1186H1086.9M1006.9 1196.5H1086.9M1006.9 1206.9H1086.9M1006.9 1217.4H1086.9M1006.9 1227.9H1086.9M1006.9 1238.4H1086.9M1006.9 1248.8H1086.9M1006.9 1259.3H1086.9M1006.9 1269.8H1086.9M1006.9 1280.3H1086.9M1006.9 1290.8H1086.9M1006.9 1301.2H1086.9M1006.9 1311.7H1086.9M1006.9 1322.2H1086.9M1006.9 1332.7H1086.9M1006.9 1343.1H1086.9M1006.9 1353.6H1086.9M1006.9 1364.1H1086.9M1006.9 1374.6H1086.9M1006.9 1385.1H1086.9M1006.9 1395.5H1086.9M1006.9 1406H1086.9M1006.9 1416.5H1086.9M1006.9 1427H1086.9M1006.9 1437.5H1086.9M1006.9 1447.9H1086.9M1006.9 1458.4H1086.9M1006.9 1468.9H1086.9M1006.9 1479.4H1086.9M1006.9 1489.8H1086.9M1006.9 1500.3H1086.9M1006.9 1510.8H1086.9M1006.9 1521.3H1086.9M1006.9 1531.8H1086.9M1006.9 1542.2H1086.9M1006.9 1552.7H1086.9M1006.9 1563.2H1086.9M1006.9 1573.7H1086.9M1006.9 1584.1H1086.9M1006.9 1594.6H1086.9M1006.9 1605.1H1086.9M1006.9 1615.6H1086.9M1006.9 1626.1H1086.9M1006.9 1636.5H1086.9M1006.9 1647H1086.9M1006.9 1657.5H1086.9M1006.9 1668H1086.9M1006.9 1678.4H1086.9M1006.9 1688.9H1086.9M1006.9 1699.4H1086.9M1006.9 1709.9H1086.9M1006.9 1720.4H1086.9M1006.9 1730.8H1086.9M1006.9 1741.3H1086.9M1006.9 1751.8H1086.9M1006.9 1762.3H1086.9M1006.9 1772.7H1086.9M1006.9 1783.2H1086.9M1006.9 1793.7H1086.9M1006.9 1804.2H1086.9M1006.9 1814.7H1086.9M1006.9 1825.1H1086.9M1006.9 1835.6H1086.9M1006.9 1846.1H1086.9M1006.9 1856.6H1086.9M1006.9 1867H1086.9M1006.9 1877.5H1086.9M1006.9 1888H1086.9M1006.9 1898.5H1086.9M1006.9 1909H1086.9M1006.9 1919.4H1086.9M1006.9 1929.9H1086.9M1006.9 1940.4H1086.9M1006.9 1950.9H1086.9M1006.9 1961.3H1086.9M1006.9 1971.8H1086.9M1006.9 1982.3H1086.9M1006.9 1992.8H1086.9M1006.9 2003.3H1086.9M1006.9 2013.7H1086.9M1006.9 2024.2H1086.9M1006.9 2034.7H1086.9M1006.9 2045.2H1086.9M1006.9 2055.7H1086.9M1006.9 2066.1H1086.9M1006.9 2076.6H1086.9M1006.9 2087.1H1086.9M1006.9 2097.6H1086.9M1006.9 2108H1086.9M1006.9 2118.5H1086.9M1006.9 2129H1086.9M1006.9 2139.5H1086.9M1006.9 2150H1086.9M1006.9 2160.4H1086.9M1006.9 2170.9H1086.9M1006.9 2181.4H1086.9M1006.9 2191.9H1086.9M1006.9 2202.3H1086.9M1006.9 2212.8H1086.9M1006.9 2223.3H1086.9M1006.9 2233.8H1086.9M1006.9 2244.3H1086.9M1006.9 2254.7H1086.9M1006.9 2265.2H1086.9M1006.9 2275.7H1086.9M1006.9 2286.2H1086.9M1006.9 2296.6H1086.9M1006.9 2307.1H1086.9M1006.9 2317.6H1086.9M1006.9 2328.1H1086.9M1006.9 2338.6H1086.9M1006.9 2349H1086.9M1006.9 2359.5H1086.9M1006.9 2370H1086.9M1006.9 2380.5H1086.9M1006.9 2390.9H1086.9M1006.9 2401.4H1086.9M1006.9 2411.9H1086.9M1006.9 2422.4H1086.9M1006.9 2432.9H1086.9M1006.9 2443.3H1086.9M1006.9 2453.8H1086.9M1006.9 2464.3H1086.9M1006.9 2474.8H1086.9M1006.9 2485.2H1086.9M1006.9 2495.7H1086.9M1006.9 2506.2H1086.9M1006.9 2516.7H1086.9M1006.9 2527.2H1086.9M1006.9 2537.6H1086.9M1006.9 2548.1H1086.9M1006.9 2558.6H1086.9M1006.9 2569.1H1086.9M1006.9 2579.6H1086.9M1006.9 2590H1086.9M1006.9 2600.5H1086.9M1006.9 2611H1086.9M1006.9 2621.5H1086.9M1006.9 651.6V2621.5M1086.9 651.6V2621.5M1099.5 651.6H1179.2M1099.5 662.1H1179.2M1099.5 672.6H1179.2M1099.5 683H1179.2M1099.5 693.5H1179.2M1099.5 704H1179.2M1099.5 714.5H1179.2M1099.5 724.9H1179.2M1099.5 735.4H1179.2M1099.5 745.9H1179.2M1099.5 756.4H1179.2M1099.5 766.9H1179.2M1099.5 777.3H1179.2M1099.5 787.8H1179.2M1099.5 798.3H1179.2M1099.5 808.8H1179.2M1099.5 819.2H1179.2M1099.5 829.7H1179.2M1099.5 840.2H1179.2M1099.5 850.7H1179.2M1099.5 861.2H1179.2M1099.5 871.6H1179.2M1099.5 882.1H1179.2M1099.5 892.6H1179.2M1099.5 903.1H1179.2M1099.5 913.5H1179.2M1099.5 924H1179.2M1099.5 934.5H1179.2M1099.5 945H1179.2M1099.5 955.5H1179.2M1099.5 965.9H1179.2M1099.5 976.4H1179.2M1099.5 986.9H1179.2M1099.5 997.4H1179.2M1099.5 1007.9H1179.2M1099.5 1018.3H1179.2M1099.5 1028.8H1179.2M1099.5 1039.3H1179.2M1099.5 1049.8H1179.2M1099.5 1060.2H1179.2M1099.5 1070.7H1179.2M1099.5 1081.2H1179.2M1099.5 1091.7H1179.2M1099.5 1102.2H1179.2M1099.5 1112.6H1179.2M1099.5 1123.1H1179.2M1099.5 1133.6H1179.2M1099.5 1144.1H1179.2M1099.5 1154.5H1179.2M1099.5 1165H1179.2M1099.5 1175.5H1179.2M1099.5 1186H1179.2M1099.5 1196.5H1179.2M1099.5 1206.9H1179.2M1099.5 1217.4H1179.2M1099.5 1227.9H1179.2M1099.5 1238.4H1179.2M1099.5 1248.8H1179.2M1099.5 1259.3H1179.2M1099.5 1269.8H1179.2M1099.5 1280.3H1179.2M1099.5 1290.8H1179.2M1099.5 1301.2H1179.2M1099.5 1311.7H1179.2M1099.5 1322.2H1179.2M1099.5 1332.7H1179.2M1099.5 1343.1H1179.2M1099.5 1353.6H1179.2M1099.5 1364.1H1179.2M1099.5 1374.6H1179.2M1099.5 1385.1H1179.2M1099.5 1395.5H1179.2M1099.5 1406H1179.2M1099.5 1416.5H1179.2M1099.5 1427H1179.2M1099.5 1437.5H1179.2M1099.5 1447.9H1179.2M1099.5 1458.4H1179.2M1099.5 1468.9H1179.2M1099.5 1479.4H1179.2M1099.5 1489.8H1179.2M1099.5 1500.3H1179.2M1099.5 1510.8H1179.2M1099.5 1521.3H1179.2M1099.5 1531.8H1179.2M1099.5 1542.2H1179.2M1099.5 1552.7H1179.2M1099.5 1563.2H1179.2M1099.5 1573.7H1179.2M1099.5 1584.1H1179.2M1099.5 1594.6H1179.2M1099.5 1605.1H1179.2M1099.5 1615.6H1179.2M1099.5 1626.1H1179.2M1099.5 1636.5H1179.2M1099.5 1647H1179.2M1099.5 1657.5H1179.2M1099.5 1668H1179.2M1099.5 1678.4H1179.2M1099.5 1688.9H1179.2M1099.5 1699.4H1179.2M1099.5 1709.9H1179.2M1099.5 1720.4H1179.2M1099.5 1730.8H1179.2M1099.5 1741.3H1179.2M1099.5 1751.8H1179.2M1099.5 1762.3H1179.2M1099.5 1772.7H1179.2M1099.5 1783.2H1179.2M1099.5 1793.7H1179.2M1099.5 1804.2H1179.2M1099.5 1814.7H1179.2M1099.5 1825.1H1179.2M1099.5 1835.6H1179.2M1099.5 1846.1H1179.2M1099.5 1856.6H1179.2M1099.5 1867H1179.2M1099.5 1877.5H1179.2M1099.5 1888H1179.2M1099.5 1898.5H1179.2M1099.5 1909H1179.2M1099.5 1919.4H1179.2M1099.5 1929.9H1179.2M1099.5 1940.4H1179.2M1099.5 1950.9H1179.2M1099.5 1961.3H1179.2M1099.5 1971.8H1179.2M1099.5 1982.3H1179.2M1099.5 1992.8H1179.2M1099.5 2003.3H1179.2M1099.5 2013.7H1179.2M1099.5 2024.2H1179.2M1099.5 2034.7H1179.2M1099.5 2045.2H1179.2M1099.5 2055.7H1179.2M1099.5 2066.1H1179.2M1099.5 2076.6H1179.2M1099.5 2087.1H1179.2M1099.5 2097.6H1179.2M1099.5 2108H1179.2M1099.5 2118.5H1179.2M1099.5 2129H1179.2M1099.5 2139.5H1179.2M1099.5 2150H1179.2M1099.5 2160.4H1179.2M1099.5 2170.9H1179.2M1099.5 2181.4H1179.2M1099.5 2191.9H1179.2M1099.5 2202.3H1179.2M1099.5 2212.8H1179.2M1099.5 2223.3H1179.2M1099.5 2233.8H1179.2M1099.5 2244.3H1179.2M1099.5 2254.7H1179.2M1099.5 2265.2H1179.2M1099.5 2275.7H1179.2M1099.5 2286.2H1179.2M1099.5 2296.6H1179.2M1099.5 2307.1H1179.2M1099.5 2317.6H1179.2M1099.5 2328.1H1179.2M1099.5 2338.6H1179.2M1099.5 2349H1179.2M1099.5 2359.5H1179.2M1099.5 2370H1179.2M1099.5 2380.5H1179.2M1099.5 2390.9H1179.2M1099.5 2401.4H1179.2M1099.5 2411.9H1179.2M1099.5 2422.4H1179.2M1099.5 2432.9H1179.2M1099.5 2443.3H1179.2M1099.5 2453.8H1179.2M1099.5 2464.3H1179.2M1099.5 2474.8H1179.2M1099.5 2485.2H1179.2M1099.5 2495.7H1179.2M1099.5 2506.2H1179.2M1099.5 2516.7H1179.2M1099.5 2527.2H1179.2M1099.5 2537.6H1179.2M1099.5 2548.1H1179.2M1099.5 2558.6H1179.2M1099.5 2569.1H1179.2M1099.5 2579.6H1179.2M1099.5 2590H1179.2M1099.5 2600.5H1179.2M1099.5 2611H1179.2M1099.5 2621.5H1179.2M1099.5 651.6V2621.5M1179.2 651.6V2621.5M1191.3 651.6H1271.6M1191.3 662.1H1271.6M1191.3 672.6H1271.6M1191.3 683H1271.6M1191.3 693.5H1271.6M1191.3 704H1271.6M1191.3 714.5H1271.6M1191.3 724.9H1271.6M1191.3 735.4H1271.6M1191.3 745.9H1271.6M1191.3 756.4H1271.6M1191.3 766.9H1271.6M1191.3 777.3H1271.6M1191.3 787.8H1271.6M1191.3 798.3H1271.6M1191.3 808.8H1271.6M1191.3 819.2H1271.6M1191.3 829.7H1271.6M1191.3 840.2H1271.6M1191.3 850.7H1271.6M1191.3 861.2H1271.6M1191.3 871.6H1271.6M1191.3 882.1H1271.6M1191.3 892.6H1271.6M1191.3 903.1H1271.6M1191.3 913.5H1271.6M1191.3 924H1271.6M1191.3 934.5H1271.6M1191.3 945H1271.6M1191.3 955.5H1271.6M1191.3 965.9H1271.6M1191.3 976.4H1271.6M1191.3 986.9H1271.6M1191.3 997.4H1271.6M1191.3 1007.9H1271.6M1191.3 1018.3H1271.6M1191.3 1028.8H1271.6M1191.3 1039.3H1271.6M1191.3 1049.8H1271.6M1191.3 1060.2H1271.6M1191.3 1070.7H1271.6M1191.3 1081.2H1271.6M1191.3 1091.7H1271.6M1191.3 1102.2H1271.6M1191.3 1112.6H1271.6M1191.3 1123.1H1271.6M1191.3 1133.6H1271.6M1191.3 1144.1H1271.6M1191.3 1154.5H1271.6M1191.3 1165H1271.6M1191.3 1175.5H1271.6M1191.3 1186H1271.6M1191.3 1196.5H1271.6M1191.3 1206.9H1271.6M1191.3 1217.4H1271.6M1191.3 1227.9H1271.6M1191.3 1238.4H1271.6M1191.3 1248.8H1271.6M1191.3 1259.3H1271.6M1191.3 1269.8H1271.6M1191.3 1280.3H1271.6M1191.3 1290.8H1271.6M1191.3 1301.2H1271.6M1191.3 1311.7H1271.6M1191.3 1322.2H1271.6M1191.3 1332.7H1271.6M1191.3 1343.1H1271.6M1191.3 1353.6H1271.6M1191.3 1364.1H1271.6M1191.3 1374.6H1271.6M1191.3 1385.1H1271.6M1191.3 1395.5H1271.6M1191.3 1406H1271.6M1191.3 1416.5H1271.6M1191.3 1427H1271.6M1191.3 1437.5H1271.6M1191.3 1447.9H1271.6M1191.3 1458.4H1271.6M1191.3 1468.9H1271.6M1191.3 1479.4H1271.6M1191.3 1489.8H1271.6M1191.3 1500.3H1271.6M1191.3 1510.8H1271.6M1191.3 1521.3H1271.6M1191.3 1531.8H1271.6M1191.3 1542.2H1271.6M1191.3 1552.7H1271.6M1191.3 1563.2H1271.6M1191.3 1573.7H1271.6M1191.3 1584.1H1271.6M1191.3 1594.6H1271.6M1191.3 1605.1H1271.6M1191.3 1615.6H1271.6M1191.3 1626.1H1271.6M1191.3 1636.5H1271.6M1191.3 1647H1271.6M1191.3 1657.5H1271.6M1191.3 1668H1271.6M1191.3 1678.4H1271.6M1191.3 1688.9H1271.6M1191.3 1699.4H1271.6M1191.3 1709.9H1271.6M1191.3 1720.4H1271.6M1191.3 1730.8H1271.6M1191.3 1741.3H1271.6M1191.3 1751.8H1271.6M1191.3 1762.3H1271.6M1191.3 1772.7H1271.6M1191.3 1783.2H1271.6M1191.3 1793.7H1271.6M1191.3 1804.2H1271.6M1191.3 1814.7H1271.6M1191.3 1825.1H1271.6M1191.3 1835.6H1271.6M1191.3 1846.1H1271.6M1191.3 1856.6H1271.6M1191.3 1867H1271.6M1191.3 1877.5H1271.6M1191.3 1888H1271.6M1191.3 1898.5H1271.6M1191.3 1909H1271.6M1191.3 1919.4H1271.6M1191.3 1929.9H1271.6M1191.3 1940.4H1271.6M1191.3 1950.9H1271.6M1191.3 1961.3H1271.6M1191.3 1971.8H1271.6M1191.3 1982.3H1271.6M1191.3 1992.8H1271.6M1191.3 2003.3H1271.6M1191.3 2013.7H1271.6M1191.3 2024.2H1271.6M1191.3 2034.7H1271.6M1191.3 2045.2H1271.6M1191.3 2055.7H1271.6M1191.3 2066.1H1271.6M1191.3 2076.6H1271.6M1191.3 2087.1H1271.6M1191.3 2097.6H1271.6M1191.3 2108H1271.6M1191.3 2118.5H1271.6M1191.3 2129H1271.6M1191.3 2139.5H1271.6M1191.3 2150H1271.6M1191.3 2160.4H1271.6M1191.3 2170.9H1271.6M1191.3 2181.4H1271.6M1191.3 2191.9H1271.6M1191.3 2202.3H1271.6M1191.3 2212.8H1271.6M1191.3 2223.3H1271.6M1191.3 2233.8H1271.6M1191.3 2244.3H1271.6M1191.3 2254.7H1271.6M1191.3 2265.2H1271.6M1191.3 2275.7H1271.6M1191.3 2286.2H1271.6M1191.3 2296.6H1271.6M1191.3 2307.1H1271.6M1191.3 2317.6H1271.6M1191.3 2328.1H1271.6M1191.3 2338.6H1271.6M1191.3 2349H1271.6M1191.3 2359.5H1271.6M1191.3 2370H1271.6M1191.3 2380.5H1271.6M1191.3 2390.9H1271.6M1191.3 2401.4H1271.6M1191.3 2411.9H1271.6M1191.3 2422.4H1271.6M1191.3 2432.9H1271.6M1191.3 2443.3H1271.6M1191.3 2453.8H1271.6M1191.3 2464.3H1271.6M1191.3 2474.8H1271.6M1191.3 2485.2H1271.6M1191.3 2495.7H1271.6M1191.3 2506.2H1271.6M1191.3 2516.7H1271.6M1191.3 2527.2H1271.6M1191.3 2537.6H1271.6M1191.3 2548.1H1271.6M1191.3 2558.6H1271.6M1191.3 2569.1H1271.6M1191.3 2579.6H1271.6M1191.3 2590H1271.6M1191.3 2600.5H1271.6M1191.3 2611H1271.6M1191.3 2621.5H1271.6M1191.3 651.6V2621.5M1271.6 651.6V2621.5"/>
<path stroke="#000" stroke-width="2.4" stroke-linecap="square" d="M1046.9 950.2h0M1046.9 992.1h0M1046.9 1348.4h0M1046.9 1736.1h0M1139.3 698.8h0M1139.3 709.2h0M1139.3 719.7h0M1139.3 740.7h0M1139.3 772.1h0M1139.3 782.6h0M1139.3 793.1h0M1139.3 803.5h0M1139.3 814h0M1139.3 824.5h0M1139.3 835h0M1139.3 855.9h0M1139.3 866.4h0M1139.3 876.9h0M1139.3 887.4h0M1139.3 897.8h0M1139.3 908.3h0M1139.3 918.8h0M1139.3 939.7h0M1139.3 950.2h0M1139.3 971.2h0M1139.3 992.1h0M1139.3 1002.6h0M1139.3 1023.6h0M1139.3 1034h0M1139.3 1044.5h0M1139.3 1055h0M1139.3 1065.5h0M1139.3 1076h0M1139.3 1086.4h0M1139.3 1096.9h0M1139.3 1107.4h0M1139.3 1117.9h0M1139.3 1128.3h0M1139.3 1138.8h0M1139.3 1170.3h0M1139.3 1180.7h0M1139.3 1191.2h0M1139.3 1201.7h0M1139.3 1222.7h0M1139.3 1233.1h0M1139.3 1243.6h0M1139.3 1254.1h0M1139.3 1275h0M1139.3 1285.5h0M1139.3 1296h0M1139.3 1317h0M1139.3 1348.4h0M1139.3 1358.9h0M1139.3 1369.3h0M1139.3 1379.8h0M1139.3 1400.8h0M1139.3 1411.3h0M1139.3 1421.7h0M1139.3 1442.7h0M1139.3 1463.6h0M1139.3 1474.1h0M1139.3 1495.1h0M1139.3 1505.6h0M1139.3 1526.5h0M1139.3 1537h0M1139.3 1568.4h0M1139.3 1578.9h0M1139.3 1589.4h0M1139.3 1599.9h0M1139.3 1610.3h0M1139.3 1620.8h0M1139.3 1631.3h0M1139.3 1641.8h0M1139.3 1662.7h0M1139.3 1694.2h0M1139.3 1704.6h0M1139.3 1715.1h0M1139.3 1725.6h0M1139.3 1736.1h0M1139.3 1778h0M1139.3 1798.9h0M1139.3 1819.9h0M1139.3 1830.4h0M1139.3 1840.9h0M1139.3 1851.3h0M1139.3 1903.7h0M1139.3 1924.7h0M1139.3 1935.2h0M1139.3 1945.6h0M1139.3 1956.1h0M1139.3 1966.6h0M1139.3 1987.5h0M1139.3 2019h0M1139.3 2039.9h0M1139.3 2071.4h0M1139.3 2081.8h0M1139.3 2092.3h0M1139.3 2102.8h0M1139.3 2113.3h0M1139.3 2123.8h0M1139.3 2134.2h0M1139.3 2144.7h0M1139.3 2165.7h0M1139.3 2176.1h0M1139.3 2186.6h0M1139.3 2197.1h0M1139.3 2218.1h0M1139.3 2239h0M1139.3 2249.5h0M1139.3 2270.5h0M1139.3 2280.9h0M1139.3 2301.9h0M1139.3 2312.4h0M1139.3 2322.8h0M1139.3 2333.3h0M1139.3 2364.8h0M1139.3 2385.7h0M1139.3 2396.2h0M1139.3 2406.7h0M1139.3 2427.6h0M1139.3 2438.1h0M1139.3 2448.6h0M1139.3 2469.5h0M1139.3 2480h0M1139.3 2490.5h0M1139.3 2501h0M1139.3 2511.4h0M1139.3 2521.9h0M1139.3 2532.4h0M1139.3 2542.9h0M1139.3 2553.4h0M1139.3 2563.8h0M1139.3 2584.8h0M1139.3 2595.3h0M1139.3 2605.7h0M1139.3 2616.2h0M1231.4 698.8h0M1231.4 709.2h0M1231.4 719.7h0M1231.4 740.7h0M1231.4 751.1h0M1231.4 772.1h0M1231.4 782.6h0M1231.4 793.1h0M1231.4 803.5h0M1231.4 814h0M1231.4 824.5h0M1231.4 835h0M1231.4 855.9h0M1231.4 866.4h0M1231.4 876.9h0M1231.4 887.4h0M1231.4 897.8h0M1231.4 908.3h0M1231.4 918.8h0M1231.4 929.3h0M1231.4 939.7h0M1231.4 950.2h0M1231.4 960.7h0M1231.4 971.2h0M1231.4 992.1h0M1231.4 1034h0M1231.4 1044.5h0M1231.4 1055h0M1231.4 1065.5h0M1231.4 1076h0M1231.4 1086.4h0M1231.4 1096.9h0M1231.4 1107.4h0M1231.4 1117.9h0M1231.4 1128.3h0M1231.4 1159.8h0M1231.4 1170.3h0M1231.4 1191.2h0M1231.4 1243.6h0M1231.4 1254.1h0M1231.4 1275h0M1231.4 1296h0M1231.4 1317h0M1231.4 1337.9h0M1231.4 1348.4h0M1231.4 1358.9h0M1231.4 1369.3h0M1231.4 1400.8h0M1231.4 1411.3h0M1231.4 1421.7h0M1231.4 1442.7h0M1231.4 1453.2h0M1231.4 1474.1h0M1231.4 1495.1h0M1231.4 1505.6h0M1231.4 1526.5h0M1231.4 1537h0M1231.4 1568.4h0M1231.4 1578.9h0M1231.4 1589.4h0M1231.4 1599.9h0M1231.4 1620.8h0M1231.4 1631.3h0M1231.4 1641.8h0M1231.4 1652.2h0M1231.4 1662.7h0M1231.4 1673.2h0M1231.4 1683.7h0M1231.4 1694.2h0M1231.4 1704.6h0M1231.4 1715.1h0M1231.4 1725.6h0M1231.4 1778h0M1231.4 1788.5h0M1231.4 1798.9h0M1231.4 1830.4h0M1231.4 1840.9h0M1231.4 1851.3h0M1231.4 1903.7h0M1231.4 1924.7h0M1231.4 1935.2h0M1231.4 1945.6h0M1231.4 1956.1h0M1231.4 1966.6h0M1231.4 2008.5h0M1231.4 2019h0M1231.4 2039.9h0M1231.4 2050.4h0M1231.4 2071.4h0M1231.4 2081.8h0M1231.4 2092.3h0M1231.4 2102.8h0M1231.4 2113.3h0M1231.4 2123.8h0M1231.4 2134.2h0M1231.4 2144.7h0M1231.4 2165.7h0M1231.4 2176.1h0M1231.4 2186.6h0M1231.4 2197.1h0M1231.4 2207.6h0M1231.4 2218.1h0M1231.4 2239h0M1231.4 2249.5h0M1231.4 2270.5h0M1231.4 2280.9h0M1231.4 2291.4h0M1231.4 2312.4h0M1231.4 2322.8h0M1231.4 2333.3h0M1231.4 2354.3h0M1231.4 2364.8h0M1231.4 2375.2h0M1231.4 2385.7h0M1231.4 2396.2h0M1231.4 2406.7h0M1231.4 2417.1h0M1231.4 2438.1h0M1231.4 2448.6h0M1231.4 2459.1h0M1231.4 2469.5h0M1231.4 2480h0M1231.4 2490.5h0M1231.4 2501h0M1231.4 2511.4h0M1231.4 2521.9h0M1231.4 2532.4h0M1231.4 2542.9h0M1231.4 2553.4h0M1231.4 2563.8h0M1231.4 2574.3h0M1231.4 2584.8h0M1231.4 2595.3h0M1231.4 2605.7h0"/>
<rect x="1003.3" y="649.3" width="87.2" height="1974.2" fill="none" stroke="#555" stroke-width="1.3"/>
<rect x="1095.6" y="649.3" width="86.7" height="1974.2" fill="none" stroke="#555" stroke-width="1.3"/>
<rect x="1187.7" y="649.3" width="87.2" height="1974.2" fill="none" stroke="#555" stroke-width="1.3"/>
<g font-size="12" fill="#111" stroke="#111" stroke-width="0.22" text-anchor="end" transform="translate(993.4,0) scale(1.0,1)">
<text x="0" y="660.4">Gm15247</text>
<text x="0" y="670.8">G530011O06Rik</text>
<text x="0" y="681.3">Mid1</text>
<text x="0" y="691.8">BC022960</text>
<text x="0" y="702.3">Hccs</text>
<text x="0" y="712.7">Msl3</text>
<text x="0" y="723.2">Tmsb4x</text>
<text x="0" y="733.7">Tceanc</text>
<text x="0" y="744.2">Rab9</text>
<text x="0" y="754.7">Trappc2</text>
<text x="0" y="765.1">Ofd1</text>
<text x="0" y="775.6">Gpm6b</text>
<text x="0" y="786.1">Gemin8</text>
<text x="0" y="796.6">Piga</text>
<text x="0" y="807.1">Figf</text>
<text x="0" y="817.5">Siah1b</text>
<text x="0" y="828">Car5b</text>
<text x="0" y="838.5">Zrsr2</text>
<text x="0" y="849">Ap1s2</text>
<text x="0" y="859.4">S100g</text>
<text x="0" y="869.9">Ctps2</text>
<text x="0" y="880.4">Syap1</text>
<text x="0" y="890.9">Txlng</text>
<text x="0" y="901.4">Rbbp7</text>
<text x="0" y="911.8">Rai2</text>
<text x="0" y="922.3">Phka2</text>
<text x="0" y="932.8">Map3k15</text>
<text x="0" y="943.3">A830080D01Rik</text>
<text x="0" y="953.7">Eif1ax</text>
<text x="0" y="964.2">Mbtps2</text>
<text x="0" y="974.7">Sms</text>
<text x="0" y="985.2">Gm15163</text>
<text x="0" y="995.7">Prdx4</text>
<text x="0" y="1006.1">2210013O21Rik</text>
<text x="0" y="1016.6">Klf8</text>
<text x="0" y="1027.1">9530051G07Rik</text>
<text x="0" y="1037.6">Mageh1</text>
<text x="0" y="1048">Gpr173</text>
<text x="0" y="1058.5">Tspyl2</text>
<text x="0" y="1069">Kantr</text>
<text x="0" y="1079.5">Kdm5c</text>
<text x="0" y="1090">Iqsec2</text>
<text x="0" y="1100.4">Smc1a</text>
<text x="0" y="1110.9">Ribc1</text>
<text x="0" y="1121.4">Hsd17b10</text>
<text x="0" y="1131.9">Huwe1</text>
<text x="0" y="1142.3">Phf8</text>
<text x="0" y="1152.8">3110067C02Rik</text>
<text x="0" y="1163.3">Tmem29</text>
<text x="0" y="1173.8">Alg13</text>
<text x="0" y="1184.3">Acsl4</text>
<text x="0" y="1194.7">Atg4a</text>
<text x="0" y="1205.2">Psmd10</text>
<text x="0" y="1215.7">Rbm41</text>
<text x="0" y="1226.2">BC065397</text>
<text x="0" y="1236.6">Morf4l2</text>
<text x="0" y="1247.1">Gprasp1</text>
<text x="0" y="1257.6">Armcx5</text>
<text x="0" y="1268.1">Tceal6</text>
<text x="0" y="1278.6">Hnrnph2</text>
<text x="0" y="1289">Trmt2b</text>
<text x="0" y="1299.5">Cstf2</text>
<text x="0" y="1310">Mdm4−ps</text>
<text x="0" y="1320.5">Chm</text>
<text x="0" y="1331">Atp7a</text>
<text x="0" y="1341.4">Cox7b</text>
<text x="0" y="1351.9">Magt1</text>
<text x="0" y="1362.4">Pbdc1</text>
<text x="0" y="1372.9">5530601H04Rik</text>
<text x="0" y="1383.3">RP23−423B1.6</text>
<text x="0" y="1393.8">Ftx</text>
<text x="0" y="1404.3">Jpx</text>
<text x="0" y="1414.8">Hdac8</text>
<text x="0" y="1425.3">Rps4x</text>
<text x="0" y="1435.7">Ercc6l</text>
<text x="0" y="1446.2">Taf1</text>
<text x="0" y="1456.7">Itgb1bp2</text>
<text x="0" y="1467.2">Nono</text>
<text x="0" y="1477.6">Igbp1</text>
<text x="0" y="1488.1">Awat2</text>
<text x="0" y="1498.6">Eda2r</text>
<text x="0" y="1509.1">Maged1</text>
<text x="0" y="1519.6">Gm14827</text>
<text x="0" y="1530">Apoo</text>
<text x="0" y="1540.5">Eif2s3x</text>
<text x="0" y="1551">Gm8822</text>
<text x="0" y="1561.5">Rps24−ps3</text>
<text x="0" y="1571.9">Vbp1</text>
<text x="0" y="1582.4">G6pdx</text>
<text x="0" y="1592.9">Ikbkg</text>
<text x="0" y="1603.4">Fam3a</text>
<text x="0" y="1613.9">Slc10a3</text>
<text x="0" y="1624.3">Ubl4</text>
<text x="0" y="1634.8">Lage3</text>
<text x="0" y="1645.3">Plxna3</text>
<text x="0" y="1655.8">Fam50a</text>
<text x="0" y="1666.2">Gdi1</text>
<text x="0" y="1676.7">Atp6ap1</text>
<text x="0" y="1687.2">Taz</text>
<text x="0" y="1697.7">Dnase1l1</text>
<text x="0" y="1708.2">Emd</text>
<text x="0" y="1718.6">Flna</text>
<text x="0" y="1729.1">Mecp2</text>
<text x="0" y="1739.6">Hcfc1</text>
<text x="0" y="1750.1">Naa10</text>
<text x="0" y="1760.5">Arhgap4</text>
<text x="0" y="1771">Gm14817</text>
<text x="0" y="1781.5">Pdzd4</text>
<text x="0" y="1792">Ssr4</text>
<text x="0" y="1802.5">Idh3g</text>
<text x="0" y="1812.9">Srpk3</text>
<text x="0" y="1823.4">Plxnb3</text>
<text x="0" y="1833.9">Abcd1</text>
<text x="0" y="1844.4">Bcap31</text>
<text x="0" y="1854.9">Slc6a8</text>
<text x="0" y="1865.3">Pnck</text>
<text x="0" y="1875.8">Bgn</text>
<text x="0" y="1886.3">Haus7</text>
<text x="0" y="1896.8">Zfp275</text>
<text x="0" y="1907.2">Fmr1</text>
<text x="0" y="1917.7">Gm7327</text>
<text x="0" y="1928.2">Rbmx</text>
<text x="0" y="1938.7">Htatsf1</text>
<text x="0" y="1949.2">Slc9a6</text>
<text x="0" y="1959.6">Mmgt1</text>
<text x="0" y="1970.1">Firre</text>
<text x="0" y="1980.6">Gm14719</text>
<text x="0" y="1991.1">Rbmx2</text>
<text x="0" y="2001.5">Slc25a14</text>
<text x="0" y="2012">Aifm1</text>
<text x="0" y="2022.5">Utp14a</text>
<text x="0" y="2033">Stag2</text>
<text x="0" y="2043.5">Xiap</text>
<text x="0" y="2053.9">Cul4b</text>
<text x="0" y="2064.4">Gm7598</text>
<text x="0" y="2074.9">Lamp2</text>
<text x="0" y="2085.4">Nkap</text>
<text x="0" y="2095.8">Upf3b</text>
<text x="0" y="2106.3">Akap17b</text>
<text x="0" y="2116.8">A230072C01Rik</text>
<text x="0" y="2127.3">Uxt</text>
<text x="0" y="2137.8">Elk1</text>
<text x="0" y="2148.2">Cfp</text>
<text x="0" y="2158.7">Syn1</text>
<text x="0" y="2169.2">Araf</text>
<text x="0" y="2179.7">Usp11</text>
<text x="0" y="2190.1">Cdk16</text>
<text x="0" y="2200.6">Uba1</text>
<text x="0" y="2211.1">Rbm10</text>
<text x="0" y="2221.6">Ndufb11</text>
<text x="0" y="2232.1">Gm14539</text>
<text x="0" y="2242.5">Kdm6a</text>
<text x="0" y="2253">Fundc1</text>
<text x="0" y="2263.5">Gm9434</text>
<text x="0" y="2274">Ddx3x</text>
<text x="0" y="2284.4">Usp9x</text>
<text x="0" y="2294.9">5730405O15Rik</text>
<text x="0" y="2305.4">Gm14634</text>
<text x="0" y="2315.9">Med14</text>
<text x="0" y="2326.4">1810030O07Rik</text>
<text x="0" y="2336.8">Atp6ap2</text>
<text x="0" y="2347.3">Bcor</text>
<text x="0" y="2357.8">Mid1ip1</text>
<text x="0" y="2368.3">Rpgr</text>
<text x="0" y="2378.8">Dynlt3</text>
<text x="0" y="2389.2">Ftsj1</text>
<text x="0" y="2399.7">Porcn</text>
<text x="0" y="2410.2">Ebp</text>
<text x="0" y="2420.7">Tbc1d25</text>
<text x="0" y="2431.1">Rbm3os</text>
<text x="0" y="2441.6">Rbm3</text>
<text x="0" y="2452.1">Wdr13</text>
<text x="0" y="2462.6">Suv39h1</text>
<text x="0" y="2473.1">Hdac6</text>
<text x="0" y="2483.5">Pcsk1n</text>
<text x="0" y="2494">Timm17b</text>
<text x="0" y="2504.5">Pqbp1</text>
<text x="0" y="2515">Slc35a2</text>
<text x="0" y="2525.4">Pim2</text>
<text x="0" y="2535.9">Otud5</text>
<text x="0" y="2546.4">Kcnd1</text>
<text x="0" y="2556.9">Gripap1</text>
<text x="0" y="2567.4">Tfe3</text>
<text x="0" y="2577.8">Ccdc120</text>
<text x="0" y="2588.3">Praf2</text>
<text x="0" y="2598.8">Wdr45</text>
<text x="0" y="2609.3">Gpkow</text>
<text x="0" y="2619.7">RP23−135F22.6</text>
</g>
<path stroke="#444" stroke-width="1.15" d="M997.9 656.8H1003.3M997.9 667.3H1003.3M997.9 677.8H1003.3M997.9 688.3H1003.3M997.9 698.8H1003.3M997.9 709.2H1003.3M997.9 719.7H1003.3M997.9 730.2H1003.3M997.9 740.7H1003.3M997.9 751.1H1003.3M997.9 761.6H1003.3M997.9 772.1H1003.3M997.9 782.6H1003.3M997.9 793.1H1003.3M997.9 803.5H1003.3M997.9 814H1003.3M997.9 824.5H1003.3M997.9 835H1003.3M997.9 845.4H1003.3M997.9 855.9H1003.3M997.9 866.4H1003.3M997.9 876.9H1003.3M997.9 887.4H1003.3M997.9 897.8H1003.3M997.9 908.3H1003.3M997.9 918.8H1003.3M997.9 929.3H1003.3M997.9 939.7H1003.3M997.9 950.2H1003.3M997.9 960.7H1003.3M997.9 971.2H1003.3M997.9 981.7H1003.3M997.9 992.1H1003.3M997.9 1002.6H1003.3M997.9 1013.1H1003.3M997.9 1023.6H1003.3M997.9 1034H1003.3M997.9 1044.5H1003.3M997.9 1055H1003.3M997.9 1065.5H1003.3M997.9 1076H1003.3M997.9 1086.4H1003.3M997.9 1096.9H1003.3M997.9 1107.4H1003.3M997.9 1117.9H1003.3M997.9 1128.3H1003.3M997.9 1138.8H1003.3M997.9 1149.3H1003.3M997.9 1159.8H1003.3M997.9 1170.3H1003.3M997.9 1180.7H1003.3M997.9 1191.2H1003.3M997.9 1201.7H1003.3M997.9 1212.2H1003.3M997.9 1222.7H1003.3M997.9 1233.1H1003.3M997.9 1243.6H1003.3M997.9 1254.1H1003.3M997.9 1264.6H1003.3M997.9 1275H1003.3M997.9 1285.5H1003.3M997.9 1296H1003.3M997.9 1306.5H1003.3M997.9 1317H1003.3M997.9 1327.4H1003.3M997.9 1337.9H1003.3M997.9 1348.4H1003.3M997.9 1358.9H1003.3M997.9 1369.3H1003.3M997.9 1379.8H1003.3M997.9 1390.3H1003.3M997.9 1400.8H1003.3M997.9 1411.3H1003.3M997.9 1421.7H1003.3M997.9 1432.2H1003.3M997.9 1442.7H1003.3M997.9 1453.2H1003.3M997.9 1463.6H1003.3M997.9 1474.1H1003.3M997.9 1484.6H1003.3M997.9 1495.1H1003.3M997.9 1505.6H1003.3M997.9 1516H1003.3M997.9 1526.5H1003.3M997.9 1537H1003.3M997.9 1547.5H1003.3M997.9 1557.9H1003.3M997.9 1568.4H1003.3M997.9 1578.9H1003.3M997.9 1589.4H1003.3M997.9 1599.9H1003.3M997.9 1610.3H1003.3M997.9 1620.8H1003.3M997.9 1631.3H1003.3M997.9 1641.8H1003.3M997.9 1652.2H1003.3M997.9 1662.7H1003.3M997.9 1673.2H1003.3M997.9 1683.7H1003.3M997.9 1694.2H1003.3M997.9 1704.6H1003.3M997.9 1715.1H1003.3M997.9 1725.6H1003.3M997.9 1736.1H1003.3M997.9 1746.6H1003.3M997.9 1757H1003.3M997.9 1767.5H1003.3M997.9 1778H1003.3M997.9 1788.5H1003.3M997.9 1798.9H1003.3M997.9 1809.4H1003.3M997.9 1819.9H1003.3M997.9 1830.4H1003.3M997.9 1840.9H1003.3M997.9 1851.3H1003.3M997.9 1861.8H1003.3M997.9 1872.3H1003.3M997.9 1882.8H1003.3M997.9 1893.2H1003.3M997.9 1903.7H1003.3M997.9 1914.2H1003.3M997.9 1924.7H1003.3M997.9 1935.2H1003.3M997.9 1945.6H1003.3M997.9 1956.1H1003.3M997.9 1966.6H1003.3M997.9 1977.1H1003.3M997.9 1987.5H1003.3M997.9 1998H1003.3M997.9 2008.5H1003.3M997.9 2019H1003.3M997.9 2029.5H1003.3M997.9 2039.9H1003.3M997.9 2050.4H1003.3M997.9 2060.9H1003.3M997.9 2071.4H1003.3M997.9 2081.8H1003.3M997.9 2092.3H1003.3M997.9 2102.8H1003.3M997.9 2113.3H1003.3M997.9 2123.8H1003.3M997.9 2134.2H1003.3M997.9 2144.7H1003.3M997.9 2155.2H1003.3M997.9 2165.7H1003.3M997.9 2176.1H1003.3M997.9 2186.6H1003.3M997.9 2197.1H1003.3M997.9 2207.6H1003.3M997.9 2218.1H1003.3M997.9 2228.5H1003.3M997.9 2239H1003.3M997.9 2249.5H1003.3M997.9 2260H1003.3M997.9 2270.5H1003.3M997.9 2280.9H1003.3M997.9 2291.4H1003.3M997.9 2301.9H1003.3M997.9 2312.4H1003.3M997.9 2322.8H1003.3M997.9 2333.3H1003.3M997.9 2343.8H1003.3M997.9 2354.3H1003.3M997.9 2364.8H1003.3M997.9 2375.2H1003.3M997.9 2385.7H1003.3M997.9 2396.2H1003.3M997.9 2406.7H1003.3M997.9 2417.1H1003.3M997.9 2427.6H1003.3M997.9 2438.1H1003.3M997.9 2448.6H1003.3M997.9 2459.1H1003.3M997.9 2469.5H1003.3M997.9 2480H1003.3M997.9 2490.5H1003.3M997.9 2501H1003.3M997.9 2511.4H1003.3M997.9 2521.9H1003.3M997.9 2532.4H1003.3M997.9 2542.9H1003.3M997.9 2553.4H1003.3M997.9 2563.8H1003.3M997.9 2574.3H1003.3M997.9 2584.8H1003.3M997.9 2595.3H1003.3M997.9 2605.7H1003.3M997.9 2616.2H1003.3"/>
<text x="1101.8" y="2654.4" font-size="20.5" text-anchor="middle">Log2</text>
<text x="1101.8" y="2678.5" font-size="20.5" text-anchor="middle">Fold Change</text>
<defs><linearGradient id="g841" x1="0" y1="0" x2="0" y2="1"><stop offset="0.000" stop-color="#DCDCEE"/><stop offset="0.081" stop-color="#E2E2F0"/><stop offset="0.148" stop-color="#FFFFFF"/><stop offset="0.318" stop-color="#E6CECF"/><stop offset="0.489" stop-color="#CFA0A2"/><stop offset="0.659" stop-color="#B87376"/><stop offset="0.830" stop-color="#A2474B"/><stop offset="1.000" stop-color="#8C1C20"/></linearGradient></defs>
<rect x="1167.8" y="2630.4" width="14.5" height="72.2" fill="url(#g841)"/>
<text x="1190.8" y="2646.5" font-size="20.8">0</text>
<text x="1190.8" y="2666.3" font-size="20.8">−4</text>
<text x="1190.8" y="2686.1" font-size="20.8">−8</text>
<text x="1190.8" y="2705.9" font-size="20.8">−12</text>
<defs><clipPath id="c847"><path d="M1292.6,669.4 A11.3,14.7 0 0 1 1315.2,669.4 L1315.2,2603.6 A11.3,14.7 0 0 1 1292.6,2603.6 Z"/></clipPath></defs>
<g clip-path="url(#c847)">
<rect x="1291.6" y="654.7" width="24.6" height="92.9" fill="#FFFFFF"/>
<rect x="1291.6" y="747.3" width="24.6" height="86" fill="#A9A9A9"/>
<rect x="1291.6" y="833" width="24.6" height="86.6" fill="#FFFFFF"/>
<rect x="1291.6" y="919.3" width="24.6" height="85" fill="#A9A9A9"/>
<rect x="1291.6" y="1004" width="24.6" height="44.9" fill="#FFFFFF"/>
<rect x="1291.6" y="1048.6" width="24.6" height="159.7" fill="#000000"/>
<rect x="1291.6" y="1208" width="24.6" height="12.3" fill="#FFFFFF"/>
<rect x="1291.6" y="1220" width="24.6" height="120.9" fill="#000000"/>
<rect x="1291.6" y="1340.6" width="24.6" height="103.5" fill="#FFFFFF"/>
<rect x="1291.6" y="1443.8" width="24.6" height="103.2" fill="#000000"/>
<rect x="1291.6" y="1546.7" width="24.6" height="12.3" fill="#FFFFFF"/>
<rect x="1291.6" y="1558.7" width="24.6" height="102.8" fill="#000000"/>
<rect x="1291.6" y="1661.2" width="24.6" height="58.4" fill="#FFFFFF"/>
<rect x="1291.6" y="1719.3" width="24.6" height="74" fill="#575757"/>
<rect x="1291.6" y="1793" width="24.6" height="18.3" fill="#FFFFFF"/>
<rect x="1291.6" y="1811" width="24.6" height="74" fill="#575757"/>
<rect x="1291.6" y="1884.7" width="24.6" height="81.2" fill="#FFFFFF"/>
<rect x="1291.6" y="1965.6" width="24.6" height="96.5" fill="#575757"/>
<rect x="1291.6" y="2061.8" width="24.6" height="93.5" fill="#FFFFFF"/>
<rect x="1291.6" y="2155" width="24.6" height="62" fill="#575757"/>
<rect x="1291.6" y="2216.7" width="24.6" height="12.4" fill="#FFFFFF"/>
<rect x="1291.6" y="2228.8" width="24.6" height="63.1" fill="#575757"/>
<rect x="1291.6" y="2291.6" width="24.6" height="80.7" fill="#FFFFFF"/>
<rect x="1291.6" y="2372" width="24.6" height="34.2" fill="#A9A9A9"/>
<rect x="1291.6" y="2405.9" width="24.6" height="29.4" fill="#FFFFFF"/>
<rect x="1291.6" y="2435" width="24.6" height="183.6" fill="#000000"/>
</g>
<path d="M1292.6,669.4 A11.3,14.7 0 0 1 1315.2,669.4 L1315.2,2603.6 A11.3,14.7 0 0 1 1292.6,2603.6 Z" fill="none" stroke="#6A6A6A" stroke-width="1"/>
<text x="1322" y="720.9" font-size="22" text-anchor="middle" transform="rotate(90 1322 720.9)">Telomere</text>
<text x="1322" y="2539.4" font-size="22" text-anchor="middle" transform="rotate(90 1322 2539.4)">Centromere</text>
<text x="1400" y="598.9" font-size="30" font-weight="bold">f</text>
<text x="1683.2" y="600.3" font-size="26" text-anchor="middle">CL30 Dox (7d)</text>
<rect x="1535.5" y="614.4" width="89.1" height="19.4" fill="#D9D9D9"/>
<text x="1580" y="630.2" font-size="20.5" text-anchor="middle" fill="#1A1A1A">Active</text>
<rect x="1631.2" y="614.4" width="86.1" height="19.4" fill="#D9D9D9"/>
<text x="1674.2" y="630.2" font-size="20.5" text-anchor="middle" fill="#1A1A1A">Inactive</text>
<rect x="1724.1" y="614.4" width="87.9" height="19.4" fill="#D9D9D9"/>
<text x="1768" y="630.2" font-size="20.5" text-anchor="middle" fill="#1A1A1A">Total</text>
<line x1="1535.5" y1="638.3" x2="1812" y2="638.3" stroke="#A0A0A0" stroke-width="1.6"/>
<path fill="#FDFDFE" d="M1539.4 651.8h81.6v13.6h-81.6zM1634.2 665.4h80.7v13.6h-80.7zM1634.2 1453h80.7v13.6h-80.7zM1728.3 1181.4h80.7v13.6h-80.7zM1728.3 1425.9h80.7v13.6h-80.7z"/>
<path fill="#EEEEF9" d="M1539.4 665.4h81.6v13.6h-81.6zM1539.4 774h81.6v13.6h-81.6z"/>
<path fill="#FCF8F8" d="M1539.4 706.1h81.6v13.6h-81.6zM1539.4 828.3h81.6v13.6h-81.6zM1539.4 991.3h81.6v13.6h-81.6zM1539.4 1018.5h81.6v13.6h-81.6zM1539.4 1086.4h81.6v13.6h-81.6zM1539.4 1099.9h81.6v13.6h-81.6zM1539.4 1154.3h81.6v13.6h-81.6zM1539.4 1262.9h81.6v13.6h-81.6zM1539.4 1276.5h81.6v13.6h-81.6zM1539.4 1303.6h81.6v13.6h-81.6zM1539.4 1466.6h81.6v13.6h-81.6zM1539.4 1493.8h81.6v13.6h-81.6zM1539.4 1507.3h81.6v13.6h-81.6zM1539.4 1520.9h81.6v13.6h-81.6zM1539.4 1534.5h81.6v13.6h-81.6zM1634.2 719.7h80.7v13.6h-80.7zM1634.2 1113.5h80.7v13.6h-80.7zM1728.3 651.8h80.7v13.6h-80.7zM1728.3 679h80.7v13.6h-80.7zM1728.3 692.5h80.7v13.6h-80.7zM1728.3 787.6h80.7v13.6h-80.7zM1728.3 801.2h80.7v13.6h-80.7zM1728.3 882.7h80.7v13.6h-80.7zM1728.3 909.8h80.7v13.6h-80.7zM1728.3 923.4h80.7v13.6h-80.7zM1728.3 937h80.7v13.6h-80.7zM1728.3 950.6h80.7v13.6h-80.7zM1728.3 964.1h80.7v13.6h-80.7zM1728.3 977.7h80.7v13.6h-80.7zM1728.3 1045.6h80.7v13.6h-80.7zM1728.3 1059.2h80.7v13.6h-80.7zM1728.3 1072.8h80.7v13.6h-80.7zM1728.3 1113.5h80.7v13.6h-80.7zM1728.3 1140.7h80.7v13.6h-80.7zM1728.3 1154.3h80.7v13.6h-80.7zM1728.3 1167.8h80.7v13.6h-80.7zM1728.3 1195h80.7v13.6h-80.7zM1728.3 1358h80.7v13.6h-80.7zM1728.3 1398.7h80.7v13.6h-80.7zM1728.3 1412.3h80.7v13.6h-80.7zM1728.3 1439.4h80.7v13.6h-80.7zM1728.3 1548.1h80.7v13.6h-80.7z"/>
<path fill="#F9F9FD" d="M1539.4 719.7h81.6v13.6h-81.6zM1539.4 855.5h81.6v13.6h-81.6zM1539.4 896.2h81.6v13.6h-81.6zM1539.4 950.6h81.6v13.6h-81.6zM1728.3 665.4h80.7v13.6h-80.7zM1728.3 774h80.7v13.6h-80.7z"/>
<path fill="#F9F4F4" d="M1539.4 869.1h81.6v13.6h-81.6zM1539.4 909.8h81.6v13.6h-81.6zM1539.4 1004.9h81.6v13.6h-81.6zM1539.4 1290.1h81.6v13.6h-81.6zM1728.3 814.8h80.7v13.6h-80.7zM1728.3 991.3h80.7v13.6h-80.7zM1728.3 1032h80.7v13.6h-80.7zM1728.3 1086.4h80.7v13.6h-80.7zM1728.3 1099.9h80.7v13.6h-80.7zM1728.3 1127.1h80.7v13.6h-80.7zM1728.3 1208.6h80.7v13.6h-80.7zM1728.3 1222.2h80.7v13.6h-80.7zM1728.3 1249.3h80.7v13.6h-80.7zM1728.3 1276.5h80.7v13.6h-80.7zM1728.3 1290.1h80.7v13.6h-80.7zM1728.3 1303.6h80.7v13.6h-80.7zM1728.3 1330.8h80.7v13.6h-80.7zM1728.3 1371.5h80.7v13.6h-80.7zM1728.3 1385.1h80.7v13.6h-80.7zM1728.3 1466.6h80.7v13.6h-80.7zM1728.3 1480.2h80.7v13.6h-80.7zM1728.3 1520.9h80.7v13.6h-80.7zM1728.3 1534.5h80.7v13.6h-80.7z"/>
<path fill="#FCFCFE" d="M1539.4 1181.4h81.6v13.6h-81.6zM1539.4 1195h81.6v13.6h-81.6zM1539.4 1439.4h81.6v13.6h-81.6zM1634.2 1425.9h80.7v13.6h-80.7z"/>
<path fill="#ECD9D9" d="M1634.2 651.8h80.7v13.6h-80.7zM1634.2 679h80.7v13.6h-80.7zM1634.2 692.5h80.7v13.6h-80.7zM1634.2 801.2h80.7v13.6h-80.7zM1634.2 882.7h80.7v13.6h-80.7zM1634.2 923.4h80.7v13.6h-80.7z"/>
<path fill="#E3C9CA" d="M1634.2 706.1h80.7v13.6h-80.7zM1634.2 746.9h80.7v13.6h-80.7zM1634.2 760.4h80.7v13.6h-80.7zM1634.2 937h80.7v13.6h-80.7zM1634.2 950.6h80.7v13.6h-80.7zM1634.2 1032h80.7v13.6h-80.7zM1634.2 1303.6h80.7v13.6h-80.7zM1634.2 1398.7h80.7v13.6h-80.7zM1634.2 1412.3h80.7v13.6h-80.7zM1634.2 1439.4h80.7v13.6h-80.7z"/>
<path fill="#C3898C" d="M1634.2 733.3h80.7v13.6h-80.7zM1634.2 1127.1h80.7v13.6h-80.7zM1634.2 1507.3h80.7v13.6h-80.7z"/>
<path fill="#B16567" d="M1634.2 774h80.7v13.6h-80.7zM1634.2 841.9h80.7v13.6h-80.7zM1634.2 1222.2h80.7v13.6h-80.7z"/>
<path fill="#92282C" d="M1634.2 787.6h80.7v13.6h-80.7zM1634.2 1317.2h80.7v13.6h-80.7z"/>
<path fill="#D7AFB0" d="M1634.2 814.8h80.7v13.6h-80.7zM1634.2 1059.2h80.7v13.6h-80.7zM1634.2 1072.8h80.7v13.6h-80.7zM1634.2 1086.4h80.7v13.6h-80.7zM1634.2 1140.7h80.7v13.6h-80.7zM1634.2 1466.6h80.7v13.6h-80.7zM1634.2 1480.2h80.7v13.6h-80.7zM1634.2 1520.9h80.7v13.6h-80.7zM1634.2 1534.5h80.7v13.6h-80.7z"/>
<path fill="#983438" d="M1634.2 828.3h80.7v13.6h-80.7zM1634.2 1262.9h80.7v13.6h-80.7z"/>
<path fill="#AB585B" d="M1634.2 855.5h80.7v13.6h-80.7zM1634.2 1018.5h80.7v13.6h-80.7z"/>
<path fill="#9E4043" d="M1634.2 869.1h80.7v13.6h-80.7zM1634.2 1385.1h80.7v13.6h-80.7z"/>
<path fill="#D0A2A4" d="M1634.2 896.2h80.7v13.6h-80.7zM1634.2 909.8h80.7v13.6h-80.7zM1634.2 1208.6h80.7v13.6h-80.7zM1634.2 1249.3h80.7v13.6h-80.7z"/>
<path fill="#CA9698" d="M1634.2 964.1h80.7v13.6h-80.7zM1634.2 977.7h80.7v13.6h-80.7zM1634.2 991.3h80.7v13.6h-80.7zM1634.2 1235.7h80.7v13.6h-80.7z"/>
<path fill="#F3E7E7" d="M1634.2 1045.6h80.7v13.6h-80.7zM1728.3 1235.7h80.7v13.6h-80.7z"/>
<path fill="#DDBCBD" d="M1634.2 1099.9h80.7v13.6h-80.7zM1634.2 1154.3h80.7v13.6h-80.7zM1634.2 1167.8h80.7v13.6h-80.7zM1634.2 1276.5h80.7v13.6h-80.7zM1634.2 1290.1h80.7v13.6h-80.7zM1634.2 1344.4h80.7v13.6h-80.7z"/>
<path fill="#BD7D7F" d="M1634.2 1181.4h80.7v13.6h-80.7zM1634.2 1195h80.7v13.6h-80.7zM1634.2 1358h80.7v13.6h-80.7zM1634.2 1493.8h80.7v13.6h-80.7z"/>
<path fill="#A44C4F" d="M1634.2 1330.8h80.7v13.6h-80.7zM1634.2 1548.1h80.7v13.6h-80.7z"/>
<path fill="#8C1C20" d="M1634.2 1371.5h80.7v13.6h-80.7z"/>
<path fill="#F6ECED" d="M1728.3 706.1h80.7v13.6h-80.7zM1728.3 733.3h80.7v13.6h-80.7zM1728.3 746.9h80.7v13.6h-80.7zM1728.3 760.4h80.7v13.6h-80.7zM1728.3 828.3h80.7v13.6h-80.7zM1728.3 869.1h80.7v13.6h-80.7zM1728.3 1018.5h80.7v13.6h-80.7zM1728.3 1262.9h80.7v13.6h-80.7zM1728.3 1317.2h80.7v13.6h-80.7zM1728.3 1493.8h80.7v13.6h-80.7zM1728.3 1507.3h80.7v13.6h-80.7z"/>
<path fill="#FDFBFB" d="M1728.3 719.7h80.7v13.6h-80.7z"/>
<path fill="none" stroke="#000" stroke-opacity="0.2" stroke-width="0.8" d="M1539.4 651.8H1621M1539.4 665.4H1621M1539.4 679H1621M1539.4 692.5H1621M1539.4 706.1H1621M1539.4 719.7H1621M1539.4 733.3H1621M1539.4 746.9H1621M1539.4 760.4H1621M1539.4 774H1621M1539.4 787.6H1621M1539.4 801.2H1621M1539.4 814.8H1621M1539.4 828.3H1621M1539.4 841.9H1621M1539.4 855.5H1621M1539.4 869.1H1621M1539.4 882.7H1621M1539.4 896.2H1621M1539.4 909.8H1621M1539.4 923.4H1621M1539.4 937H1621M1539.4 950.6H1621M1539.4 964.1H1621M1539.4 977.7H1621M1539.4 991.3H1621M1539.4 1004.9H1621M1539.4 1018.5H1621M1539.4 1032H1621M1539.4 1045.6H1621M1539.4 1059.2H1621M1539.4 1072.8H1621M1539.4 1086.4H1621M1539.4 1099.9H1621M1539.4 1113.5H1621M1539.4 1127.1H1621M1539.4 1140.7H1621M1539.4 1154.3H1621M1539.4 1167.8H1621M1539.4 1181.4H1621M1539.4 1195H1621M1539.4 1208.6H1621M1539.4 1222.2H1621M1539.4 1235.7H1621M1539.4 1249.3H1621M1539.4 1262.9H1621M1539.4 1276.5H1621M1539.4 1290.1H1621M1539.4 1303.6H1621M1539.4 1317.2H1621M1539.4 1330.8H1621M1539.4 1344.4H1621M1539.4 1358H1621M1539.4 1371.5H1621M1539.4 1385.1H1621M1539.4 1398.7H1621M1539.4 1412.3H1621M1539.4 1425.9H1621M1539.4 1439.4H1621M1539.4 1453H1621M1539.4 1466.6H1621M1539.4 1480.2H1621M1539.4 1493.8H1621M1539.4 1507.3H1621M1539.4 1520.9H1621M1539.4 1534.5H1621M1539.4 1548.1H1621M1539.4 1561.7H1621M1539.4 651.8V1561.7M1621 651.8V1561.7M1634.2 651.8H1714.9M1634.2 665.4H1714.9M1634.2 679H1714.9M1634.2 692.5H1714.9M1634.2 706.1H1714.9M1634.2 719.7H1714.9M1634.2 733.3H1714.9M1634.2 746.9H1714.9M1634.2 760.4H1714.9M1634.2 774H1714.9M1634.2 787.6H1714.9M1634.2 801.2H1714.9M1634.2 814.8H1714.9M1634.2 828.3H1714.9M1634.2 841.9H1714.9M1634.2 855.5H1714.9M1634.2 869.1H1714.9M1634.2 882.7H1714.9M1634.2 896.2H1714.9M1634.2 909.8H1714.9M1634.2 923.4H1714.9M1634.2 937H1714.9M1634.2 950.6H1714.9M1634.2 964.1H1714.9M1634.2 977.7H1714.9M1634.2 991.3H1714.9M1634.2 1004.9H1714.9M1634.2 1018.5H1714.9M1634.2 1032H1714.9M1634.2 1045.6H1714.9M1634.2 1059.2H1714.9M1634.2 1072.8H1714.9M1634.2 1086.4H1714.9M1634.2 1099.9H1714.9M1634.2 1113.5H1714.9M1634.2 1127.1H1714.9M1634.2 1140.7H1714.9M1634.2 1154.3H1714.9M1634.2 1167.8H1714.9M1634.2 1181.4H1714.9M1634.2 1195H1714.9M1634.2 1208.6H1714.9M1634.2 1222.2H1714.9M1634.2 1235.7H1714.9M1634.2 1249.3H1714.9M1634.2 1262.9H1714.9M1634.2 1276.5H1714.9M1634.2 1290.1H1714.9M1634.2 1303.6H1714.9M1634.2 1317.2H1714.9M1634.2 1330.8H1714.9M1634.2 1344.4H1714.9M1634.2 1358H1714.9M1634.2 1371.5H1714.9M1634.2 1385.1H1714.9M1634.2 1398.7H1714.9M1634.2 1412.3H1714.9M1634.2 1425.9H1714.9M1634.2 1439.4H1714.9M1634.2 1453H1714.9M1634.2 1466.6H1714.9M1634.2 1480.2H1714.9M1634.2 1493.8H1714.9M1634.2 1507.3H1714.9M1634.2 1520.9H1714.9M1634.2 1534.5H1714.9M1634.2 1548.1H1714.9M1634.2 1561.7H1714.9M1634.2 651.8V1561.7M1714.9 651.8V1561.7M1728.3 651.8H1809M1728.3 665.4H1809M1728.3 679H1809M1728.3 692.5H1809M1728.3 706.1H1809M1728.3 719.7H1809M1728.3 733.3H1809M1728.3 746.9H1809M1728.3 760.4H1809M1728.3 774H1809M1728.3 787.6H1809M1728.3 801.2H1809M1728.3 814.8H1809M1728.3 828.3H1809M1728.3 841.9H1809M1728.3 855.5H1809M1728.3 869.1H1809M1728.3 882.7H1809M1728.3 896.2H1809M1728.3 909.8H1809M1728.3 923.4H1809M1728.3 937H1809M1728.3 950.6H1809M1728.3 964.1H1809M1728.3 977.7H1809M1728.3 991.3H1809M1728.3 1004.9H1809M1728.3 1018.5H1809M1728.3 1032H1809M1728.3 1045.6H1809M1728.3 1059.2H1809M1728.3 1072.8H1809M1728.3 1086.4H1809M1728.3 1099.9H1809M1728.3 1113.5H1809M1728.3 1127.1H1809M1728.3 1140.7H1809M1728.3 1154.3H1809M1728.3 1167.8H1809M1728.3 1181.4H1809M1728.3 1195H1809M1728.3 1208.6H1809M1728.3 1222.2H1809M1728.3 1235.7H1809M1728.3 1249.3H1809M1728.3 1262.9H1809M1728.3 1276.5H1809M1728.3 1290.1H1809M1728.3 1303.6H1809M1728.3 1317.2H1809M1728.3 1330.8H1809M1728.3 1344.4H1809M1728.3 1358H1809M1728.3 1371.5H1809M1728.3 1385.1H1809M1728.3 1398.7H1809M1728.3 1412.3H1809M1728.3 1425.9H1809M1728.3 1439.4H1809M1728.3 1453H1809M1728.3 1466.6H1809M1728.3 1480.2H1809M1728.3 1493.8H1809M1728.3 1507.3H1809M1728.3 1520.9H1809M1728.3 1534.5H1809M1728.3 1548.1H1809M1728.3 1561.7H1809M1728.3 651.8V1561.7M1809 651.8V1561.7"/>
<path stroke="#000" stroke-width="1.6" d="M1673.4 658.6h2.4M1673.4 685.7h2.4M1673.4 699.3h2.4M1673.4 712.9h2.4M1673.4 740.1h2.4M1673.4 753.6h2.4M1673.4 767.2h2.4M1673.4 780.8h2.4M1673.4 794.4h2.4M1673.4 808h2.4M1673.4 821.5h2.4M1673.4 835.1h2.4M1673.4 848.7h2.4M1673.4 862.3h2.4M1673.4 875.9h2.4M1673.4 889.4h2.4M1673.4 903h2.4M1673.4 916.6h2.4M1673.4 930.2h2.4M1673.4 943.8h2.4M1673.4 957.3h2.4M1673.4 970.9h2.4M1673.4 984.5h2.4M1673.4 998.1h2.4M1673.4 1025.2h2.4M1673.4 1038.8h2.4M1673.4 1052.4h2.4M1673.4 1066h2.4M1673.4 1079.6h2.4M1673.4 1093.1h2.4M1673.4 1106.7h2.4M1673.4 1133.9h2.4M1673.4 1147.5h2.4M1673.4 1161h2.4M1673.4 1174.6h2.4M1673.4 1188.2h2.4M1673.4 1201.8h2.4M1673.4 1215.4h2.4M1673.4 1228.9h2.4M1673.4 1242.5h2.4M1673.4 1256.1h2.4M1673.4 1269.7h2.4M1673.4 1283.3h2.4M1673.4 1296.8h2.4M1673.4 1310.4h2.4M1673.4 1324h2.4M1673.4 1337.6h2.4M1673.4 1351.2h2.4M1673.4 1364.8h2.4M1673.4 1378.3h2.4M1673.4 1391.9h2.4M1673.4 1405.5h2.4M1673.4 1419.1h2.4M1673.4 1446.2h2.4M1673.4 1473.4h2.4M1673.4 1487h2.4M1673.4 1500.5h2.4M1673.4 1514.1h2.4M1673.4 1527.7h2.4M1673.4 1541.3h2.4M1673.4 1554.9h2.4M1767.5 712.9h2.4M1767.5 740.1h2.4M1767.5 753.6h2.4M1767.5 767.2h2.4M1767.5 821.5h2.4M1767.5 835.1h2.4M1767.5 889.4h2.4M1767.5 998.1h2.4M1767.5 1025.2h2.4M1767.5 1038.8h2.4M1767.5 1093.1h2.4M1767.5 1106.7h2.4M1767.5 1133.9h2.4M1767.5 1174.6h2.4M1767.5 1215.4h2.4M1767.5 1228.9h2.4M1767.5 1242.5h2.4M1767.5 1256.1h2.4M1767.5 1269.7h2.4M1767.5 1283.3h2.4M1767.5 1310.4h2.4M1767.5 1324h2.4M1767.5 1337.6h2.4M1767.5 1378.3h2.4M1767.5 1405.5h2.4M1767.5 1419.1h2.4M1767.5 1473.4h2.4M1767.5 1487h2.4M1767.5 1500.5h2.4M1767.5 1514.1h2.4M1767.5 1527.7h2.4M1767.5 1541.3h2.4M1767.5 1554.9h2.4"/>
<rect x="1535.5" y="649" width="89.7" height="914.4" fill="none" stroke="#555" stroke-width="1.3"/>
<rect x="1630" y="649" width="89.3" height="914.4" fill="none" stroke="#555" stroke-width="1.3"/>
<rect x="1723.8" y="649" width="89.7" height="914.4" fill="none" stroke="#555" stroke-width="1.3"/>
<g font-size="13.2" fill="#111" stroke="#111" stroke-width="0.22" text-anchor="end" transform="translate(1524.5,0) scale(0.9,1)">
<text x="0" y="663.3">Mid1</text>
<text x="0" y="676.9">Tceanc</text>
<text x="0" y="690.5">Trappc2</text>
<text x="0" y="704.1">Ofd1</text>
<text x="0" y="717.7">Gpm6b</text>
<text x="0" y="731.2">Gemin8</text>
<text x="0" y="744.8">Piga</text>
<text x="0" y="758.4">Siah1b</text>
<text x="0" y="772">Zrsr2</text>
<text x="0" y="785.6">Ap1s2</text>
<text x="0" y="799.1">Ctps2</text>
<text x="0" y="812.7">Syap1</text>
<text x="0" y="826.3">Txlng</text>
<text x="0" y="839.9">Rbbp7</text>
<text x="0" y="853.5">Cdkl5</text>
<text x="0" y="867">Phka2</text>
<text x="0" y="880.6">9530051G07Rik</text>
<text x="0" y="894.2">Kdm5c</text>
<text x="0" y="907.8">3110067C02Rik</text>
<text x="0" y="921.4">Tmem29</text>
<text x="0" y="934.9">Atg4a</text>
<text x="0" y="948.5">Psmd10</text>
<text x="0" y="962.1">Rbm41</text>
<text x="0" y="975.7">Plp1</text>
<text x="0" y="989.3">BC065397</text>
<text x="0" y="1002.8">Morf4l2</text>
<text x="0" y="1016.4">Mdm4−ps</text>
<text x="0" y="1030">Chm</text>
<text x="0" y="1043.6">Pbdc1</text>
<text x="0" y="1057.2">5530601H04Rik</text>
<text x="0" y="1070.7">Ftx</text>
<text x="0" y="1084.3">Jpx</text>
<text x="0" y="1097.9">Ercc6l</text>
<text x="0" y="1111.5">Eda2r</text>
<text x="0" y="1125.1">G6pdx</text>
<text x="0" y="1138.6">Mecp2</text>
<text x="0" y="1152.2">Hcfc1</text>
<text x="0" y="1165.8">Ssr4</text>
<text x="0" y="1179.4">Idh3g</text>
<text x="0" y="1193">Plxnb3</text>
<text x="0" y="1206.5">Abcd1</text>
<text x="0" y="1220.1">Bcap31</text>
<text x="0" y="1233.7">Slc6a8</text>
<text x="0" y="1247.3">Fmr1</text>
<text x="0" y="1260.9">Htatsf1</text>
<text x="0" y="1274.4">Slc9a6</text>
<text x="0" y="1288">Mmgt1</text>
<text x="0" y="1301.6">Firre</text>
<text x="0" y="1315.2">Utp14a</text>
<text x="0" y="1328.8">Zdhhc9</text>
<text x="0" y="1342.3">Ocrl</text>
<text x="0" y="1355.9">A230072C01Rik</text>
<text x="0" y="1369.5">Uxt</text>
<text x="0" y="1383.1">Elk1</text>
<text x="0" y="1396.7">Cfp</text>
<text x="0" y="1410.2">Araf</text>
<text x="0" y="1423.8">Uba1</text>
<text x="0" y="1437.4">Gm14539</text>
<text x="0" y="1451">Kdm6a</text>
<text x="0" y="1464.6">Gm9434</text>
<text x="0" y="1478.1">Ddx3x</text>
<text x="0" y="1491.7">Usp9x</text>
<text x="0" y="1505.3">Med14</text>
<text x="0" y="1518.9">1810030O07Rik</text>
<text x="0" y="1532.5">Ftsj1</text>
<text x="0" y="1546">Suv39h1</text>
<text x="0" y="1559.6">Gpkow</text>
</g>
<path stroke="#444" stroke-width="1.15" d="M1531.4 658.6H1535.5M1531.4 672.2H1535.5M1531.4 685.8H1535.5M1531.4 699.3H1535.5M1531.4 712.9H1535.5M1531.4 726.5H1535.5M1531.4 740.1H1535.5M1531.4 753.6H1535.5M1531.4 767.2H1535.5M1531.4 780.8H1535.5M1531.4 794.4H1535.5M1531.4 808H1535.5M1531.4 821.5H1535.5M1531.4 835.1H1535.5M1531.4 848.7H1535.5M1531.4 862.3H1535.5M1531.4 875.9H1535.5M1531.4 889.4H1535.5M1531.4 903H1535.5M1531.4 916.6H1535.5M1531.4 930.2H1535.5M1531.4 943.8H1535.5M1531.4 957.3H1535.5M1531.4 970.9H1535.5M1531.4 984.5H1535.5M1531.4 998.1H1535.5M1531.4 1011.7H1535.5M1531.4 1025.2H1535.5M1531.4 1038.8H1535.5M1531.4 1052.4H1535.5M1531.4 1066H1535.5M1531.4 1079.6H1535.5M1531.4 1093.2H1535.5M1531.4 1106.7H1535.5M1531.4 1120.3H1535.5M1531.4 1133.9H1535.5M1531.4 1147.5H1535.5M1531.4 1161H1535.5M1531.4 1174.6H1535.5M1531.4 1188.2H1535.5M1531.4 1201.8H1535.5M1531.4 1215.4H1535.5M1531.4 1228.9H1535.5M1531.4 1242.5H1535.5M1531.4 1256.1H1535.5M1531.4 1269.7H1535.5M1531.4 1283.3H1535.5M1531.4 1296.8H1535.5M1531.4 1310.4H1535.5M1531.4 1324H1535.5M1531.4 1337.6H1535.5M1531.4 1351.2H1535.5M1531.4 1364.8H1535.5M1531.4 1378.3H1535.5M1531.4 1391.9H1535.5M1531.4 1405.5H1535.5M1531.4 1419.1H1535.5M1531.4 1432.7H1535.5M1531.4 1446.2H1535.5M1531.4 1459.8H1535.5M1531.4 1473.4H1535.5M1531.4 1487H1535.5M1531.4 1500.5H1535.5M1531.4 1514.1H1535.5M1531.4 1527.7H1535.5M1531.4 1541.3H1535.5M1531.4 1554.9H1535.5"/>
<text x="1588" y="1601.4" font-size="20.5" text-anchor="middle">Log2</text>
<text x="1588" y="1625.9" font-size="20.5" text-anchor="middle">Fold Change</text>
<defs><linearGradient id="g989" x1="0" y1="0" x2="0" y2="1"><stop offset="0.000" stop-color="#DCDCEE"/><stop offset="0.053" stop-color="#E2E2F0"/><stop offset="0.097" stop-color="#FFFFFF"/><stop offset="0.278" stop-color="#E6CECF"/><stop offset="0.458" stop-color="#CFA0A2"/><stop offset="0.639" stop-color="#B87376"/><stop offset="0.819" stop-color="#A2474B"/><stop offset="1.000" stop-color="#8C1C20"/></linearGradient></defs>
<rect x="1655.4" y="1571.5" width="14.6" height="71.7" fill="url(#g989)"/>
<text x="1675" y="1585.3" font-size="19.3">0</text>
<text x="1675" y="1600.9" font-size="19.3">−2</text>
<text x="1675" y="1616.4" font-size="19.3">−4</text>
<text x="1675" y="1630.7" font-size="19.3">−6</text>
<text x="1675" y="1644.7" font-size="19.3">−8</text>
<defs><clipPath id="c996"><path d="M1825.5,659.1 A9.1,11.8 0 0 1 1843.7,659.1 L1843.7,1553.2 A9.1,11.8 0 0 1 1825.5,1553.2 Z"/></clipPath></defs>
<g clip-path="url(#c996)">
<rect x="1824.5" y="647.3" width="20.2" height="43.9" fill="#FFFFFF"/>
<rect x="1824.5" y="690.9" width="20.2" height="40.4" fill="#A9A9A9"/>
<rect x="1824.5" y="731" width="20.2" height="40" fill="#FFFFFF"/>
<rect x="1824.5" y="770.7" width="20.2" height="39.5" fill="#A9A9A9"/>
<rect x="1824.5" y="809.9" width="20.2" height="21.8" fill="#FFFFFF"/>
<rect x="1824.5" y="831.4" width="20.2" height="75" fill="#000000"/>
<rect x="1824.5" y="906.1" width="20.2" height="5.7" fill="#FFFFFF"/>
<rect x="1824.5" y="911.5" width="20.2" height="56.5" fill="#000000"/>
<rect x="1824.5" y="967.7" width="20.2" height="48.7" fill="#FFFFFF"/>
<rect x="1824.5" y="1016.1" width="20.2" height="48.1" fill="#000000"/>
<rect x="1824.5" y="1063.9" width="20.2" height="5.7" fill="#FFFFFF"/>
<rect x="1824.5" y="1069.3" width="20.2" height="48.5" fill="#000000"/>
<rect x="1824.5" y="1117.5" width="20.2" height="28.1" fill="#FFFFFF"/>
<rect x="1824.5" y="1145.3" width="20.2" height="34.3" fill="#575757"/>
<rect x="1824.5" y="1179.3" width="20.2" height="8.7" fill="#FFFFFF"/>
<rect x="1824.5" y="1187.7" width="20.2" height="34.6" fill="#575757"/>
<rect x="1824.5" y="1222" width="20.2" height="38.6" fill="#FFFFFF"/>
<rect x="1824.5" y="1260.3" width="20.2" height="44.9" fill="#575757"/>
<rect x="1824.5" y="1304.9" width="20.2" height="43.9" fill="#FFFFFF"/>
<rect x="1824.5" y="1348.5" width="20.2" height="29.3" fill="#575757"/>
<rect x="1824.5" y="1377.5" width="20.2" height="6.3" fill="#FFFFFF"/>
<rect x="1824.5" y="1383.5" width="20.2" height="28.7" fill="#575757"/>
<rect x="1824.5" y="1411.9" width="20.2" height="38.9" fill="#FFFFFF"/>
<rect x="1824.5" y="1450.5" width="20.2" height="15.2" fill="#A9A9A9"/>
<rect x="1824.5" y="1465.4" width="20.2" height="13.8" fill="#FFFFFF"/>
<rect x="1824.5" y="1478.9" width="20.2" height="86.4" fill="#000000"/>
</g>
<path d="M1825.5,659.1 A9.1,11.8 0 0 1 1843.7,659.1 L1843.7,1553.2 A9.1,11.8 0 0 1 1825.5,1553.2 Z" fill="none" stroke="#6A6A6A" stroke-width="1"/>
<text x="1850.2" y="705.4" font-size="23" text-anchor="middle" transform="rotate(90 1850.2 705.4)">Telomere</text>
<text x="1850.2" y="1495" font-size="23" text-anchor="middle" transform="rotate(90 1850.2 1495)">Centromere</text>
<text x="1460" y="1726" font-size="30" font-weight="bold">g</text>
<text x="1662.4" y="1735.9" font-size="26" text-anchor="middle">CL31 Dox (7d)</text>
<rect x="1535.5" y="1766.4" width="89.1" height="19.5" fill="#D9D9D9"/>
<text x="1580" y="1782.3" font-size="20.5" text-anchor="middle" fill="#1A1A1A">Active</text>
<rect x="1631.2" y="1766.4" width="86.1" height="19.5" fill="#D9D9D9"/>
<text x="1674.2" y="1782.3" font-size="20.5" text-anchor="middle" fill="#1A1A1A">Inactive</text>
<rect x="1724.1" y="1766.4" width="87.9" height="19.5" fill="#D9D9D9"/>
<text x="1768" y="1782.3" font-size="20.5" text-anchor="middle" fill="#1A1A1A">Total</text>
<line x1="1535.5" y1="1789.5" x2="1812" y2="1789.5" stroke="#A0A0A0" stroke-width="1.6"/>
<path fill="#D1D1EE" d="M1540.9 1795.8h81.6v14.1h-81.6z"/>
<path fill="#FDFBFB" d="M1540.9 1809.9h81.6v14.1h-81.6zM1635.1 2121h81.3v14.1h-81.3zM1729.2 2092.7h81.6v14.1h-81.6z"/>
<path fill="#FCF8F8" d="M1540.9 1824.1h81.6v14.1h-81.6zM1540.9 1923.1h81.6v14.1h-81.6zM1540.9 1979.6h81.6v14.1h-81.6zM1540.9 2036.2h81.6v14.1h-81.6zM1540.9 2064.5h81.6v14.1h-81.6zM1540.9 2177.6h81.6v14.1h-81.6zM1540.9 2220h81.6v14.1h-81.6zM1540.9 2248.3h81.6v14.1h-81.6zM1540.9 2290.7h81.6v14.1h-81.6zM1540.9 2319h81.6v14.1h-81.6zM1540.9 2333.1h81.6v14.1h-81.6zM1540.9 2418h81.6v14.1h-81.6zM1540.9 2488.7h81.6v14.1h-81.6zM1635.1 1965.5h81.3v14.1h-81.3zM1729.2 1809.9h81.6v14.1h-81.6zM1729.2 1838.2h81.6v14.1h-81.6zM1729.2 1937.2h81.6v14.1h-81.6zM1729.2 2007.9h81.6v14.1h-81.6zM1729.2 2361.4h81.6v14.1h-81.6zM1729.2 2446.2h81.6v14.1h-81.6z"/>
<path fill="#FCFCFE" d="M1540.9 1838.2h81.6v14.1h-81.6zM1540.9 1993.8h81.6v14.1h-81.6zM1540.9 2092.7h81.6v14.1h-81.6zM1635.1 2432.1h81.3v14.1h-81.3zM1729.2 2106.9h81.6v14.1h-81.6z"/>
<path fill="#F9F4F4" d="M1540.9 1852.4h81.6v14.1h-81.6zM1540.9 2375.5h81.6v14.1h-81.6zM1635.1 1866.5h81.3v14.1h-81.3zM1729.2 1795.8h81.6v14.1h-81.6zM1729.2 1824.1h81.6v14.1h-81.6zM1729.2 1880.6h81.6v14.1h-81.6zM1729.2 1894.8h81.6v14.1h-81.6zM1729.2 1923.1h81.6v14.1h-81.6zM1729.2 2022h81.6v14.1h-81.6zM1729.2 2036.2h81.6v14.1h-81.6zM1729.2 2064.5h81.6v14.1h-81.6zM1729.2 2163.4h81.6v14.1h-81.6zM1729.2 2304.8h81.6v14.1h-81.6zM1729.2 2319h81.6v14.1h-81.6zM1729.2 2333.1h81.6v14.1h-81.6zM1729.2 2347.3h81.6v14.1h-81.6zM1729.2 2460.4h81.6v14.1h-81.6zM1729.2 2474.5h81.6v14.1h-81.6z"/>
<path fill="#E1E1F4" d="M1540.9 1965.5h81.6v14.1h-81.6z"/>
<path fill="#F9F9FD" d="M1540.9 2050.3h81.6v14.1h-81.6zM1540.9 2106.9h81.6v14.1h-81.6zM1540.9 2403.8h81.6v14.1h-81.6zM1540.9 2432.1h81.6v14.1h-81.6zM1635.1 2106.9h81.3v14.1h-81.3zM1635.1 2403.8h81.3v14.1h-81.3zM1729.2 2403.8h81.6v14.1h-81.6zM1729.2 2432.1h81.6v14.1h-81.6z"/>
<path fill="#FDFDFE" d="M1540.9 2078.6h81.6v14.1h-81.6zM1540.9 2234.1h81.6v14.1h-81.6zM1540.9 2361.4h81.6v14.1h-81.6z"/>
<path fill="#F3F3FA" d="M1540.9 2149.3h81.6v14.1h-81.6z"/>
<path fill="#ECD9D9" d="M1540.9 2163.4h81.6v14.1h-81.6zM1635.1 1838.2h81.3v14.1h-81.3zM1635.1 1937.2h81.3v14.1h-81.3zM1635.1 1993.8h81.3v14.1h-81.3zM1635.1 2050.3h81.3v14.1h-81.3zM1729.2 1979.6h81.6v14.1h-81.6zM1729.2 2262.4h81.6v14.1h-81.6zM1729.2 2488.7h81.6v14.1h-81.6z"/>
<path fill="#D0A2A4" d="M1540.9 2191.7h81.6v14.1h-81.6zM1635.1 2333.1h81.3v14.1h-81.3zM1635.1 2460.4h81.3v14.1h-81.3zM1729.2 2191.7h81.6v14.1h-81.6z"/>
<path fill="#DDBCBD" d="M1540.9 2205.9h81.6v14.1h-81.6zM1635.1 1852.4h81.3v14.1h-81.3zM1635.1 1880.6h81.3v14.1h-81.3zM1635.1 1894.8h81.3v14.1h-81.3zM1635.1 2319h81.3v14.1h-81.3zM1635.1 2375.5h81.3v14.1h-81.3zM1635.1 2389.7h81.3v14.1h-81.3z"/>
<path fill="#F6ECED" d="M1540.9 2262.4h81.6v14.1h-81.6zM1635.1 1795.8h81.3v14.1h-81.3zM1729.2 1908.9h81.6v14.1h-81.6zM1729.2 2177.6h81.6v14.1h-81.6zM1729.2 2234.1h81.6v14.1h-81.6zM1729.2 2248.3h81.6v14.1h-81.6z"/>
<path fill="#E3C9CA" d="M1635.1 1809.9h81.3v14.1h-81.3zM1635.1 1824.1h81.3v14.1h-81.3zM1635.1 2007.9h81.3v14.1h-81.3zM1635.1 2078.6h81.3v14.1h-81.3zM1635.1 2361.4h81.3v14.1h-81.3z"/>
<path fill="#D7AFB0" d="M1635.1 1908.9h81.3v14.1h-81.3zM1635.1 2064.5h81.3v14.1h-81.3zM1635.1 2149.3h81.3v14.1h-81.3zM1635.1 2177.6h81.3v14.1h-81.3zM1635.1 2304.8h81.3v14.1h-81.3zM1635.1 2446.2h81.3v14.1h-81.3zM1729.2 2205.9h81.6v14.1h-81.6z"/>
<path fill="#9E4043" d="M1635.1 1923.1h81.3v14.1h-81.3z"/>
<path fill="#CA9698" d="M1635.1 1951.3h81.3v14.1h-81.3zM1635.1 2022h81.3v14.1h-81.3zM1635.1 2036.2h81.3v14.1h-81.3zM1635.1 2163.4h81.3v14.1h-81.3zM1635.1 2234.1h81.3v14.1h-81.3zM1635.1 2347.3h81.3v14.1h-81.3zM1635.1 2418h81.3v14.1h-81.3z"/>
<path fill="#8C1C20" d="M1635.1 1979.6h81.3v14.1h-81.3zM1635.1 2191.7h81.3v14.1h-81.3zM1635.1 2205.9h81.3v14.1h-81.3zM1635.1 2290.7h81.3v14.1h-81.3z"/>
<path fill="#BD7D7F" d="M1635.1 2135.2h81.3v14.1h-81.3z"/>
<path fill="#A44C4F" d="M1635.1 2220h81.3v14.1h-81.3z"/>
<path fill="#AB585B" d="M1635.1 2248.3h81.3v14.1h-81.3z"/>
<path fill="#B77173" d="M1635.1 2262.4h81.3v14.1h-81.3zM1635.1 2474.5h81.3v14.1h-81.3z"/>
<path fill="#B16567" d="M1635.1 2276.6h81.3v14.1h-81.3z"/>
<path fill="#C3898C" d="M1635.1 2488.7h81.3v14.1h-81.3z"/>
<path fill="#F3E7E7" d="M1729.2 1852.4h81.6v14.1h-81.6zM1729.2 2135.2h81.6v14.1h-81.6zM1729.2 2220h81.6v14.1h-81.6zM1729.2 2276.6h81.6v14.1h-81.6zM1729.2 2290.7h81.6v14.1h-81.6zM1729.2 2418h81.6v14.1h-81.6z"/>
<path fill="none" stroke="#000" stroke-opacity="0.2" stroke-width="0.8" d="M1540.9 1795.8H1622.5M1540.9 1809.9H1622.5M1540.9 1824.1H1622.5M1540.9 1838.2H1622.5M1540.9 1852.4H1622.5M1540.9 1866.5H1622.5M1540.9 1880.6H1622.5M1540.9 1894.8H1622.5M1540.9 1908.9H1622.5M1540.9 1923.1H1622.5M1540.9 1937.2H1622.5M1540.9 1951.3H1622.5M1540.9 1965.5H1622.5M1540.9 1979.6H1622.5M1540.9 1993.8H1622.5M1540.9 2007.9H1622.5M1540.9 2022H1622.5M1540.9 2036.2H1622.5M1540.9 2050.3H1622.5M1540.9 2064.5H1622.5M1540.9 2078.6H1622.5M1540.9 2092.7H1622.5M1540.9 2106.9H1622.5M1540.9 2121H1622.5M1540.9 2135.2H1622.5M1540.9 2149.3H1622.5M1540.9 2163.4H1622.5M1540.9 2177.6H1622.5M1540.9 2191.7H1622.5M1540.9 2205.9H1622.5M1540.9 2220H1622.5M1540.9 2234.1H1622.5M1540.9 2248.3H1622.5M1540.9 2262.4H1622.5M1540.9 2276.6H1622.5M1540.9 2290.7H1622.5M1540.9 2304.8H1622.5M1540.9 2319H1622.5M1540.9 2333.1H1622.5M1540.9 2347.3H1622.5M1540.9 2361.4H1622.5M1540.9 2375.5H1622.5M1540.9 2389.7H1622.5M1540.9 2403.8H1622.5M1540.9 2418H1622.5M1540.9 2432.1H1622.5M1540.9 2446.2H1622.5M1540.9 2460.4H1622.5M1540.9 2474.5H1622.5M1540.9 2488.7H1622.5M1540.9 2502.8H1622.5M1540.9 1795.8V2502.8M1622.5 1795.8V2502.8M1635.1 1795.8H1716.4M1635.1 1809.9H1716.4M1635.1 1824.1H1716.4M1635.1 1838.2H1716.4M1635.1 1852.4H1716.4M1635.1 1866.5H1716.4M1635.1 1880.6H1716.4M1635.1 1894.8H1716.4M1635.1 1908.9H1716.4M1635.1 1923.1H1716.4M1635.1 1937.2H1716.4M1635.1 1951.3H1716.4M1635.1 1965.5H1716.4M1635.1 1979.6H1716.4M1635.1 1993.8H1716.4M1635.1 2007.9H1716.4M1635.1 2022H1716.4M1635.1 2036.2H1716.4M1635.1 2050.3H1716.4M1635.1 2064.5H1716.4M1635.1 2078.6H1716.4M1635.1 2092.7H1716.4M1635.1 2106.9H1716.4M1635.1 2121H1716.4M1635.1 2135.2H1716.4M1635.1 2149.3H1716.4M1635.1 2163.4H1716.4M1635.1 2177.6H1716.4M1635.1 2191.7H1716.4M1635.1 2205.9H1716.4M1635.1 2220H1716.4M1635.1 2234.1H1716.4M1635.1 2248.3H1716.4M1635.1 2262.4H1716.4M1635.1 2276.6H1716.4M1635.1 2290.7H1716.4M1635.1 2304.8H1716.4M1635.1 2319H1716.4M1635.1 2333.1H1716.4M1635.1 2347.3H1716.4M1635.1 2361.4H1716.4M1635.1 2375.5H1716.4M1635.1 2389.7H1716.4M1635.1 2403.8H1716.4M1635.1 2418H1716.4M1635.1 2432.1H1716.4M1635.1 2446.2H1716.4M1635.1 2460.4H1716.4M1635.1 2474.5H1716.4M1635.1 2488.7H1716.4M1635.1 2502.8H1716.4M1635.1 1795.8V2502.8M1716.4 1795.8V2502.8M1729.2 1795.8H1810.8M1729.2 1809.9H1810.8M1729.2 1824.1H1810.8M1729.2 1838.2H1810.8M1729.2 1852.4H1810.8M1729.2 1866.5H1810.8M1729.2 1880.6H1810.8M1729.2 1894.8H1810.8M1729.2 1908.9H1810.8M1729.2 1923.1H1810.8M1729.2 1937.2H1810.8M1729.2 1951.3H1810.8M1729.2 1965.5H1810.8M1729.2 1979.6H1810.8M1729.2 1993.8H1810.8M1729.2 2007.9H1810.8M1729.2 2022H1810.8M1729.2 2036.2H1810.8M1729.2 2050.3H1810.8M1729.2 2064.5H1810.8M1729.2 2078.6H1810.8M1729.2 2092.7H1810.8M1729.2 2106.9H1810.8M1729.2 2121H1810.8M1729.2 2135.2H1810.8M1729.2 2149.3H1810.8M1729.2 2163.4H1810.8M1729.2 2177.6H1810.8M1729.2 2191.7H1810.8M1729.2 2205.9H1810.8M1729.2 2220H1810.8M1729.2 2234.1H1810.8M1729.2 2248.3H1810.8M1729.2 2262.4H1810.8M1729.2 2276.6H1810.8M1729.2 2290.7H1810.8M1729.2 2304.8H1810.8M1729.2 2319H1810.8M1729.2 2333.1H1810.8M1729.2 2347.3H1810.8M1729.2 2361.4H1810.8M1729.2 2375.5H1810.8M1729.2 2389.7H1810.8M1729.2 2403.8H1810.8M1729.2 2418H1810.8M1729.2 2432.1H1810.8M1729.2 2446.2H1810.8M1729.2 2460.4H1810.8M1729.2 2474.5H1810.8M1729.2 2488.7H1810.8M1729.2 2502.8H1810.8M1729.2 1795.8V2502.8M1810.8 1795.8V2502.8"/>
<path stroke="#000" stroke-width="1.6" d="M1674.5 1817h2.4M1674.5 1831.1h2.4M1674.5 1845.3h2.4M1674.5 1859.4h2.4M1674.5 1873.6h2.4M1674.5 1887.7h2.4M1674.5 1901.8h2.4M1674.5 1916h2.4M1674.5 1930.1h2.4M1674.5 1944.3h2.4M1674.5 1958.4h2.4M1674.5 1986.7h2.4M1674.5 2000.8h2.4M1674.5 2015h2.4M1674.5 2029.1h2.4M1674.5 2043.2h2.4M1674.5 2071.5h2.4M1674.5 2085.7h2.4M1674.5 2142.2h2.4M1674.5 2156.4h2.4M1674.5 2170.5h2.4M1674.5 2184.7h2.4M1674.5 2198.8h2.4M1674.5 2212.9h2.4M1674.5 2227.1h2.4M1674.5 2241.2h2.4M1674.5 2255.3h2.4M1674.5 2269.5h2.4M1674.5 2283.6h2.4M1674.5 2297.8h2.4M1674.5 2311.9h2.4M1674.5 2326.1h2.4M1674.5 2340.2h2.4M1674.5 2354.3h2.4M1674.5 2368.5h2.4M1674.5 2410.9h2.4M1674.5 2425h2.4M1674.5 2453.3h2.4M1674.5 2467.5h2.4M1674.5 2481.6h2.4M1674.5 2495.7h2.4M1768.8 1831.1h2.4M1768.8 1859.4h2.4M1768.8 1887.7h2.4M1768.8 1901.8h2.4M1768.8 1916h2.4M1768.8 1986.7h2.4M1768.8 2142.2h2.4M1768.8 2170.5h2.4M1768.8 2184.7h2.4M1768.8 2198.8h2.4M1768.8 2212.9h2.4M1768.8 2227.1h2.4M1768.8 2241.2h2.4M1768.8 2269.5h2.4M1768.8 2283.6h2.4M1768.8 2297.8h2.4M1768.8 2311.9h2.4M1768.8 2326.1h2.4M1768.8 2340.2h2.4M1768.8 2354.3h2.4M1768.8 2425h2.4M1768.8 2467.5h2.4M1768.8 2481.6h2.4M1768.8 2495.7h2.4"/>
<rect x="1537.3" y="1793.3" width="88.8" height="711.3" fill="none" stroke="#555" stroke-width="1.3"/>
<rect x="1631.5" y="1793.3" width="88.7" height="711.3" fill="none" stroke="#555" stroke-width="1.3"/>
<rect x="1725.3" y="1793.3" width="88.5" height="711.3" fill="none" stroke="#555" stroke-width="1.3"/>
<g font-size="13.3" fill="#111" stroke="#111" stroke-width="0.22" text-anchor="end" transform="translate(1526,0) scale(1.0,1)">
<text x="0" y="1807.7">G530011O06Rik</text>
<text x="0" y="1821.8">Tceanc</text>
<text x="0" y="1835.9">Trappc2</text>
<text x="0" y="1850.1">Ofd1</text>
<text x="0" y="1864.2">Gpm6b</text>
<text x="0" y="1878.4">Gemin8</text>
<text x="0" y="1892.5">Zrsr2</text>
<text x="0" y="1906.6">Syap1</text>
<text x="0" y="1920.8">Txlng</text>
<text x="0" y="1934.9">Rbbp7</text>
<text x="0" y="1949.1">Kdm5c</text>
<text x="0" y="1963.2">Tmem29</text>
<text x="0" y="1977.3">Mdm4−ps</text>
<text x="0" y="1991.5">Chm</text>
<text x="0" y="2005.6">Pbdc1</text>
<text x="0" y="2019.8">5530601H04Rik</text>
<text x="0" y="2033.9">Ftx</text>
<text x="0" y="2048">Jpx</text>
<text x="0" y="2062.2">Ercc6l</text>
<text x="0" y="2076.3">Igbp1</text>
<text x="0" y="2090.5">Eda2r</text>
<text x="0" y="2104.6">Eif2s3x</text>
<text x="0" y="2118.7">Gm8822</text>
<text x="0" y="2132.9">G6pdx</text>
<text x="0" y="2147">Mecp2</text>
<text x="0" y="2161.2">Hcfc1</text>
<text x="0" y="2175.3">Ssr4</text>
<text x="0" y="2189.4">Idh3g</text>
<text x="0" y="2203.6">Srpk3</text>
<text x="0" y="2217.7">Plxnb3</text>
<text x="0" y="2231.9">Abcd1</text>
<text x="0" y="2246">Bcap31</text>
<text x="0" y="2260.1">Slc6a8</text>
<text x="0" y="2274.3">Fmr1</text>
<text x="0" y="2288.4">Htatsf1</text>
<text x="0" y="2302.6">Slc9a6</text>
<text x="0" y="2316.7">Mmgt1</text>
<text x="0" y="2330.8">Utp14a</text>
<text x="0" y="2345">Araf</text>
<text x="0" y="2359.1">Cdk16</text>
<text x="0" y="2373.3">Uba1</text>
<text x="0" y="2387.4">Rbm10</text>
<text x="0" y="2401.5">Ndufb11</text>
<text x="0" y="2415.7">Gm14539</text>
<text x="0" y="2429.8">Kdm6a</text>
<text x="0" y="2444">Gm9434</text>
<text x="0" y="2458.1">Ddx3x</text>
<text x="0" y="2472.2">Usp9x</text>
<text x="0" y="2486.4">Med14</text>
<text x="0" y="2500.5">1810030O07Rik</text>
</g>
<path stroke="#444" stroke-width="1.15" d="M1531.5 1802.9H1536M1531.5 1817H1536M1531.5 1831.1H1536M1531.5 1845.3H1536M1531.5 1859.4H1536M1531.5 1873.6H1536M1531.5 1887.7H1536M1531.5 1901.8H1536M1531.5 1916H1536M1531.5 1930.1H1536M1531.5 1944.3H1536M1531.5 1958.4H1536M1531.5 1972.5H1536M1531.5 1986.7H1536M1531.5 2000.8H1536M1531.5 2015H1536M1531.5 2029.1H1536M1531.5 2043.2H1536M1531.5 2057.4H1536M1531.5 2071.5H1536M1531.5 2085.7H1536M1531.5 2099.8H1536M1531.5 2113.9H1536M1531.5 2128.1H1536M1531.5 2142.2H1536M1531.5 2156.4H1536M1531.5 2170.5H1536M1531.5 2184.7H1536M1531.5 2198.8H1536M1531.5 2212.9H1536M1531.5 2227.1H1536M1531.5 2241.2H1536M1531.5 2255.3H1536M1531.5 2269.5H1536M1531.5 2283.6H1536M1531.5 2297.8H1536M1531.5 2311.9H1536M1531.5 2326.1H1536M1531.5 2340.2H1536M1531.5 2354.3H1536M1531.5 2368.5H1536M1531.5 2382.6H1536M1531.5 2396.8H1536M1531.5 2410.9H1536M1531.5 2425H1536M1531.5 2439.2H1536M1531.5 2453.3H1536M1531.5 2467.4H1536M1531.5 2481.6H1536M1531.5 2495.7H1536"/>
<text x="1607" y="2548" font-size="20.5" text-anchor="middle">Log2</text>
<text x="1607" y="2572.7" font-size="20.5" text-anchor="middle">Fold Change</text>
<defs><linearGradient id="g1122" x1="0" y1="0" x2="0" y2="1"><stop offset="0.000" stop-color="#DCDCEE"/><stop offset="0.092" stop-color="#E2E2F0"/><stop offset="0.167" stop-color="#FFFFFF"/><stop offset="0.333" stop-color="#E6CECF"/><stop offset="0.500" stop-color="#CFA0A2"/><stop offset="0.667" stop-color="#B87376"/><stop offset="0.833" stop-color="#A2474B"/><stop offset="1.000" stop-color="#8C1C20"/></linearGradient></defs>
<rect x="1674.5" y="2520.1" width="14.4" height="71.2" fill="url(#g1122)"/>
<text x="1694.5" y="2526.2" font-size="14.5">1</text>
<text x="1694.5" y="2537.2" font-size="14.5">0</text>
<text x="1694.5" y="2548.1" font-size="14.5">−1</text>
<text x="1694.5" y="2559.1" font-size="14.5">−2</text>
<text x="1694.5" y="2569.6" font-size="14.5">−3</text>
<text x="1694.5" y="2580.6" font-size="14.5">−4</text>
<text x="1694.5" y="2592" font-size="14.5">−5</text>
<defs><clipPath id="c1131"><path d="M1827.8,1803.5 A9,11.7 0 0 1 1845.8,1803.5 L1845.8,2492.9 A9,11.7 0 0 1 1827.8,2492.9 Z"/></clipPath></defs>
<g clip-path="url(#c1131)">
<rect x="1826.8" y="1791.8" width="20" height="35.6" fill="#FFFFFF"/>
<rect x="1826.8" y="1827.1" width="20" height="30.2" fill="#A9A9A9"/>
<rect x="1826.8" y="1857" width="20" height="32.3" fill="#FFFFFF"/>
<rect x="1826.8" y="1889" width="20" height="31.1" fill="#A9A9A9"/>
<rect x="1826.8" y="1919.8" width="20" height="16.4" fill="#FFFFFF"/>
<rect x="1826.8" y="1935.9" width="20" height="58" fill="#000000"/>
<rect x="1826.8" y="1993.6" width="20" height="4.7" fill="#FFFFFF"/>
<rect x="1826.8" y="1998" width="20" height="43.7" fill="#000000"/>
<rect x="1826.8" y="2041.4" width="20" height="37.6" fill="#FFFFFF"/>
<rect x="1826.8" y="2078.7" width="20" height="38.1" fill="#000000"/>
<rect x="1826.8" y="2116.5" width="20" height="4.8" fill="#FFFFFF"/>
<rect x="1826.8" y="2121" width="20" height="37.6" fill="#000000"/>
<rect x="1826.8" y="2158.3" width="20" height="20.6" fill="#FFFFFF"/>
<rect x="1826.8" y="2178.6" width="20" height="26.7" fill="#575757"/>
<rect x="1826.8" y="2205" width="20" height="7.7" fill="#FFFFFF"/>
<rect x="1826.8" y="2212.4" width="20" height="26.3" fill="#575757"/>
<rect x="1826.8" y="2238.4" width="20" height="30.2" fill="#FFFFFF"/>
<rect x="1826.8" y="2268.3" width="20" height="34.7" fill="#575757"/>
<rect x="1826.8" y="2302.7" width="20" height="34" fill="#FFFFFF"/>
<rect x="1826.8" y="2336.4" width="20" height="23.3" fill="#575757"/>
<rect x="1826.8" y="2359.4" width="20" height="4.8" fill="#FFFFFF"/>
<rect x="1826.8" y="2363.9" width="20" height="22.7" fill="#575757"/>
<rect x="1826.8" y="2386.3" width="20" height="29.5" fill="#FFFFFF"/>
<rect x="1826.8" y="2415.5" width="20" height="12.3" fill="#A9A9A9"/>
<rect x="1826.8" y="2427.5" width="20" height="11.1" fill="#FFFFFF"/>
<rect x="1826.8" y="2438.3" width="20" height="66.6" fill="#000000"/>
</g>
<path d="M1827.8,1803.5 A9,11.7 0 0 1 1845.8,1803.5 L1845.8,2492.9 A9,11.7 0 0 1 1827.8,2492.9 Z" fill="none" stroke="#6A6A6A" stroke-width="1"/>
<text x="1850.2" y="1843.4" font-size="19.5" text-anchor="middle" transform="rotate(90 1850.2 1843.4)">Telomere</text>
<text x="1850.2" y="2433.3" font-size="19.5" text-anchor="middle" transform="rotate(90 1850.2 2433.3)">Centromere</text>
</svg></body></html>
